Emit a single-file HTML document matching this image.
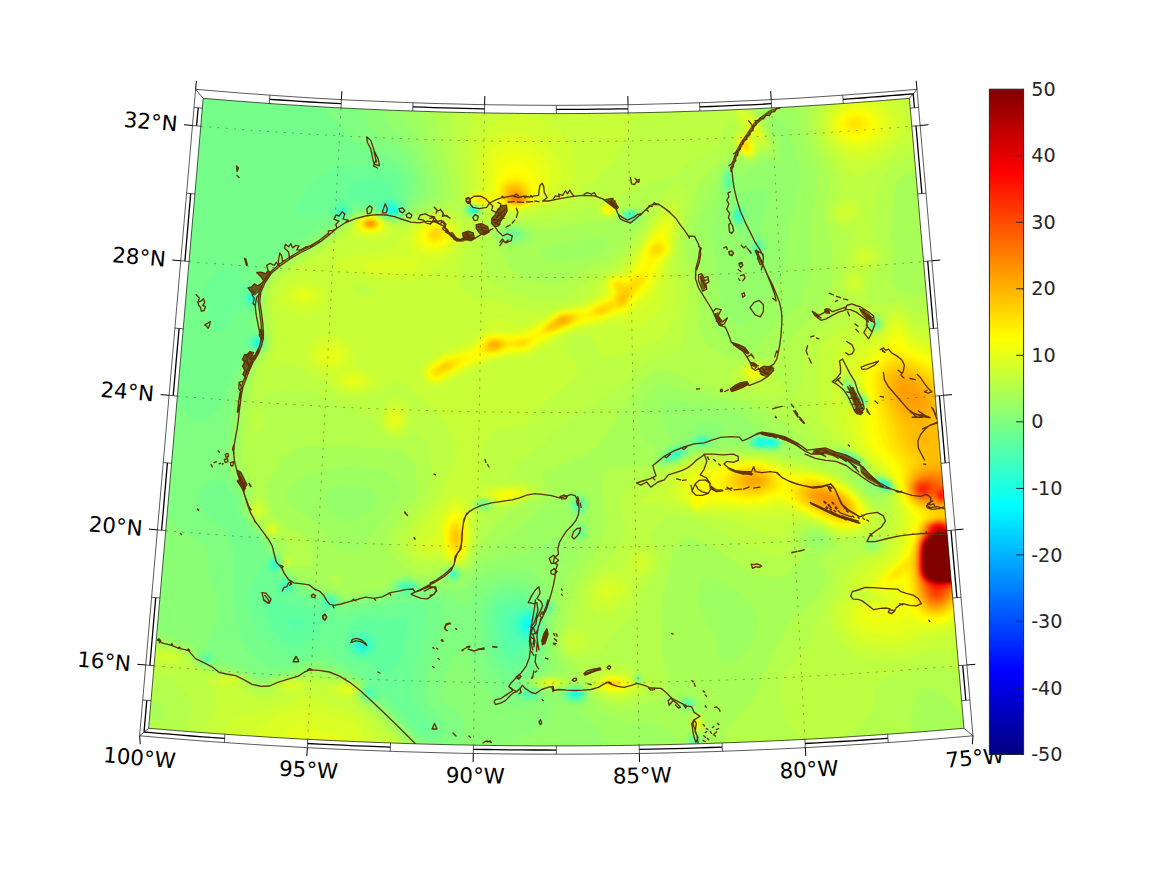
<!DOCTYPE html><html><head><meta charset="utf-8"><title>map</title>
<style>html,body{margin:0;padding:0;background:#fff}svg{display:block}</style></head><body>
<svg width="1167" height="875" viewBox="0 0 1167 875">
<rect width="1167" height="875" fill="#fff"/>
<defs><clipPath id="mc"><path d="M203.2 98.3 L215.1 99.3 L227.1 100.3 L239 101.2 L251 102.1 L262.9 103 L274.9 103.9 L286.8 104.7 L298.8 105.4 L310.7 106.2 L322.7 106.9 L334.7 107.6 L346.6 108.2 L358.6 108.8 L370.6 109.3 L382.6 109.9 L394.5 110.4 L406.5 110.8 L418.5 111.2 L430.5 111.6 L442.5 112 L454.4 112.3 L466.4 112.6 L478.4 112.8 L490.4 113 L502.4 113.2 L514.4 113.3 L526.3 113.5 L538.3 113.5 L550.3 113.6 L562.3 113.6 L574.3 113.5 L586.3 113.5 L598.2 113.3 L610.2 113.2 L622.2 113 L634.2 112.8 L646.2 112.6 L658.2 112.3 L670.1 112 L682.1 111.6 L694.1 111.2 L706.1 110.8 L718.1 110.4 L730 109.9 L742 109.3 L754 108.8 L766 108.2 L777.9 107.6 L789.9 106.9 L801.9 106.2 L813.8 105.4 L825.8 104.7 L837.7 103.9 L849.7 103 L861.6 102.1 L873.6 101.2 L885.5 100.3 L897.5 99.3 L909.4 98.3 L909.4 98.3 L964 728.3 L964 728.3 L950.2 729.4 L936.4 730.6 L922.7 731.7 L908.9 732.7 L895.1 733.7 L881.2 734.7 L867.4 735.6 L853.6 736.5 L839.8 737.4 L826 738.2 L812.2 739 L798.4 739.7 L784.5 740.4 L770.7 741 L756.9 741.6 L743.1 742.2 L729.2 742.7 L715.4 743.2 L701.6 743.7 L687.7 744.1 L673.9 744.4 L660.1 744.8 L646.2 745 L632.4 745.3 L618.6 745.5 L604.7 745.7 L590.9 745.8 L577.1 745.9 L563.2 745.9 L549.4 745.9 L535.5 745.9 L521.7 745.8 L507.9 745.7 L494 745.5 L480.2 745.3 L466.4 745 L452.5 744.8 L438.7 744.4 L424.9 744.1 L411 743.7 L397.2 743.2 L383.4 742.7 L369.5 742.2 L355.7 741.6 L341.9 741 L328.1 740.4 L314.2 739.7 L300.4 739 L286.6 738.2 L272.8 737.4 L259 736.5 L245.2 735.6 L231.4 734.7 L217.5 733.7 L203.7 732.7 L189.9 731.7 L176.2 730.6 L162.4 729.4 L148.6 728.3Z"/></clipPath></defs>
<g clip-path="url(#mc)">
<path d="M203.2 98.3 L215.1 99.3 L227.1 100.3 L239 101.2 L251 102.1 L262.9 103 L274.9 103.9 L286.8 104.7 L298.8 105.4 L310.7 106.2 L322.7 106.9 L334.7 107.6 L346.6 108.2 L358.6 108.8 L370.6 109.3 L382.6 109.9 L394.5 110.4 L406.5 110.8 L418.5 111.2 L430.5 111.6 L442.5 112 L454.4 112.3 L466.4 112.6 L478.4 112.8 L490.4 113 L502.4 113.2 L514.4 113.3 L526.3 113.5 L538.3 113.5 L550.3 113.6 L562.3 113.6 L574.3 113.5 L586.3 113.5 L598.2 113.3 L610.2 113.2 L622.2 113 L634.2 112.8 L646.2 112.6 L658.2 112.3 L670.1 112 L682.1 111.6 L694.1 111.2 L706.1 110.8 L718.1 110.4 L730 109.9 L742 109.3 L754 108.8 L766 108.2 L777.9 107.6 L789.9 106.9 L801.9 106.2 L813.8 105.4 L825.8 104.7 L837.7 103.9 L849.7 103 L861.6 102.1 L873.6 101.2 L885.5 100.3 L897.5 99.3 L909.4 98.3 L909.4 98.3 L964 728.3 L964 728.3 L950.2 729.4 L936.4 730.6 L922.7 731.7 L908.9 732.7 L895.1 733.7 L881.2 734.7 L867.4 735.6 L853.6 736.5 L839.8 737.4 L826 738.2 L812.2 739 L798.4 739.7 L784.5 740.4 L770.7 741 L756.9 741.6 L743.1 742.2 L729.2 742.7 L715.4 743.2 L701.6 743.7 L687.7 744.1 L673.9 744.4 L660.1 744.8 L646.2 745 L632.4 745.3 L618.6 745.5 L604.7 745.7 L590.9 745.8 L577.1 745.9 L563.2 745.9 L549.4 745.9 L535.5 745.9 L521.7 745.8 L507.9 745.7 L494 745.5 L480.2 745.3 L466.4 745 L452.5 744.8 L438.7 744.4 L424.9 744.1 L411 743.7 L397.2 743.2 L383.4 742.7 L369.5 742.2 L355.7 741.6 L341.9 741 L328.1 740.4 L314.2 739.7 L300.4 739 L286.6 738.2 L272.8 737.4 L259 736.5 L245.2 735.6 L231.4 734.7 L217.5 733.7 L203.7 732.7 L189.9 731.7 L176.2 730.6 L162.4 729.4 L148.6 728.3Z" fill="#9dff62"/>
<defs><filter id="fb" x="0" y="0" width="100%" height="100%" filterUnits="userSpaceOnUse" color-interpolation-filters="sRGB"><feGaussianBlur stdDeviation="1.2"/></filter></defs><g fill-rule="evenodd" filter="url(#fb)"><rect x="130" y="80" width="860" height="690" fill="#b3ff4c"/>
<path fill="#bdff42" d="M456 90l283 0 4.4 8 11.4 16 7.6 12 4.8 10 1.2 4 0.6 4 -0.3 2 -1.2 2 -1.5 0.7 -6 0.3 -2 2.8 -1.9 4.2 -2.1 2.1 -4 1.2 -2 -0.2 -4 -1.5 -4 -2.7 -2.9 -2.9 -4.2 -6 -1.6 -4 -0.7 -4 0.5 -4 1.2 -2 3.9 -4 0 -2 -2.2 -3.1 -2 -1.4 -2 -0.4 -2 1 -2 2.9 -8.6 19 -3.3 4 -2.4 2 -17.1 10 -16.6 12.5 -4 2.4 -12 3.2 -8 2.8 -36 16.8 -0.4 2.3 1.9 4 0 4 -3.5 6.5 -2 2.1 -2 1.1 -4 0.7 -6 -1.3 -4.4 -3.1 -2.8 -4 -0.8 -2.2 -2 -1.5 -2 0.1 -10 2.8 -18 6.5 -8 2.1 -18 2.8 -22 -0.6 -12 0.9 -11.2 3.1 -4 2 -2.8 2.3 -2.2 3.7 -0.9 4 0.4 12 1.1 10 1.6 7.3 2 5.5 3 5.2 3.7 4 5.4 4 10.6 6 7.3 3.3 6 2 8 1.6 18 2.4 8 0.1 6 -0.9 6 -2.2 4 -2.4 18.1 -15.9 21.9 -12.6 6 -4.3 6 -5.3 6 -6.5 8 -10.9 9.3 -16.4 6.7 -12.9 10 -15.1 4 -5.1 4 -3.9 4 -1.5 2 0.5 2 1.2 3 4.8 1.3 4 0.8 6 -0.5 12 -4.6 26.5 -0.5 11.5 -1.6 10 0.9 6 6.9 16 2.3 10 0.2 8 -0.5 8 -3.3 24 -2.7 12 -1.7 3.7 -2 2.4 -6 3.3 -22 7.1 -10 5.6 -6 5 -10 11.5 -6 5.7 -22 15.2 -24 13.2 -6 4.1 -5.7 5.2 -10.2 12 -6.1 5.9 -6 4.6 -14 9.1 -7.2 6.4 -6 8 -1.4 4 1.3 2 1.3 0.5 4.5 1.5 13.5 2.9 6.8 3.1 1.9 2 0.7 2 -0.3 2 -3.1 4 -6 3.8 -8 3.5 -12 3.6 -10 2 -2 -0.4 -2 -1.6 -3.6 -4.9 -4.4 -3 -6 -1.4 -4 0.7 -3.1 1.7 -1.7 2 -0.6 2 0.1 2 0.9 2 2.4 2.9 8.6 5.1 0 2 -4.6 10.6 -8.9 27.4 -3 6 -2.1 2.9 -2 1.4 -2 0.3 -8 -1.8 -4 -0.2 -26 2 -4 -0.8 -4 -1.7 -4 -2.5 -4.3 -3.6 -3.6 -4 -2.4 -4 -1.3 -4 -0.4 -4 1.2 -8 3.5 -8 5.7 -8 11.5 -12 3.1 -4 3.2 -6 1.8 -6 1 -8 0.4 -10 -0.3 -8 -1.1 -8 -1.5 -6 -2.5 -6 -2.3 -4 -3.4 -4 -2.7 -2 -3.6 -0.7 -14 6.3 -6 0.6 -6 -1.5 -4.4 -2.7 -4 -4 -2.7 -4 -4.9 -9.3 -4 -4 -16.5 -6.7 -21.5 -7.2 -16 -7.1 -6 -2.2 -4 -0.8 -6 -0.2 -14 1.7 -14 0.7 -4 1.1 -3.7 2 -6.3 5.8 -1.3 -5.8 -0.2 -6 1.5 -8.5 5.4 -17.5 2.7 -6 5.2 -8 1.9 -6 -0.1 -6 -3.5 -30 0.3 -10 1.1 -6 2.5 -6 4.5 -6.3 4 -3.9 9.9 -7.8 11.8 -8 24.3 -14.3 16 -12.3 12.5 -13.4 5.5 -3.3 4 -1.4 6 -0.7 4 0.5 4 1.6 12 6.6 8 1.8 4 -0.2 4 -1.2 14 -7.2 8 -3.1 12 -2.6 16 -1 2 0.8 6 6.5 4 2.4 4 1.1 4 0 4 -1.3 3.5 -3.3 1.4 -4 -0.4 -2 -1.5 -2 -3.2 -2 -7.8 -2.4 -4 -0.3 -6 0.6 -2 -0.9 -0.6 -1 -0.2 -2 1.5 -10 -5.4 -34 -3.5 -44 0.7 -10 2.3 -12zM830 90l150 0 0 62.5 -4 -0.8 -12 -4.4 -8 -1.6 -10 -0.1 -10 1.6 -8 2.5 -10 3.9 -20 9.6 -9.2 6.8 -3.5 4 -2.6 4 -3.1 8 -3.4 20 -4.6 18 -0.6 4 0.1 2 1.3 4 6.8 10 2 4 1.5 6 -0.1 4 -1.2 4 -2.4 4 -8.1 8 -0.9 3 -0.5 11 -4.2 12 0.7 1.1 2 1.2 10 1.6 4 -0.1 10 -1.9 6 0.2 6 2 12 7.2 4 1.1 6 -0.5 10 -3.8 12 -7.8 11.8 -10.3 14.2 -15 4 -3 2 -0.7 0 410.6 -6 -1.9 -11.1 -6 -9 -4 -9.9 -3 -8 -1.1 -8 0.1 -8 1.3 -32 9.4 -6.2 3.3 -2.1 2 -2.7 4 -2 6 -0.9 12 -0.8 4 -3.1 6 -4.2 4.5 -12 10.2 -12 7.8 -6 2.6 -6 1.9 -10 1 -10 -1.6 -8 -3.5 -4 -2.7 -4 -3.6 -4.9 -6.6 -4.3 -10 -2.4 -12 -0.6 -14 1.5 -10 2.7 -7.2 4 -6.6 16.4 -18.2 3.8 -6 8.6 -24 6.4 -14 7.3 -14 2.2 -8 1.5 -14 0.7 -2 2.1 -2 11 -3.5 10 -5.8 2 -0.2 10 1.2 4 -0.8 2 -1 2.4 -1.9 1.4 -2 0.8 -4 -0.6 -2.2 -2 -3.1 -4 -2.3 -6 -0.1 -12 3.3 -16 -0.3 -6 -2.4 -10 -6.9 -8 -3.8 -8 -1.7 -6 0.4 -3 1.1 -2.6 2 -4.5 6 -2.2 6 -1.7 10 -2 3.3 -2 1.7 -4 1.8 -4 0.6 -4 -0.2 -8 -2 -12 -5.2 -14 -7.1 -18.5 -10.9 -8.6 -4 -30.9 -11.2 -8 -1.1 -6 1 -5.9 3.3 -4 4 -6 8 -1.4 4 0.7 4 5.6 10 2.2 6 0.5 8 -0.8 4 -1.6 4 -3.3 5.1 -6.5 6.9 -2.8 4 -5.7 16 -5.5 10 -5.5 7 -11.8 11 -3.6 4 -8.6 14 -4 2.9 -8 2.4 -10 2 -6 -0.1 -6 -2 -4 -3.3 -2.5 -3.9 -1.1 -6 1.2 -6 2.1 -4 2.3 -3 7 -7 2.4 -4 1.3 -6 1.9 -18 1.7 -6 2.9 -6 6.8 -8.6 13.7 -11.4 4 -4 10.8 -14 3.6 -6 1.1 -4 0 -4 -4.3 -20 -0.5 -6 0.2 -4 1.7 -6 2.4 -4 3.3 -3.2 4.7 -2.8 13.3 -4.8 14.5 -7.2 13.5 -5.1 14 -6.8 6 -2.2 8 -1.1 48 -3.1 14 0.9 9.4 1.4 18.6 4.6 24 4.6 12 3.9 10 5.4 10 7.2 28 25.5 4 2.9 2 0.5 2 -0.7 1.8 -1.9 1.5 -4 0.9 -6 3.8 -3 2.8 -3 0.6 -2 -0.5 -4 -2.9 -4.5 -6 -4.7 -4 -1.7 -8 -1.9 -2.6 -1.2 -2.6 -6 -2.5 -4 -4.3 -4.5 -6 -4.7 -6 -3.4 -6 -2.6 -6 -1.7 -12 -1.3 -3.4 -1.8 -2.6 -2.2 -5.3 -5.8 -5.5 -8 -12.2 -22 -2.1 -6 0 -2 0.8 -2 4.3 -6.8 2 -5.2 0.7 -6 -0.5 -12 0.6 -6 2.4 -8 4.1 -8 6.7 -8.7 10 -9.6 10 -7.6 15.8 -10.1 1.6 -2 -0.8 -2 -4.6 -3.6 -4 -4.5 -2.8 -5.9 -0.6 -4 0.9 -6 5.1 -10 0.3 -4 -1.2 -8 0.4 -4 1.1 -4 3.7 -8 0.9 -4 -0.7 -2 -2.3 -2 -8.8 -4.5 -4 -2.7 -2.8 -2.8 -2.5 -4 -1 -4 0.9 -6 2 -4 7.6 -10 0.9 -4 -0.3 -4 -1.6 -6 -3.5 -8 -16.4 -30 -2.8 -8 -1.4 -8 0.2 -10 2.7 -9.3 4.9 -8.7zM870.6 312l-2.6 1.6 -3.1 4.4 -0.8 4 0.6 4 2.5 4 2.8 2 4 1.1 4 -0.7 3.5 -2.4 2.3 -4 0.6 -4 -0.8 -4 -1.6 -3.2 -2 -2.1 -2 -1.2 -4 -0.8zM842.7 378l-1.7 4 0 4 1.5 6 3 6 4.5 5.3 8 5.9 4 0.7 2 -0.6 2 -1.6 1.7 -3.7 0 -4 -1.7 -3.4 -6 -4.7 -6 -9.8 -4 -3.9 -4 -1.6 -2 0.3zM746 361.8l6 -1.2 8 0.4 6 2.1 4.1 2.9 3.3 4 3.7 10 5.3 6 2.7 4 0.7 2 -0.1 2 -1.5 2 -6.2 2.2 -6 -0.3 -14 -5.6 -18 -2.7 -3.6 -1.6 -2.8 -2 -1.9 -2 -2.1 -4 -0.4 -2 1.3 -4 3.1 -4 4.3 -4 4.1 -2.6zM256 402.6l1.1 3.4 5.4 10 1.3 6 -0.7 4 -2.4 4 -2.7 2.6 -2 1.2 -2 0 -1.6 -1.8 -0.6 -2 -0.2 -10 1 -8 1.4 -5.3 1.9 -2.7zM256 497.5l2 -0.5 2 0.5 2 1.4 2.3 3.1 1.7 4 0.8 4 -0.3 4 -1.8 4 -2.7 1.4 -4 -0.1 -2 -0.9 -2.6 -2.4 -2 -4 -0.4 -4 0.6 -4 2.4 -4.8zM268 520.6l2 -0.3 4 0.5 4.5 3.2 1.2 2 0.7 4 -0.5 2 -1.9 2.7 -2.5 1.3 -3.5 0.3 -4 -1.7 -2 -2.3 -1.1 -2.3 -0.2 -4 1.3 -3.9zM286 557.2l2 -0.4 2 0.8 2 2.4 0.5 2 -0.3 2 -2.2 2.6 -2 0.5 -2 -0.5 -1.9 -2.6 -0.1 -4.2zM146 649.6l8 -1.1 10 0 8 0.9 6 1.6 5.5 3 2.1 2 3.7 6 3.4 4 7.3 5.1 6 2.4 6 1.5 18 0.2 8 1.8 4.9 3 2.8 6 2.2 2 6.1 3 6 2 6 0.3 5.4 -1.3 2.4 -2 0.9 -4 1.3 -2 4 -2.5 8 -1.9 28 -0.3 14 1.6 14 0.8 8 1.6 4 2.3 1.3 2.4 -1.5 10 0.5 2 1.7 2.8 4 3.8 8 5.4 24 21.9 11.7 14.1 2.4 4 1.1 4 -257.5 0 1.2 -2 2 -2 17.1 -12.5 8 -8.2 4 -5.5 4.5 -7.8 2.6 -6 1.1 -6 -0.7 -4 -2.6 -4 -8.9 -9.6 -7.9 -10.4 -2.1 -1.7 -2 -1 -4 -0.5 -14 1.9 -10 -0.4 0 -25.5zM608 663.4l6 -0.6 6 0.6 8 1.8 7.1 2.8 2.3 2 -1.4 1.3 -3 4.7 0.1 4 1.2 2 1.7 1.6 2 0.8 2 -0.1 2 -0.8 1.8 -1.5 1.5 -2 0.7 -3.5 2 0.2 2.6 3.3 1.1 4 -0.7 4 -1.2 2 -4.2 4 -5.6 3.3 -8 3.5 -8 2.2 -4 0.2 -6 -0.9 -10 -3.3 -6 -2.8 -4 -3.4 -5.1 -6.8 -2.3 -4 -0.3 -2 2 -4 5.7 -5.4 6 -4zM548 677.8l6 -0.1 6 0.7 4.8 1.6 1.3 2 -1.6 2 -3.6 2 -6.9 1.5 -10 -0.5 -3.7 -1 -3.5 -2 -0.4 -2 2.4 -2 3.2 -1.1zM696 715.4l2 -0.1 2 0.8 2.2 1.9 1.8 4 0.2 2 -0.7 4 -1.4 2 -2.1 1.4 -2 0.3 -4 -0.9 -3 -2.8 -0.6 -2 -0.1 -4 0.6 -2 3.1 -3.8z"/>
<path fill="#c7ff38" d="M492 90l187.1 0 0.3 8 -0.9 4 -1.1 2 -3.4 3.3 -4 2.1 -8.8 2.6 -19.2 3.1 -4 1.4 -2.3 1.5 -2.9 4 -5.7 14 -4 8 -5.8 10 -5.6 8 -6.7 8 -10.2 10 -11.1 10 -10.2 8 -7.5 4.7 -8 4.1 -16 5.4 -10 2.3 -8 1.2 -18 0.3 -8 -0.7 -6 -1.4 -2 -0.8 -5.7 -5.1 -3.5 -2 -6.8 -2.3 -9.1 -1.7 -1.5 -2 1.1 -4 4 -6 0.2 -2 -2.9 -16 -0.8 -14 1 -14.1 3.1 -15.9 2.9 -9.2 4 -8.3 4 -5.7 9.1 -10.8 1.6 -4zM848 90l67.4 0 4.9 8 2.5 8 0.3 8 -2.2 10 -3.8 8 -5.9 8 -8.7 8 -20.2 14 -14.3 11.1 -4 2.6 -4 1.4 -4 -0.3 -6 -3.2 -4 -3.5 -6 -6.8 -10 -13.7 -4.8 -7.6 -2.7 -6 -2.1 -8 -0.2 -6 0.9 -6 2.3 -6 2.6 -4.1 4 -4.7 6 -4.9 6 -3.7zM732 101.8l2 -1.3 4 0.9 4 2.5 6 5.3 6 7 4.1 5.8 4.7 8 2.6 6 1 4 -0.4 4.1 -2 1.5 -4 0 -2 0.7 -2.3 7.7 -1.7 2.4 -2 1.2 -4 0.3 -2 -0.6 -4 -2.3 -4.7 -5 -2.3 -4 -1.2 -6 0.8 -4 1.5 -2 5.9 -3.8 0.1 -2.2 -9.3 -18 -1.2 -4 -0.2 -2zM604 201.5l2 -0.6 4 0 4 1.5 2 1.8 1.3 1.8 0.1 4 -1.4 2.8 -2 2.3 -4 1.8 -4 -0.1 -4 -1.6 -3.1 -3.2 -0.6 -2 0.4 -4 1.5 -2zM672 201.5l2 0 2 0.7 1.8 1.8 1.6 4 0.6 4 -0.3 10 -3 18 -0.3 10 -1 4 -3.2 8 -0.5 4 0.3 6.3 4.8 15.7 0.8 8 -0.9 8 -2.9 12 -3.6 10 -3.4 6 -4.8 5.1 -8 4.7 -34 13.4 -6 1.8 -4 0.4 -6 -1 -3.4 -2.4 -2.6 -4.1 -4.2 -9.9 -3.3 -4 -4.5 -1.4 -4 0 -7.4 1.4 -4.7 2 -3.4 4 -0.9 2 0 4 2.8 6 7.3 10 2.2 4 0.3 4 -1.7 4 -5.9 6 -23.2 18 -6.9 6 -5.5 6 -7 9.3 -3.3 2.7 -6.7 2.4 -18 2.4 -4 1.5 -4 2.6 -2.9 3.1 -2.5 4 -2.5 6 -1.8 6 -4.1 26 0.6 4 1.2 1.1 1.4 0.9 4.6 0.5 24 -1 14 1.2 4.6 1.3 3.8 2 1.6 2 0.1 2 -0.9 2 -4.8 4 -6.4 3.1 -8 2.5 -10 2.1 -6 -0.3 -8 -6.2 -6 -2.4 -6 0 -4 1.8 -1.5 1.4 -1.3 2 -0.4 4 4 8 0.6 2 -1.2 18 -1.2 8 -2.6 10 -3.4 8 -3 4 -2 0.9 -2 0.1 -14 -1.8 -8 -3.3 -2 -0.3 -12 0.2 -4 -1.1 -5.1 -2.7 -4 -4 -2.7 -6 0 -6 1.9 -6 3.2 -6 4.2 -6 15.2 -18 5.7 -8 4.4 -8 12.3 -28 1 -6 -0.7 -8 -3.6 -12 -3.4 -8 -5.3 -8 -9.1 -9.2 -32 -25.1 -6 -3.1 -2 -0.1 -2 0.7 -7.5 6.8 -4.5 2.9 -6 2.6 -6 1.8 -6 0.9 -10 0.1 -10 -1.8 -8 -3.5 -4.3 -3 -9.7 -10 -26 -13.4 -6 -0.4 -12 3.4 -4 -0.3 -2 -2.5 -0.1 -2.8 5.6 -16 0.5 -12 -0.5 -6 -3.5 -17.6 -0.4 -10.4 0.4 -4 1.2 -4 3.3 -6 5.5 -5.8 18.6 -14.2 25.4 -14.9 16 -11.6 4 -4.1 5 -9.4 3.1 -4 3.9 -3.3 4 -2.1 6 -1.4 6 0.5 5.4 2.3 14.6 9 6 1.7 6 -1.4 12.5 -7.3 7.5 -3.4 8 -2.1 10 -0.3 8 1.7 6 3 5.3 5.1 2.7 6 1.1 6 -0.3 6 -1.7 8 -3.9 12 -1 6 -0.2 6 0.6 6 1.7 6 2.2 4 3.5 4 4 2.6 4 1.6 24 3.4 30 9.4 8 1.2 6 -0.7 14 -5 18.9 -4.5 4.5 -2 2.9 -2 4 -4 6 -8 7.3 -8 6.4 -4.7 10.3 -5.3 7.7 -7.1 8 -10.5 18 -29.5 6 -8.5 8 -8zM355 286l-1.2 2 0 2 0.9 2 1.6 2 3.7 2.3 4 0.8 4 -0.7 3 -2.4 0.9 -2 -0.2 -2 -1.4 -2 -3.1 -2 -7.2 -1.5zM844 201.6l6 -1.4 4 0.1 4 1.9 2 2.9 1.1 4.9 -0.6 4 -2.1 4 -4.4 3.6 -6 1.6 -6 -1 -4 -2.3 -3 -3.9 -0.6 -4 1.4 -4 3.8 -4zM860 245.9l6 -0.9 4 1.1 2 1.1 2 1.8 1.9 3 0.9 4 -0.9 4 -1.2 2 -2.7 2.6 -6 2.8 -6 1.2 -2 -0.9 -4 -5.2 -1.1 -2.5 -0.6 -4 1 -4 1.3 -2 1.9 -2zM854 271.7l4 -0.8 2 1.6 3.2 5.5 0.8 4 -0.4 4 -1.6 3.3 -2 2 -4 1.7 -4 -0.2 -4 -2.5 -1.7 -2.3 -1.2 -4 0.5 -4 2.2 -4 2.2 -2.1zM976 301.2l4 -1.1 0 353.9 -22 -4.5 -14 -1 -6 0.4 -6 1.2 -20 7.3 -10 2.2 -8 0.3 -16 -1.2 -12 0.2 -8 -1.2 -6 -3.1 -4 -3.9 -14.4 -20.7 -2.4 -6 -0.7 -4 0 -4 0.9 -6 1.8 -6 1.9 -4 6 -8 0.8 -2 0.9 -8 1.2 -3.9 2 -4.1 3 -4 13.6 -12 3.4 -1.4 8 -1.1 4 -1.3 3.4 -2.2 3.2 -4 1.1 -4 0.3 -10 4 -11.9 1.7 -8.1 0.4 -6 -0.7 -8 0.3 -2 4 -6 0.3 -4 -1.5 -4 -4.5 -5.2 -6 -3.7 -8.1 -3.1 -1.9 -1.2 -6.3 -8.8 -5.7 -5.7 -10 -7.1 -16.9 -9.2 -4 -4 -5.5 -8 -2.9 -6 -1.9 -6 -2.3 -14 0 -40 1.5 -10 1.6 -4 2.4 -4 6 -6.2 10 -6.4 14 -6.1 4 -0.8 2 0.7 6 6.3 4 2.2 4 0.7 4 -0.7 2 -0.9 3 -2.8 2.1 -4 1.1 -10 0.7 -2 3.1 -2.9 4 -1.8 4 -0.3 4 1.3 5 3.7 9 9.3 4 2 6 0.6 8 -1.6 10.5 -4.3 11.1 -6zM841 376l-1.8 4 0.1 6 1.7 6 4.4 8 4.6 4.9 6 4.3 4 1.6 2 0 2 -0.8 2.4 -2 1.8 -4 -0.1 -4 -1.9 -4 -6.2 -5.4 -5 -8.6 -5 -5.5 -4 -2.1 -2 -0.1zM748 363.3l4 -0.8 6 0.2 4 1.3 3.3 2 1.9 2 1.7 4 -0.3 4 -2.5 4 -4.1 2.9 -8 1.8 -8 -1.1 -4 -2.1 -2.8 -3.5 -0.7 -2 0 -4 0.8 -2 2.7 -3.4zM392 397.5l6 -0.9 2 0.3 4 2 2 1.9 2.1 3.2 1.6 4 0.8 4 -0.3 8 -1.1 4 -1.9 4 -5.2 5.5 -2 1.1 -4 1.1 -4 -0.3 -2 -0.6 -4 -2.8 -3.1 -4 -1.7 -4 -0.8 -4 0.5 -8 2.2 -6 2.9 -4.2 4 -3.4zM742 456l14 -0.2 12 1.3 23.8 6.9 18.2 2.9 8 1.9 8 2.7 8 3.7 10 6 8 5.9 9.8 8.9 7.4 8 4.1 6 2.4 6 0.9 6 -0.7 4 -0.9 2 -1.9 2 -3.1 1.7 -8 2.8 -10 1.6 -8 0.3 -6 -1.4 -12 -7.1 -8 -3.8 -8 -2.3 -10 -1.2 -6.5 1.4 -13.5 11.1 -4 1.4 -4 0.2 -6 -1.1 -8 -2.5 -16.3 -7.1 -9.7 -3.2 -8 -1.5 -28 -3.7 -18 -6.4 -20 -6.2 -4 -0.3 -10 2.1 -2.2 -0.8 -1 -2 0.4 -2 2 -2 6.8 -2.7 4 -3.1 13.2 -18.2 5.2 -4 11.4 -6 8.2 -3.1 6 -1.1zM256 501.3l2 -0.5 2 0.7 2.4 2.5 1.6 4 0.2 4 -0.6 2 -1.6 2.3 -2 1 -2 0 -2 -0.8 -2 -2 -1.2 -2.5 -0.4 -2 0.4 -4 1.2 -2.8zM268 523.4l2 -0.9 4 0.4 3.4 3.1 0.9 4 -0.6 2 -1.7 2 -2 0.9 -2 0.2 -3 -1.1 -2.1 -2 -1.1 -4 0.3 -2zM638 549.4l4 -0.3 4 1.1 4 2.7 2 2.6 1.2 2.5 0.7 4 -0.5 4 -1.7 4 -1.7 2.1 -4 3.2 -11.1 4.7 -1.2 2 -1.7 10 -1.3 4 -3.6 6 -5.1 4.9 -8 4.9 -8 2.6 -6 0.1 -4 -1.6 -3.1 -2.9 -2.5 -4 -1.6 -4 -0.7 -4 0.4 -8 1.4 -4 2.1 -3.6 6 -6.1 6 -3.4 6 -2 12 -2.1 2 -1.9 2.6 -6.9 3.4 -5.5 4 -3.4zM286 559l2 -0.1 1.6 1.1 0.9 2 -0.3 2 -2.2 1.8 -2 -0.5 -0.9 -1.3 -0.5 -2zM574 631.6l4 -0.6 4 0.9 2.8 2.1 1.8 4 0 4 -2.6 5.4 -4 3.1 -4 1 -4 -0.6 -2 -1 -2 -1.9 -1.8 -4 0.1 -4 1.7 -3.9 2 -2.2zM158 651.8l4 -0.7 6 -0.2 8 1.7 2.9 1.4 2.2 2 1.1 2 0.3 2 -0.5 2 -2 2 -4 0.8 -12 -0.7 -8 -1.6 -3.8 -2.5 -1 -2 0.3 -2 1.6 -2zM606 671.5l6 -1 6 -0.1 6 0.6 6 1.5 1.5 1.5 0.9 6 1.6 2.7 2 1.8 2 1 5 0.5 0.2 2 -3.4 4 -3.8 2.5 -6 2.6 -6 1.6 -4 0.4 -6 -0.5 -6 -1.4 -6 -2.1 -4 -2.1 -3.4 -3 -2.8 -4 -0.9 -4 0.7 -2 1.5 -2 2.9 -2.4 4 -2.2zM214 678l12 -1.8 6 0.4 5.2 1.4 2.9 2 0.9 2 -0.3 2 -3.2 4 -0.6 2 10.1 4 9 4.7 6 1.1 6 -0.6 8 -1.9 4.4 -1.3 3.1 -2 -0.7 -2 -4.3 -4 -0.6 -2 0.9 -2 1.2 -0.9 1.9 -1.1 4.1 -1.1 6 -0.6 8 0.6 20 4.7 4 -0.1 16 -2.6 6 0.2 6 1.3 2.7 1.6 1.4 2 -0.4 4 -2.5 6 -0.2 2 1.8 4 3.5 4 9.7 8.1 10 10.2 12 10 4.4 5.7 3.4 6 1.8 4 0.9 4 -210.7 0 2.1 -6 10.1 -16.3 6.5 -11.7 3.9 -8 3.1 -8 1.7 -8 -0.3 -6 -1.8 -2 -8.2 -6 -0.8 -2 2 -2zM542 679.8l6 -1.2 6 0 6.8 1.4 2.3 2 -1.1 2 -4.4 2 -5.6 0.8 -6 -0.3 -4 -0.9 -3.2 -1.6 -0.5 -2zM696 716.9l2 0 2 1 1.8 2.1 0.9 2 0 4 -0.9 2 -1.8 2 -2 0.6 -2 -0.1 -2 -0.9 -1.5 -1.6 -0.9 -2 0 -4 0.8 -2 1.6 -2z"/>
<path fill="#d1ff2e" d="M852 95.9l8 -1.4 10 -0.1 10 1.7 8 2.9 6 3.6 5.7 5.4 3.6 6 1.5 6 -0.1 6 -1.8 6 -3.5 6 -5.4 5.7 -8.2 6.3 -11.8 7 -10 4.4 -6 1.3 -6 -0.8 -4 -2 -6 -5 -6 -6.2 -5.3 -6.7 -2.7 -4.5 -2.3 -5.5 -1.1 -6 0.3 -6 1.1 -4 1.9 -4 2.8 -4 4.2 -4 5.1 -3.5 6 -2.7zM740 109.1l2 -0.1 4 2 4 3.4 4 4.4 6.2 9.2 2.8 6 1 4 0 2.3 -1.1 1.7 -0.9 0.5 -4 -0.1 -2 1 -0.4 6.6 -1.2 4 -2.4 2.4 -2 0.6 -4 -0.7 -4 -2.5 -3.5 -3.8 -2.7 -6 -0.4 -4 1.6 -4 3 -1.9 4 -0.9 2.1 -1.2 -0.3 -2 -6.4 -14 -0.7 -4 0.5 -2zM510 115.9l10 -1.5 10 1 10 3.8 10 6.4 10.5 8.4 7.5 8.4 3.3 5.6 1.6 4 2.2 10 -0.5 10 -2.4 8 -4.6 8 -5.6 5.9 -8.5 6.1 -13.5 7 -10 3.8 -10 1.8 -6 0.2 -6 -0.5 -6 -1.1 -8 -2.5 -8 -1.1 -10 -3.7 -7.8 -1.9 -2.3 -2 0.1 -2 1.2 -2 2.8 -2.5 5.3 -3.5 0.9 -2 -2.9 -14 -0.2 -12 1.9 -12 1.8 -6 2.6 -6 5.3 -8 3.3 -3.5 4 -3.2 8 -4.1zM604 203.2l2 -0.7 4 0 3.6 1.5 2.1 2 0.8 2 -0.2 2 -2.3 3.8 -2 1.4 -4 0.7 -4 -0.9 -2 -1.4 -1.4 -1.6 -0.7 -2 0 -2 0.8 -2zM844 207.3l4 -0.4 2 0.6 2.6 2.5 0.5 2 -0.4 2 -2.7 3 -2.8 1 -3.2 -0.1 -2 -0.9 -2 -2.2 -0.5 -2.8 0.7 -2 1.8 -1.7zM668 209.8l4 -0.2 2 1.3 2.2 5.1 0.3 8 -2.3 16 0 10 -1.3 4 -4.4 8 -1.2 4 -1.5 10 -0.9 18 -1.8 8 -2.5 6 -3.4 6 -3.2 3.9 -4 3.5 -8 3.9 -10 2.2 -8 0.1 -10 -2 -4 0 -20 2.3 -10 1.9 -7.9 2.2 -5.4 2 -26.7 17.1 -12 6.7 -4 1.1 -17 1.1 -9 1.4 -9 2.6 -31.6 14 -17.4 8.9 -6 0.6 -4 -1 -4 -2.5 -3.5 -4 -1.6 -4 -0.3 -6 2.5 -6 2.9 -3.2 16 -10.5 20.1 -6.3 4.2 -2 7.8 -6 13.6 -14 4.3 -3.2 4 -1.4 4 -0.2 4 1.1 8 4.6 4 1.7 2 0.3 6.6 -0.9 13.4 -4.2 20 -10.8 24 -5 10.9 -6 4.9 -4 2.2 -2.6 3.2 -9.4 3 -4 3.8 -2.8 9.3 -3.2 2.7 -1.5 6 -6.2 6 -8.3 5.5 -10 15.3 -24 7.2 -8.3zM368 215.7l4 0.1 4 1 8.1 5.2 4.4 4 1.5 2 0.8 2 0 2 -0.8 2 -4 3.3 -4 1.4 -10 1.6 -10 -0.6 -6 -2.3 -2 -1.9 -1.5 -3.5 0.1 -4 1.6 -4 3.4 -4 2.9 -2 3.5 -1.5zM430 217.6l6 -1 6 0.2 5.2 1.2 4.4 2 2.8 2 3.6 4 1.9 4 1.1 6 -0.3 4 -1.1 4 -1.9 4 -2.7 4 -21 20 -4 2.9 -6 2.7 -8 1.8 -12 0.7 -16 -0.4 -10 -1.1 -31.7 -6.6 -7 -2 -3.1 -2 -1 -2 0.4 -2 1.6 -2 2.8 -2.1 6 -2.7 8 -2.2 8 -1.5 26 -3.4 5.6 -2.1 2.4 -2 3.6 -6 3.1 -4 8.6 -8 8.7 -6.2 6 -2.9zM862 251.2l4 -0.4 2 0.6 2 1.7 1.2 2.9 -0.3 2 -1.3 2 -3.6 2 -2 0.1 -2 -0.3 -2.6 -1.8 -1.1 -2 -0.3 -2 0.7 -2 1.3 -1.5zM854 277.5l2 0.2 2 1.3 1.4 3 0 2 -1.4 2.7 -2 1.4 -2 0.2 -2 -0.6 -1.9 -1.7 -0.8 -2 0 -2 0.8 -2 1.9 -1.8zM298 281.5l6 -1.3 6 0.2 6 2 6 4 3.1 3.6 1.7 4 0.2 2 -0.7 4 -2.4 4 -3.9 3.7 -6 3.6 -4 1.6 -6 1.4 -4 0.3 -6 -1 -4 -1.8 -4 -3 -3.8 -4.8 -1.6 -4 -0.2 -4 1.2 -4 2.4 -3.1 3.7 -2.9zM894 315l4 -0.7 4 1.5 4 3.6 6 8.6 4 4 4 1.9 6 0.8 10 -0.7 9.3 -2 11.7 -4 17 -7.3 6 -1.3 0.1 236.6 -0.1 75.4 -16 0.9 -32 6.5 -6 1.8 -18 8.3 -6 1.5 -8 0.5 -24 -2.2 -6 -1.4 -6 -2.8 -6 -4.8 -6.7 -7.7 -3.7 -6 -2.1 -6 -0.6 -6 0.8 -6 1.6 -4 2.7 -3.2 2 -1.2 4 -1.1 16 -0.2 1.2 -0.3 1.2 -2 -1.6 -2 -2.8 -1.9 -8 -3.8 -2.8 -2.3 -0.9 -2 -0.1 -2 0.5 -2 2.3 -4 6.7 -8 6.1 -6 3.4 -2 8.8 -3.3 4.2 -2.7 3.8 -4 3.5 -6 3.4 -10 2.2 -12 -0.1 -10 -2.6 -12 0 -2 2.3 -6 0.3 -2 -0.2 -2 -1.6 -4 -3.2 -4.1 -6 -4.8 -9.4 -5.1 -11 -12 -17.7 -14 -3.5 -4 -5.1 -10 -4.1 -12 -2.4 -12 -0.9 -12 0.3 -6 1.8 -4.6 5.1 10.6 3.8 6 7.1 7 6 3.6 4 1.1 4 -0.7 3.2 -3 1.6 -4 -0.1 -4 -0.7 -2 -2 -3.1 -5.4 -4.9 -4.6 -8.3 -4 -5.4 -4 -3.7 -4 -2.1 -4 -0.4 -4 1.3 -2 -0.8 -0.7 -6.6 0.7 -6 2 -4.6 4 -4.7 6 -4.2 8 -4.5 8 -3.4 4 -0.5 8 0.5 6 -1.8 2 -1.5 2.8 -3.3 5.2 -12zM322 336l8 -1 8 1.3 6 2.4 6 4.5 3.4 4.8 1.3 4 0.2 4 -0.8 8 1.9 2.5 12 5.8 4.6 3.7 1.2 2 0.6 4 -1.9 4 -2.3 2 -3.5 2 -6.7 1.9 -8 0.3 -8 -1.6 -4 -1.7 -3.9 -2.9 -2.8 -4 -2.4 -6 -1.8 -2 -12.4 -6 -5.4 -4 -3 -4 -1.4 -4 -0.1 -4 1.1 -4 2.1 -4 4 -4.2 4 -2.5zM752 364l4 0 4 0.9 4.4 3.1 1.2 2 0.5 4 -0.7 2 -3.4 3.7 -4 1.8 -6 0.4 -4 -0.8 -4.8 -3.1 -1.8 -4 0.8 -4 1.3 -2 2.5 -2zM392 405.4l4 -0.4 4 1.4 3.5 3.6 2.3 6 -0.2 6 -1.4 4 -2.2 3.1 -2 1.7 -4 1.6 -4 -0.4 -3.5 -2 -3.1 -4 -1.3 -4 0 -6 1.2 -4 2.7 -4zM740 457.9l14 -0.5 12 1.3 8 2.1 16 5.5 20 2.8 8 1.8 8 2.7 8 3.7 10 5.8 8 5.8 7.9 7.1 5.4 6 3.9 6 2.2 6 0.3 6 -1.1 4 -3.4 4 -7.2 3.6 -10 2.2 -8 0 -6 -2 -12 -6.7 -8 -3.5 -12 -3.7 -16 -3.7 -6 -0.2 -14 3.5 -8 0.5 -30 -4 -34 -1.5 -6 -2.2 -12 -7 -4.6 -3.3 -3.1 -4 -0.8 -2 -0.5 -4 0.6 -4 1.9 -6 3.2 -6 4 -4 3 -2 8.3 -3.7 6 -1.5zM508 485.9l8 0 8 1.2 4 1.9 1.3 1 0.7 2 -0.7 2 -1.9 2 -5.4 3.1 -10 3.3 -10 1.6 -4 -0.5 -10 -6.4 -7.6 -3.1 1 -2 6.6 -2.8 10 -2.3zM452 495.5l4 -1.3 4 0.2 4.9 1.6 2.8 2 0.4 8 2.4 8 1 6 0.2 16 -0.6 6 -1.8 8 -2.1 6 -2.1 4 -3.1 3.2 -2 0.6 -11.9 -1.8 -3.4 -2 -4.7 -4.3 -2 -1 -2 -0.4 -10 0.4 -4 -0.9 -3.3 -1.8 -2 -2 -1.8 -4 0.1 -4 1.6 -4 13.7 -20 13.7 -15.9 4 -3.9zM258 503.9l2 1 0.8 1.1 1.3 4 -0.2 2 -1.1 2 -2.8 1.1 -2.3 -1.1 -1.8 -4 0.1 -2 0.8 -2 1.2 -1.5zM268 525.5l2 -1.3 2 -0.2 2 0.7 1.5 1.3 1.1 2 0.1 2 -0.8 2 -1.9 1.5 -2 0.4 -2 -0.5 -1.9 -1.4 -1 -2 -0.1 -2zM642 556l2 0.4 2.4 1.6 1.6 2.7 0.3 3.3 -0.7 2 -1.6 2.1 -2 1.3 -4 0.7 -2 -0.6 -2.1 -1.5 -1.2 -2 -0.2 -4 2.3 -4 3.2 -1.8zM286 561.2l2 -0.1 0.6 0.9 -0.6 2.1 -2 -0.5zM608 577.7l6 -0.2 4 1.1 2.5 1.4 3.3 4 0.8 2 0.3 4 -0.9 3.5 -1.3 2.5 -4.7 4.8 -6 2.9 -4 0.7 -4 -0.1 -4 -1.5 -2 -1.5 -2 -2.5 -1.6 -4.8 0.2 -4 1.5 -4 3.2 -4 4.7 -3.1zM574 639.9l2 0.6 0.6 1.5 -0.6 1.2 -2 0.9 -1.4 -2.1zM164 654l4 -0.5 4.2 0.5 3.5 2 0.4 2 -2.1 1.5 -2 0.6 -4 0 -4 -1 -2.1 -1.1 -0.7 -2zM608 673.8l4 -0.6 6 -0.1 10 2.1 2 1.3 2.5 5.5 3.6 4 1.2 2 -1.2 2 -4.1 2.8 -4 1.8 -6 1.4 -4 0.2 -6 -0.5 -10 -3.2 -4 -2.5 -1.9 -2 -1.6 -4 0.3 -2 1.2 -2.1 4 -3.3 4 -1.8zM224 677.7l4 -0.3 5.3 0.6 3.9 2 0.7 2 -1.7 2 -2.2 1 -6 0.8 -6 -0.8 -2.5 -1 -2.3 -2 0.6 -2 4.2 -2zM546 679.7l6 -0.4 4 0.5 4.3 2.2 -0.9 2 -3.4 1.3 -4 0.7 -6 -0.3 -5.1 -1.7 -0.5 -2 3.6 -1.9zM286 682l6 -0.5 6 0.7 4.5 1.8 1.5 2 -0.5 2 -1.5 1.6 -4 1.4 -6 -0.4 -6 -1.2 -3.2 -1.4 -1.8 -2 0.6 -2zM336 685.6l6 -1.4 4 0 4 0.7 2.7 1.1 1.3 1.2 0.8 2.8 -0.8 2.4 -2 2.6 -2 1.6 -4 1.3 -4 -0.2 -6 -2.4 -3.6 -3.3 -0.5 -2 0.6 -2zM300 695.6l4 -0.6 4 1 24 9.4 12 3.5 12 6.4 6 4 4.5 4.7 4.7 8 6.7 16 1.9 8 -164.7 0 0.8 -4 1.4 -4 7.9 -16 6.1 -10 4.7 -5 6 -2.7 12 -0.9 6 -1.1 16 -6 12 -3.3 4 -1.9zM694 719.6l2 -1.3 2 -0.1 2.5 1.8 1.3 4 -0.3 2 -1.5 2.5 -2 1 -2 -0.1 -2.2 -1.4 -1.1 -2 -0.3 -2 0.3 -2z"/>
<path fill="#dbff24" d="M860 100l8 0.5 6 1.5 6 2.3 5.9 3.7 4.1 4 2.8 4 1.6 4 0.6 6 -1.6 6 -2.3 4 -3.6 4 -5.5 4.5 -8 4.7 -6 2.6 -6 1.6 -6 0.4 -4 -0.7 -6 -2.8 -6 -4.4 -4 -3.9 -4 -5.4 -2.2 -4.6 -1.1 -4 -0.2 -6 0.9 -4 1.9 -4 3 -4 3.7 -3.2 4 -2.5 6 -2.5 6 -1.4zM744 114.7l2 0 4 2.5 6 6.8 3.5 6 1.6 4 0.1 4 -1.2 1.1 -2 0 -4 -1.6 -2 -1.6 -2 -2.8 -6.4 -13.1 -0.4 -4zM510 131.9l10 0.8 6 1.5 6 2.4 10 5.5 9.4 7.9 5.9 8 3.1 8 0.8 6 -0.3 4 -0.9 4 -1.7 4 -2.7 4 -3.6 4 -11.5 10 -6.5 4.5 -8 3.1 -8 1.2 -8 -0.4 -6 -1.2 -10 -3.7 -8 0.9 -2 -0.3 -13.8 -4.1 -2.6 -2 0.2 -2 1.5 -2 4.7 -2.9 8.5 -3.1 0.5 -2 -2.9 -14 -0.1 -8 1.8 -10 4.1 -10 4.1 -5.5 6 -4.8 6 -2.5zM740 135.7l2 -0.6 4 0.3 4 1.4 2 1.9 1.5 3.3 1.2 6 -0.5 4 -2.2 3.1 -2 0.8 -4 -0.5 -4 -2.7 -3.7 -4.7 -1.5 -4 -0.1 -4 1.3 -2.8zM606 203.6l4 -0.1 2 0.7 2.4 1.8 1 2 0 2 -0.9 2 -2.5 2.2 -2 0.8 -4 -0.1 -2 -0.9 -2.2 -2 -0.8 -2 0.1 -2 1.1 -2zM666 216l2 -0.5 2.1 0.5 2 2 1.2 4 0.2 6 -1.4 12 0.2 10 -1.5 4 -4.1 6 -1.9 4 -6.4 22 -3.4 8 -5 7.3 -6 5.6 -18 10.9 -12 1.5 -10 3.3 -24 4.9 -13.8 4.5 -40.2 22.5 -18 1.8 -10 1.8 -13.3 3.9 -30.7 14 -14 7.6 -4 1 -4 -0.4 -4 -2.1 -2.1 -2.1 -2.1 -4 -0.4 -4 1 -4 3.6 -4.6 16 -10.2 22 -6.2 7.9 -5 8.1 -6.6 6 -3.8 6 -1.4 16 0.5 10.4 -0.7 15.6 -6.1 14 -8.9 8 -4.4 6 -1.6 18 -2.7 12.9 -6.3 6.1 -4 2.4 -2 1.4 -2 0.3 -8 1.8 -4 2.1 -2 3 -1.8 10 -2.4 4 -2.6 8 -10.3 7.7 -14.9 12.3 -18.7 6 -7.1zM362 217.9l4 -1.4 4 -0.4 4 0.5 3.4 1.4 3.2 2 4.1 4 1.7 4 -0.4 2 -1.6 2 -2.4 1.6 -6 2 -8 0.4 -4 -0.4 -4 -1.4 -2 -1.1 -2 -2.2 -1 -2.9 0.1 -2 1.8 -4 1.9 -2zM430 219.5l8 -0.9 6 1 6 3 4.9 5.4 2 6 -0.5 6 -2.7 6 -5.7 5.9 -4 2.5 -6 2.5 -8 1.8 -9.2 1.3 -1.7 2 -1.2 4 -1.7 2 -4.2 2.6 -8 2.4 -12 1.3 -10 -0.3 -10.1 -2 -5.3 -2 -3 -2 -1.2 -2 0.7 -2 2.9 -2 8 -2.5 12 -1.4 24 0.2 4 -0.6 0.7 -1.7 -5 -12 -0.4 -4 0.8 -4 3.6 -6 4.1 -4 6.1 -4zM298 287.7l4 -0.8 4 -0.1 4 0.7 4 1.8 3.1 2.7 1.1 2 0.3 2 -0.4 2 -1.3 2 -2.3 2 -6.5 2.6 -4 0.5 -4 -0.3 -6 -2 -3.4 -2.8 -1.1 -2 -0.3 -2 0.4 -2 1.2 -2 2.2 -2zM894 320l4 -1 4 1.8 2.9 3.2 5.1 8.5 2.7 3.5 3.3 2.5 6 2 14 1.3 12 -0.4 10 -1.7 16 -4.2 6 -0.7 0.1 221.2 -0.1 58.9 -10 3.3 -16 8.3 -6 2.6 -8 2.1 -18 2.6 -18 8 -4 1 -6 0.5 -8 -0.4 -12 -1.5 -6 -1.4 -6 -2.3 -6 -4 -4 -4 -3.7 -5.7 -1.9 -6 -0.4 -4 0.5 -4 1.7 -4 2.4 -2 5.4 -1.6 16 -0.9 4.7 -1.5 0.9 -2 -1.5 -2 -12.5 -10 -1.3 -2 -0.2 -2 1.9 -4 6 -6.4 4.3 -3.6 11.7 -7.4 4 -3.6 3.8 -5 3.8 -8 2.4 -7.8 2 -9.9 0.4 -6.3 -1.2 -8 -4.1 -12 -0.3 -2 1 -8 -0.9 -4 -1 -2 -3.9 -5.3 -4 -3.5 -10 -7.2 -20.6 -20 -3.2 -4 -3.2 -6 -2.1 -6 -1.9 -8 -1.5 -10 0.5 -3 2 -0.8 10 2.8 4 -0.2 4.4 -2.8 1.6 -2.2 1.3 -3.8 -0.1 -4 -1.6 -4 -5.9 -6 -5.7 -10.9 -6.7 -11.1 -0.6 -4 1.3 -4 4.5 -6 6.8 -6 6.2 -4 10.5 -4.8 4 -2.6 4 -4.6 5.7 -10zM324 343.4l6 -1 6 0.7 4 1.5 4.6 3.4 2.5 4 0.5 4 -1.6 5.1 -4 5 -2 1.3 -4 0.8 -8 -0.8 -4 -1.1 -4 -1.9 -4 -3.5 -1.7 -2.9 -0.5 -2 0.4 -4 0.8 -2 3.7 -4zM750 365.7l6 -0.4 4 1.3 2 1.4 1.5 2 0.6 2 -0.2 2 -0.9 2 -3 2.7 -4 1.3 -6 -0.3 -3.6 -1.7 -1.9 -2 -0.8 -2 0 -2 0.6 -2 1.6 -2zM348 371.9l8 0.8 4 1.1 4 1.9 2.5 2.3 1 2 0.2 2 -0.8 2 -2 2 -2.9 1.6 -6 1.4 -8 -0.7 -5.1 -2.3 -2.2 -2 -1.2 -2 -0.2 -4 0.8 -2 1.9 -2.4 2 -1.1zM392 409.7l4 -0.5 2 0.7 2.5 2.1 2 4 0.4 4 -0.9 4 -2 3 -2 1.6 -2 0.7 -4 -0.4 -2 -1.3 -2 -2.5 -1.2 -3.1 -0.2 -4 1.1 -4 2.3 -3zM738 459.8l14 -0.9 12 1.2 10 2.6 16 6.2 22 2.4 8 1.9 10 3.9 8 4 10 6.3 8 6.6 5.8 6 4.1 6 2.4 6 0.6 6 -1.1 4 -1.3 2 -2.5 2.5 -6 3.1 -8 2.1 -8 0.1 -6 -1.9 -12 -6.4 -7.8 -3.5 -32.2 -12 -6 -0.2 -12 3.2 -8 1 -8 -0.2 -22 -1.9 -14 -0.5 -6 0.1 -10 1.2 -4 -0.8 -3.6 -1.9 -8.7 -8 -3.3 -4 -1 -2 -0.8 -4 0.3 -4 0.9 -4 1.5 -4 2.4 -4 4.4 -4 5.9 -2.8 8 -2.1zM504 488l8 -0.6 8 0.8 4.6 1.8 1.5 2 -0.4 2 -3.7 3.2 -6 2.6 -6 1.6 -8 1.1 -4 -0.5 -2 -0.9 -7.6 -5.1 -1.4 -2 1.8 -2 3.2 -1.4zM456 501.8l4 0.7 2 1.4 2.8 4.1 3.7 10 1.6 12 -0.6 12 -2.3 10 -1.6 4 -2.5 4 -2.4 2 -2.7 0.6 -5.2 -0.6 -4.8 -2 -8 -9.7 -4 -3.3 -2 -0.3 -6 1.3 -2 -0.5 -1.9 -1.5 -0.2 -2 2.1 -2.5 6 -2.1 2 -1.6 1.2 -3.8 1.9 -12 1.7 -4 3.8 -6 3.4 -4.2 4 -3.6 2 -1.3zM258 507.8l1 2.2 -1 1.8 -1.4 -1.8zM270 525.8l2 -0.3 1.1 0.5 1.9 2 0.1 2 -1.2 2 -1.9 0.6 -2 -0.4 -1.7 -2.2 -0.1 -2zM608 583.7l4 0 2 0.7 2.1 1.6 1 2 0.3 2 -1.4 3.5 -2 1.9 -2 1.1 -4 0.7 -4.1 -1.2 -1.9 -2 -0.6 -2 0.6 -3.8 1.7 -2.2zM608 675.5l4 -0.7 6 0 6 1.3 4 1.6 2 1.9 2.4 4.4 0.9 2 -0.3 2 -1.9 2 -3.1 1.8 -4 1.4 -4 0.7 -8 -0.2 -8 -2.3 -4.8 -3.4 -1.3 -2 -0.5 -2 0.5 -2 1.3 -2 2.5 -2zM224 679.7l4 -0.7 4 0.4 1.6 0.6 0.4 2 -4 1.3 -4 -0.2 -2.9 -1.1 0.2 -2zM544 681.4l6 -1.2 4 0.4 3.4 1.4 -1.4 2.1 -4 0.9 -4 0 -4.5 -1 -0.8 -2zM286 683.7l4 -0.8 4 0.3 2.7 0.8 0.8 2 -3.5 1.6 -6 -0.2 -3.3 -1.4 0.4 -2zM342 685.7l4 -0.3 4 0.7 2.7 1.9 0.4 2 -1 2 -2.1 1.6 -4 1 -6 -1.6 -1.5 -1 -1.3 -2 0.4 -2zM300 709.7l4 -0.5 6 0.9 20 7.1 20 5 6 2.5 4 3.9 2.4 5.4 1.5 8 1.6 14 -124.6 0 1.3 -6 4 -8 4.3 -6 6.3 -6 13.6 -10 6.6 -4 5.2 -2zM696 719.5l2 0 2.4 2.5 0.4 2 -0.4 2 -2.4 2.4 -2 -0.1 -2.3 -2.3 -0.4 -2 0.4 -2z"/>
<path fill="#e5ff1a" d="M856 104l6 0 6 1.1 6 2.3 4 2.3 2.9 2.3 3.4 4 2 4 0.9 4 -0.3 4 -1.4 4 -2.7 4 -2.8 2.8 -4.3 3.2 -5.7 3 -6 2 -4 0.7 -6 -0.2 -4 -1 -4 -1.7 -4 -2.6 -4 -3.6 -3.5 -4.6 -1.8 -4 -0.8 -4 0.1 -4 1.1 -4 2.3 -4 2.6 -2.8 4 -3 4 -2 4 -1.3zM748 119.9l2 0.7 2 1.5 4 5.1 2.2 4.8 -0.2 2.5 -2 0.2 -2 -1.2 -4 -4.9 -2.3 -4.6 -0.4 -2zM740 137.2l2 -0.7 4 0.4 4.5 3.1 2.4 4 0.8 4 -0.5 4 -1.3 2 -1.9 1 -4 -0.5 -2 -1.1 -3.5 -3.4 -2.2 -4 -0.8 -4 0.5 -2.3zM502 143.5l6 -1.1 6 0.3 8 1.8 8 3.1 6 3.4 6 4.7 4 4.5 3.3 5.8 1.5 6 0.1 4 -0.8 4 -1.6 4 -3.5 6 -8.6 12 -6.4 4.6 -8 2.5 -10 0.3 -8 -1.9 -10 -4.6 -6 2 -4 0.5 -12.2 -3.4 -2.7 -2 0.2 -2 0.7 -0.9 4 -2.6 4 -1.2 9.7 -1.3 0.7 -2 -1.6 -14 -0.1 -6 1.6 -10 2.3 -6 3.4 -5 4 -3.5zM604 205.6l4 -1.4 4 0.9 2.5 2.9 0 2 -0.9 2 -3.6 2.2 -4 -0.1 -2 -1.1 -1.1 -1 -0.9 -2 0.2 -2zM364 217.6l6 -1.1 4 0.6 2.4 0.9 5.5 4 1.5 2 0.6 2 -0.1 2 -1.9 2.6 -6 2.8 -8 0.6 -6 -1.4 -3.8 -2.6 -1.2 -2 -0.3 -2 1.4 -4 1.8 -2zM430 221.4l4 -0.9 4 -0.1 6 1.5 3.7 2.1 2.2 2 2.7 4 1.1 6 -1.6 6 -4.1 5.3 -6 3.8 -8 1.9 -4 0 -4 -0.8 -4 -1.7 -3.3 -2.5 -2.7 -3.3 -1.2 -2.7 -0.4 -6 3 -6 3.9 -4 2.7 -1.9zM664 221.6l2 -0.5 2 0.4 1.9 2.5 0.5 2 0.3 4 -0.7 10 0.9 8 -0.9 4 -7.9 12 -7.5 20 -3.2 6 -5.4 6.5 -12 10.3 -6 5.9 -4 2.2 -8 1 -12 4.7 -18 3.6 -18.6 5.8 -23.2 12 -18.2 10.3 -4 0.9 -14 1 -24 5.7 -12 5.2 -34 17.3 -4 0.4 -2 -0.5 -3.7 -2.3 -1.6 -2 -1.5 -4 0.4 -4 2.4 -4 4 -3.1 12 -7.7 24 -6.6 8 -5.2 8 -6.9 6 -3.4 6 -0.7 14 1 11.8 -1.4 14.2 -5.9 16 -10.9 6 -3.4 10 -2.4 14 -1.3 2 -0.6 12 -6.2 9 -5.3 2.2 -2 0.8 -2 -1.2 -6 0.1 -2 2 -4 2.5 -2 2.6 -1.2 10 -1.4 4 -2.9 8.2 -10.5 6.3 -14 2.4 -4 11.1 -15.5 4 -4.3zM300 292l4 -0.7 4 0.6 2.8 2.1 0.6 2 -1.4 2.3 -3.5 1.7 -2.5 0.3 -4 -0.7 -2.5 -1.6 -0.9 -2 0.6 -2zM896 323.9l3.1 0.1 2.9 1.9 8.8 14.1 3.2 2.8 6 2.4 20 3.8 10 1.2 8 0 22 -2 0 256.9 -10 4.9 -16 11.4 -8 4.1 -10 2.2 -20 0.3 -4 1.1 -10 4.9 -4 1.1 -6 0.5 -18 -2.1 -10 -3 -4 -2.4 -2.3 -2.1 -2.9 -4 -1.5 -4 -0.1 -6 0.7 -2 2.1 -2.4 3.4 -1.6 2.6 -0.5 12 -0.7 6 -0.9 4.4 -1.9 1.6 -2 0 -2 -1.6 -2 -8.3 -4 -2.7 -2 -2.5 -4 -0.1 -2 0.7 -2 3.1 -4 17.4 -16.2 6 -7.8 2.6 -6 3.4 -10.5 2 -7.8 1.1 -7.7 -0.3 -4 -1.1 -4 -6.8 -16 -0.2 -8 -1.9 -6 -4.8 -6.8 -23.8 -23.2 -6.7 -8 -2.3 -4 -2.3 -6 -1.4 -6 -0.9 -8 0.7 -4 0.7 -0.8 1.5 -1.2 6.5 -2.5 3.6 -3.5 1.2 -2 1.1 -4 -0.6 -6 -2.3 -4 -5.2 -6 -4.8 -12 -0.9 -6 1.1 -4 3.3 -6 5.1 -6 4.7 -4 9.7 -6.3 4 -3.6 8 -12.9 2 -2.2zM328 347.5l4 -0.1 2.9 0.6 3.1 1.5 2.5 2.5 1 4 -1.5 3.5 -2 1.9 -4 1.6 -6 0 -4 -1.5 -2.1 -1.5 -1.5 -2 -0.7 -2 0.1 -2 0.8 -2 3.4 -3.1zM750 367.2l2 -0.6 4 0 4 1.7 1.5 1.7 0.7 2 -0.2 2 -1.3 2 -2.7 1.8 -4 0.9 -4 -0.7 -2 -1.1 -2.3 -2.9 -0.1 -2 0.7 -2zM348 377.8l4 -1 6 1 2.6 2.2 0.3 2 -1.6 2 -3.3 1.2 -6 -0.4 -2.1 -0.8 -1.8 -2 -0.2 -2zM392 413.7l2 -0.8 2 0.2 2 1.2 1.9 3.7 -0.2 4 -1.7 2.8 -2 1.3 -2 0.1 -2 -0.8 -2.3 -3.4 -0.2 -4 0.6 -2zM736 461.7l14 -1.3 12 0.8 10 2.6 14 6.3 4 1.2 22 1.6 8 1.8 10 3.8 8 4.1 8 4.9 6 4.5 6.3 6 4.6 6 2.8 6 0.9 6 -0.8 4 -2.7 4 -5.1 3.3 -8 2.5 -6 0.4 -4 -0.6 -4 -1.4 -16 -8.1 -18 -7.2 -14 -7.1 -6 -2.2 -6 0.1 -12 3.4 -10 1.2 -28 -1.8 -14 -0.3 -4 0.3 -6 1.9 -4 0.6 -4 -0.9 -3.1 -2.1 -3 -4 -3.2 -6 -1.8 -6 0.3 -4 1.9 -6 2.3 -4 1.8 -2 6.3 -4 6.2 -2zM502 489.8l8 -0.8 8 0.7 4.1 2.3 0.1 2 -1.9 2 -4.3 2.2 -6 1.8 -6 0.9 -6 -0.4 -4.6 -2.5 -2.1 -2 -0.1 -2 2.8 -1.9zM452 507.9l4 -1.1 2 0.3 4 2.9 2 3 2.2 5 2.1 10 0.1 12 -1.9 10 -3.7 8 -2.8 2.6 -2 0.7 -6 -0.9 -3.6 -2.4 -5.1 -8 -2.5 -8 0 -14 1.8 -8 1.9 -4 2.8 -4zM270 528l2 -0.5 0.8 0.5 0.3 2 -1.1 0.8 -2 -0.7zM614 676l8 1 5.9 3 2.4 4 0 2 -1.1 2 -5.2 3.1 -8 1.3 -8 -1.1 -6.1 -3.3 -1.6 -2 -0.5 -2 0.5 -2 1.5 -2 3 -2 3.2 -1.2zM546 681.9l4 -0.5 3.8 0.6 -1.8 1.9 -2 0.2 -2.2 -0.1zM344 687.3l4 0 2 0.7 0.6 2 -2.6 1.9 -4 -0.3 -2.3 -1.6 0.5 -2zM696 720.9l2 -0.1 1.2 1.2 0.6 2 -0.7 2 -1.1 1.1 -2 -0.1 -1 -1 -0.6 -2 0.5 -2zM290 729.5l8 -1.3 10 0.5 15.2 3.3 15.2 4 3.6 1.4 2 1.4 2.1 3.2 0.7 4 0.2 10 -75 0 1.9 -8 4.1 -8 6 -7.1z"/>
<path fill="#f0ff0f" d="M852 107.6l8 -0.4 8 1.8 6 3.4 5.1 5.6 1.6 4 0 6 -3.2 6 -5.5 4.8 -8 3.6 -6 0.9 -4 -0.2 -6 -1.7 -4 -2.1 -3.9 -3.3 -2.1 -2.6 -1.8 -3.4 -1.1 -4 0.2 -4 1.3 -4 2.8 -4 2.6 -2.2 4 -2.4zM742 137.6l2 0 4 1.6 2 1.9 1.8 2.9 0.8 2 0.3 4 -0.9 2.4 -2 1.6 -2 0.2 -4 -1.6 -4 -4.6 -0.9 -2 -0.6 -4 1.5 -3.3zM508 151.8l4 -0.1 6 0.9 9.3 3.4 4.7 2.8 3.7 3.2 4.3 6 1.4 4 0.5 4 -0.8 8 -3.9 12 -3.3 6 -3.9 3.2 -4 1.9 -6 1.3 -4 0.2 -4 -0.3 -6 -1.3 -4 -1.8 -8 -5.6 -2 0.5 -1.7 1.9 -3.2 2 -3.1 0.7 -4 -0.6 -6.9 -2.1 -1.1 -0.8 -1.6 -1.2 0.2 -2 2.4 -2 3 -1.2 6 -0.5 8 1.5 2 -0.9 0.2 -10.9 1.2 -12 1 -6 1.4 -4 2.1 -4 2.1 -2.5 4 -2.6zM606 205.3l4 -0.2 2 1 1.5 1.9 0.2 2 -1.1 2 -2.6 1.5 -2 0.2 -2 -0.4 -2.1 -1.3 -1 -2 0.2 -2zM366 217.4l6 -0.3 4 1.2 2.9 1.7 2.1 2 1.1 2 0.4 2 -0.6 2 -3.9 3.2 -6 1.5 -4 -0.1 -6 -1.7 -3.2 -2.9 -0.7 -2 0.1 -2 0.8 -2 1.9 -2zM436 222l6 1 4 2.3 2 2 2.6 4.7 0 6 -1.7 4 -1.5 2 -5.4 3.9 -6 1.7 -4 0.1 -4 -0.8 -5.6 -2.9 -3.3 -4 -1.2 -4 0.5 -4 2.1 -4 4 -4 5.5 -2.9zM662 227.1l2 -0.6 2 0.7 1.4 2.8 0.6 10 1.4 8 -0.9 4 -6.5 8 -2.5 4 -8.2 20 -2.4 4 -4.9 5.6 -18 17.9 -4 1.8 -6.2 0.7 -11.8 5 -22 4.6 -16 5.8 -22 10.7 -16 9.5 -4 1.8 -12 0.5 -4 0.7 -28 6.9 -6.4 2.5 -35.6 18.9 -4 0.4 -2 -0.6 -3.5 -2.7 -1.7 -4 0.4 -4 2.8 -3.8 4 -2.9 10 -6.6 24 -5.7 8 -5.4 10 -8.8 4 -2.2 6 -0.7 14 1.3 10 -0.9 14 -5.2 6 -3.7 12 -9 6 -3.6 4 -1.3 6 -1.1 16 -1.3 22 -11.6 3.9 -3.5 0.2 -2 -1.7 -6 0 -2 1.6 -3.3 2 -1.7 4 -1.4 8 -0.4 2 -0.6 3.3 -2.6 7 -8 2.6 -4 4.5 -12 3.3 -6 9.3 -11.7 4 -4zM896 329.2l2 -0.3 2 0.9 2 2.2 6 10.4 3.7 3.6 4.3 2.3 36 10.6 10 1.3 18 0.6 0 237.7 -12 7.3 -16 13.2 -8 4 -6 1.5 -6 0.3 -6 -0.7 -16 -4.4 -4 -0.5 -3.7 0.8 -6.3 3.1 -3.5 0.9 -6.5 0.3 -10 -0.5 -6 -1 -4 -1.7 -2 -1.7 -1.7 -3.4 0 -2 1 -2 3.4 -2 17.3 -1.1 6 -0.9 4 -1.4 2.4 -2.6 0.5 -2 -0.3 -4 -1.4 -4 -1.2 -1.6 -2 -0.9 -8 -0.2 -5 -1.3 -2.6 -2 -0.8 -2 0.2 -2 2.1 -4 3.2 -4 16.3 -16 4.3 -6 2.3 -5.3 4 -12.5 3.2 -14.2 -0.2 -4 -0.6 -2 -9.5 -18 -1.6 -10 -2.5 -6 -8.8 -12.7 -14.4 -15.3 -6.3 -8 -3.9 -8 -1.9 -10 0.3 -8 0.8 -2 6.2 -8 1.5 -4 0.5 -4 -1.5 -6 -5.7 -8 -1.6 -4 -1 -8 1.3 -6 2.7 -6 4.3 -6 4.1 -4 8.6 -6.4 3.9 -3.6 7.3 -12zM330 355.7l0.6 0.3 -0.8 0zM752 367.9l4 0 3.5 2.1 0.9 2 -0.4 2 -1.8 2 -2.2 0.9 -4 0.1 -2.5 -1 -1.5 -1.6 -0.5 -2.4 0.9 -2zM746 462l10 -0.1 8 1.1 9.2 3 14.8 7.4 4 0.7 14 -0.3 8 0.9 8 2 10 4.1 8 4.2 8 5.2 6 5 4.4 4.8 2.9 4 2.6 6 0.6 6 -1.2 4 -3.6 4 -5.7 2.9 -8 1.6 -6 -0.6 -4 -1.3 -14 -6.9 -20 -8.7 -16 -9.4 -6 -1.8 -6 0.8 -12 3.6 -8 1.1 -8 -0.1 -20 -1.7 -14 -0.5 -4 0.5 -6 3 -4 0.9 -4 -1 -2.6 -2.4 -1.1 -2 -1 -4 -0.2 -10 1.2 -4 1.7 -3.6 4 -4.8 6 -3.5 6.1 -2.1 24.6 -6zM500 492l6 -1.1 6 -0.2 5.3 1.3 1 2 -1.9 2 -4.5 2 -5.9 1.2 -6 0.1 -3.7 -1.3 -1.8 -2 0.9 -2zM452 511.9l4 -1.3 2 0.5 2 1.2 2 2.1 2 3.4 1.6 4.2 1.6 8 -0.2 12 -2.5 10 -2 4 -1.7 2 -2.8 1.7 -2 0.3 -2 -0.4 -3.1 -1.6 -3.4 -4 -2.8 -6 -1.6 -8 0.2 -10 1.6 -8 3 -6zM608 677.9l4 -0.9 4 0 6 1.3 3.2 1.7 1.9 2 0.7 2 -0.3 2 -1.7 2 -1.8 1.2 -6 1.8 -6 -0.1 -6 -1.8 -3.6 -3.1 -0.6 -2 0.4 -2 1.7 -2zM696 722.9l2 -0.1 0.4 1.2 -0.4 1.2 -2 -0.2 -0.4 -1z"/>
<path fill="#faff05" d="M856 109.9l8 1.2 5.9 2.9 3.9 4 1.2 2 1 4 -0.5 4 -0.9 2 -3.1 4 -5.5 3.7 -4 1.4 -4 0.6 -6 -0.5 -4 -1.4 -3.1 -1.8 -4.1 -4 -1.3 -2 -1.2 -4 0.1 -4 0.6 -2 3 -4.5 6 -3.9 4 -1.2zM742 138.8l2 -0.2 2 0.5 2 1.2 3 3.7 1.2 4 -0.1 2 -1 2 -1.1 1 -2 0.4 -2 -0.5 -2 -1.2 -3.2 -3.7 -1.5 -4 0.1 -2 0.8 -2zM512 161.9l4 -0.1 4 0.9 6.4 3.3 3.6 3.5 1.8 2.5 3.3 8 1 8 -1.4 8 -1.2 4 -3.5 4 -6 2.8 -4 0.8 -6 0.1 -4 -0.5 -4 -1.3 -3.7 -1.9 -2.5 -2 -3.2 -4 -0.8 -2 -0.7 -4 -0.1 -4 0.8 -4 2.2 -5.5 4 -8.2 2.7 -4.3 3.3 -2.8zM476 195.6l4 -0.5 5.4 0.9 3.2 2 0.6 2 -1.1 2 -4.1 2 -4 -0.3 -5.7 -1.7 -2.8 -2 0.4 -2zM608 205.6l2.3 0.4 2.4 2 0.2 2 -1.4 2 -1.5 0.8 -2 0.3 -2 -0.5 -2.3 -2.6 0.3 -2 2 -1.8zM366 217.9l6 -0.4 4 1.2 2.1 1.3 2 2 1.1 2 0.1 2 -1.1 2 -4.2 2.7 -4 0.9 -6 -0.4 -4 -1.7 -2 -2 -0.8 -1.5 0 -2 0.8 -2 1.8 -2zM432 224l6 -0.4 4 1.2 4.1 3.2 2.1 4 0.4 4 -1.3 4 -3.3 3.8 -4 2.3 -4 0.9 -6 -0.5 -5 -2.5 -3.3 -4 -0.8 -4 0.3 -2 2 -4 4.4 -4zM660 232.9l2 -0.6 2.2 1.7 3.5 12 0.1 4 -0.8 2 -7.4 8 -2.8 4 -4.1 8 -3.2 10 -2.1 4 -13.4 14.3 -6 7.4 -2.7 2.3 -3.3 1.6 -8 1.4 -12 5.3 -14 2.1 -6 1.7 -16 6.3 -26 11.8 -12 8 -4 1.9 -12 0.3 -4 0.7 -8 2.5 -14 2.5 -10 2.8 -4 1.6 -26 15 -8 3.9 -4 0.5 -2 -0.6 -1.8 -1.3 -1.5 -2 -0.6 -4 1.8 -4 8.1 -6.1 8 -4.6 14 -3 8 -1.1 6 -3.8 4 -3.3 6 -6.3 6 -3.9 2 -0.7 4 -0.2 12 1.7 6 -0.2 6 -0.8 10 -3 8 -4.1 12 -9.7 10 -6.1 8 -1.6 16 -0.5 24.2 -12.7 2.5 -2 1 -2 0.2 -2 -2.2 -6 0 -2 0.8 -2 3.5 -2.8 4 -0.7 6 0.3 2 -0.4 4 -2.6 7.8 -7.8 2.9 -4 2.4 -6 1.9 -8 2 -4 7 -7.9zM898 335.8l2 1.3 4.7 6.9 3.3 3.7 6 3.7 18 6.4 16 7.5 8 3.1 10 2.5 14 2.4 0 220.2 -12 7.9 -12 11.4 -6 4.7 -6 3 -6 1.5 -6 0.2 -8 -1.7 -8 -4.2 -4.9 -4.3 -2.8 -4 -1.9 -4 -1.9 -6 -2.2 -12 -1.3 -2 -1 -0.5 -2 0.1 -10 3.8 -4 0.5 -2 -0.4 -2 -1.5 -0.4 -2 1.5 -4 2.8 -4 5.6 -6 10.7 -10 4.4 -6 2.5 -6 4.4 -14 3.4 -14 -0.6 -4 -8.3 -12 -3.3 -6 -3 -12 -5.9 -14 -3.8 -5.7 -10.9 -12.3 -6 -8 -3.9 -8 -1.6 -8 0 -12 3.4 -10 0.6 -6 -1.3 -6 -4.9 -10 -0.4 -6 1.6 -8 2.6 -6 4.1 -6 4.1 -4 9.9 -8 3.3 -4 3.4 -5.4 2 -2.2zM752 369.5l2 -0.3 2.8 0.8 1.5 2 -0.6 2 -1.7 1.1 -2 0.5 -2 -0.4 -1.9 -1.2 -0.5 -2zM742 463.8l10 -0.8 10 1 10 3.2 16 9 4 0.6 12 -1.4 8 0.3 8 1.7 10 3.7 8 4 7.9 4.9 5.1 4 5 4.9 3.7 5.1 1.9 4 1.2 6 -0.8 4 -2.9 4 -5.1 3 -8 1.9 -6 -0.6 -6 -2.1 -30 -13.8 -7.5 -4.4 -10.5 -7.7 -2 -1 -4 -0.8 -4 0.5 -12 3.9 -8 1.6 -12 0 -20 -2.2 -14 -0.9 -4 1.4 -3.5 3.2 -2.5 1.4 -2 0.4 -2 -0.3 -2.4 -1.5 -1.2 -2 -0.4 -2 0.6 -4 5.4 -12 5.1 -6 6.3 -4 9.8 -4 12.4 -4zM502 493.7l6 -0.9 2 0.1 2.9 1.1 -1.7 2 -7.2 1.4 -2 -0.2 -2.7 -1.2zM456 513.9l2 0.4 2 1.4 3 4.3 2.6 8 0.7 8 -0.7 8 -2.4 8 -3.2 4.7 -2 1.3 -2 0.3 -2 -0.3 -2 -1.2 -3.8 -4.8 -2.8 -8 -0.6 -8 0.7 -8 2.5 -7.7 2 -3.1 2 -1.9 2 -1.1zM612 677.9l6 0.3 4.8 1.8 2.2 2 0.7 2 -0.6 2 -3.1 2.5 -4 1.2 -6 0.1 -5.4 -1.8 -2.4 -2 -0.8 -2 0.5 -2 2 -2 2.1 -1.1z"/>
<path fill="#fffa00" d="M850 113.7l4 -0.9 6 0.3 4 1.3 5 3.6 2.2 4 0.2 4 -1.4 3.6 -2 2.4 -2.7 2 -3.3 1.5 -6 0.9 -6 -1.1 -5.2 -3.3 -2.7 -4 -0.6 -2 0.1 -4 2.4 -4.3 2 -1.9zM742 139.9l2 -0.4 2 0.6 2 1.3 2 2.4 1.4 4.2 -0.2 2 -1.2 1.9 -2 0.6 -2 -0.4 -2 -1.2 -2.5 -2.9 -1.4 -4 0.2 -2zM510 173.8l4 -1.1 6 0.5 6 3.1 5.1 5.7 2 6 -0.5 10 -1.9 4 -2.7 2.3 -4 1.7 -4 1 -8 -0.1 -4 -1 -4 -1.9 -4.2 -4 -1.8 -4 -0.8 -4 0.8 -6 2 -4 2 -2.5 4 -3.5zM480 195.9l4 0.7 2.4 1.4 1 2 -1 2 -2.4 1.2 -4 0 -4.5 -1.2 -2.8 -2 0.5 -2 0.8 -0.6 2 -0.9zM606 207.1l2 -0.7 2 0.3 1.7 1.3 0.4 2 -2.1 2.1 -3.4 -0.1 -1.9 -2 0.3 -2zM368 217.9l6 0.5 4 2.2 1.4 1.4 0.9 2 -0.2 2 -1.3 2 -4.8 2.4 -4 0.5 -4 -0.6 -4.3 -2.3 -1.4 -2 -0.2 -2 0.7 -2 3.2 -2.8zM432 225.5l4 -0.7 4 0.8 3.7 2.4 1.6 2 1.2 4 -0.7 4 -1.8 2.9 -4 2.9 -4 1 -6 -0.8 -4 -2.7 -2 -3.3 -0.2 -4 1.9 -4 2.3 -2.4zM660 237.8l2 0.9 2 2.7 2 4.2 0.5 2.4 -1 4 -1.6 2 -9.1 8 -4.2 6 -1.9 4 -0.9 8 -1.8 4.5 -14 15.7 -4.2 5.8 -3.8 3.2 -4 1.3 -6 0.9 -12 5.8 -14 1.4 -4 1.1 -32 14.1 -10 3.5 -8 4.5 -5 4.2 -5 2.8 -12 0.1 -4 0.8 -8 2.9 -8 1.7 -10 0.8 -8 1.6 -3.4 -0.7 1.4 -2 4 -3.1 8 -9.7 6 -4.3 2 -0.6 4 -0.2 14 2.2 10 -1.3 10 -2.5 6 -2.4 11.3 -10.1 6.7 -5 6 -3.4 8 -1.5 16 0.4 4 -1.7 4 -3 8 -4.5 8 -3.5 4 -3 1.4 -2.8 0.1 -2 -2.5 -6 0 -2 0.9 -2 2.1 -1.6 2 -0.7 8 0.6 4 -1 6 -5.3 8 -6 1.4 -2 1.6 -4 1.2 -10 1.8 -4.9 2 -2.7 4 -3.7 4 -2.5zM896 345.2l2 -0.4 2 0.9 5.2 4.3 4.8 3.1 22 9.3 20 12.3 8 4.3 12 5 8 2.3 0 203.5 -12 7.9 -12.1 12.3 -5.9 5.1 -6 3.2 -6 1.6 -6 0.1 -6 -1.4 -6 -3.1 -5.8 -5.5 -2.6 -4 -2.5 -6 -1.9 -8 -1.3 -10 -1.9 -2.9 -2 -0.2 -2 0.5 -12 4.9 -3.3 -0.3 -1.1 -2 1.4 -4 2.9 -4 14.8 -14 4.4 -6 2.9 -7.7 5.6 -20.3 2.9 -8 -0.3 -2 -1.2 -2 -8.9 -10 -3.7 -6 -1.5 -4 -5.5 -22 -1.4 -3.5 -3 -4.5 -8.7 -10 -5.4 -8 -3.6 -8 -1.7 -8 -1.4 -16 0.7 -12 -4.1 -16 0.2 -6 1.2 -6 2.3 -6 4 -6 4 -4zM460 355.9l8 -0.2 1.4 0.3 0.3 2 -1.1 2 -2.3 2 -6.3 4.1 -14 8.3 -8 3.7 -4 0.5 -2 -0.8 -1.8 -1.8 -0.8 -2 0 -2 0.6 -2 4.3 -4 7.7 -5.4 4 -2.2zM738 466l8 -1.4 6 -0.3 6 0.4 6 1.1 6 2.1 4.1 2.1 9.9 7.7 4 2.2 4 -0.1 12 -2.7 6 -0.2 8 1.2 10 3.3 8 3.8 8 4.8 5.4 4 4.6 4.4 4.2 5.6 1.9 4 0.9 6 -1 3.8 -1.5 2.2 -2.4 2 -6.1 2.6 -6 0.7 -6 -1 -34 -15.5 -7.3 -4.8 -10.7 -9.7 -4 -1.5 -4 0.5 -16 5.7 -6 1.1 -6 0.4 -10 -0.7 -10.2 -1.8 -18.5 -4 -4.2 -2 -0.9 -2 1 -4 4.4 -6 4.1 -4 10.4 -6zM698 495.7l2 -0.3 1.4 0.6 1 2 -0.2 2 -1 2 -3.2 2 -2 -0.6 -1.2 -1.4 -0.4 -2 1.6 -3.1zM454 517.2l2 -0.4 2 0.5 2 1.5 2 2.8 2 5.3 1.1 7.1 -0.3 8 -2 8 -2.8 4.5 -2 1.5 -2 0.5 -2 -0.5 -2 -1.3 -2.1 -2.7 -2.5 -6 -1 -6 0.2 -8 1.4 -6.8 2.6 -5.2zM608 679.9l4 -1.2 6 0.4 4 1.9 1.2 1 0.6 2 -0.7 2 -3.1 2.1 -4 0.9 -6 -0.6 -4 -2.3 -1.1 -2.1 0.6 -2z"/>
<path fill="#fff000" d="M854 115.7l4 0.1 4 1.3 3.7 2.9 1 2 0.3 4 -0.9 2 -1.6 2 -2.5 1.7 -4 1.3 -6 -0.4 -4 -2.2 -2.1 -2.4 -1 -4 1.4 -4 3.7 -3zM742 141.2l2 -0.7 2 0.5 2 1.5 2.2 3.5 0.4 2 -0.6 2.4 -2 1.2 -2 -0.3 -2 -1.3 -2.7 -4 -0.3 -2zM512 177.6l4 -0.4 6 1.3 5.2 3.5 2.7 4 1.1 4 0.2 8 -1.7 4 -3.5 2.6 -6 1.8 -8 -0.1 -6.5 -2.3 -2.6 -2 -1.6 -2 -1.6 -4 -0.6 -4 0.5 -4 0.8 -2 3.6 -4.6 4 -2.6zM476 197.3l2 -0.5 4 0.1 2.6 1.1 1.3 2 -1.2 2 -0.7 0.4 -4 0.3 -3.2 -0.7 -3 -2 0.8 -2zM608 207.2l2.5 0.8 0.5 2 -1 1 -2 0.6 -2.4 -1.6 0.5 -2zM364 219.7l4 -1.4 6 0.5 2.5 1.2 2.1 2 0.9 2 -0.4 2 -1.7 2 -3.4 1.6 -4 0.5 -4 -0.6 -3 -1.5 -1.7 -2 -0.4 -2 0.6 -2zM432 227l2 -0.6 4 0.1 3.3 1.5 2 2 1 2 0.1 4 -2.2 4 -2.2 1.6 -4 1.2 -4 -0.4 -4 -2.4 -1.4 -2 -0.5 -2 0.6 -4 1.3 -2.1zM656 241.7l2 -0.6 2 0.2 2 1.2 2.5 3.5 0.3 4 -0.9 2 -1.9 2 -4 2.8 -6 2.7 -2 -0.5 -2 -4.8 0.3 -4.2 2.1 -4 3.6 -3.2zM638 273.7l4 -0.5 2 1.1 1.5 3.7 -0.4 4 -1 2 -8.9 10 -9.2 12.2 -4 2.4 -8 1.3 -12 6.2 -6 0.5 -8.9 -0.6 0.1 -2 6.9 -6 5.9 -3.5 10.4 -4.5 2.4 -2 2 -4 0.2 -2 -2.7 -6 0 -2 1.2 -2 2.5 -1.2 2 -0.1 6 1.1 4 -0.6 8 -6.5zM562 313.7l6 -0.9 4 0 6 0.8 4 1.2 1.6 1.2 -1 2 -8.6 5.3 -22 9.5 -6 1.6 -6 0.9 -1.8 -1.3 5.9 -8 2 -2 9.9 -7.5zM490 337.9l2 -0.8 4 -0.2 14 3 20 -3.4 4 -0.2 0.8 1.7 -5.5 6 -5.3 3.6 -4 0.4 -8 -0.7 -4 0.9 -10 4.1 -8 1.3 -8 -0.5 -1.8 -1.1 -0.4 -2 3.2 -6 3.8 -4zM896 351.6l2 -0.3 4 1.2 8 4 14 5.9 6.8 3.6 8.6 6 26.6 21.3 8 5.4 6 2.8 0 95.3 -3.2 7.2 -0.7 4 1 4 2.9 4.2 0 71.4 -5.1 2.4 -6.9 4.5 -4 3.7 -8.6 9.8 -5.4 4.9 -6 3.5 -6 1.7 -6 0 -6 -1.7 -6 -3.8 -4.1 -4.6 -2.4 -4 -2.4 -6 -1.6 -8 -0.9 -10 -0.6 -2.6 -1 -1.4 -1 -0.7 -2 -0.1 -12 5.3 -2 0.4 -2.3 -0.9 0 -2 2.4 -4 3.8 -4 10.1 -8.8 4.2 -5.2 1.9 -4 7.2 -26 4.3 -8 0.2 -2 -1 -2 -10.8 -10.2 -4.1 -5.8 -1.7 -4 -2 -8 -1.9 -16 -1.2 -4 -2.5 -4 -8.4 -10 -5.5 -10 -2.9 -10 -7.2 -42 -0.4 -6 0.6 -6 1.7 -6 1.9 -4 2.8 -4 4 -4 8.8 -6.4zM458 358l4 0.4 1.8 1.6 -1.8 2.5 -7.4 5.5 -8.6 5.2 -10 4.2 -2 -0.2 -2.1 -1.2 -1.1 -2 -0.1 -2 0.9 -2 8.4 -6.8 6 -3.7zM746 465.9l8 -0.3 6 0.6 6 1.6 5 2.2 5.6 4 3.6 4 2.3 4 0.6 2 -0.3 2 -1.9 2 -3.2 2 -9.7 4.7 -8 2.6 -6 0.9 -8 0 -10 -1.6 -8.5 -2.6 -4.5 -2 -2.8 -2 -1.6 -2 -0.4 -4 1.2 -4 2.8 -4 5.1 -4 3.9 -2 6.8 -2.5zM800 479.9l8 -1.6 10 1 12 4.1 12.2 6.6 7.9 6 3.9 4 2.8 4 1.8 4 0.8 4 -0.6 4 -1 2 -3.8 3.3 -4 1.7 -4 0.7 -6 -0.4 -6 -1.9 -20.6 -9.4 -11.3 -6 -5.1 -4 -3.8 -4 -3.6 -6 -1.1 -4 1 -2 2.5 -2zM454 520l2 -0.5 2 0.6 2 1.7 2.3 4.2 1.7 8 -0.3 8 -1.7 6.7 -2 3.5 -2 1.8 -2 0.5 -2 -0.5 -2 -1.7 -1.5 -2.3 -1.7 -4 -1 -6 0 -6 1 -6 1.6 -4 1.6 -2.4zM612 679.5l4 0 4 1.4 1.4 1.1 0.8 2 -1.1 2 -3.1 1.6 -4 0.5 -4 -0.8 -2 -1 -1.6 -2.3 0.6 -2 3 -2z"/>
<path fill="#ffe500" d="M854 119.5l4 0.2 3.2 2.3 0.8 2 -0.5 2 -1.7 2 -3.8 1.1 -2 -0.2 -2.3 -0.9 -1.7 -1.8 -0.5 -2.2 0.6 -2 1.9 -1.7zM744 141.6l2 0.4 2 1.6 1.4 2.4 0.3 2 -0.8 2 -0.9 0.6 -2 -0.2 -2 -1.4 -1.9 -3 -0.1 -2.6zM514 179.9l4 0.2 4 1.2 4 2.9 2.5 3.8 1.4 8 -0.3 4 -1.6 2.3 -4 2.5 -6 1.2 -8 -0.8 -3 -1.2 -2.9 -2 -2.5 -4 -0.8 -6 0.7 -4 1.1 -2 1.7 -2 3.7 -2.6zM478 197.5l4 0.3 2.4 2.2 -1.7 2 -4.7 -0.2 -3 -1.8 1.3 -2zM608 208.4l1.6 1.6 -1.6 0.4 -0.8 -0.4zM366 219.2l4 -0.7 2 0.1 3.7 1.4 2.2 2 0.8 2 -0.5 2 -2.2 2 -4 1.4 -4 -0.1 -3.7 -1.3 -2.1 -2 -0.6 -2 0.7 -2 2 -2zM434 227.8l4.1 0.2 3.1 2 1.2 2 0.4 2 -0.8 3.1 -2 2.3 -2 1.1 -4 0.4 -2 -0.6 -2.8 -2.3 -0.9 -2 -0.1 -2 0.5 -2 1.3 -1.8zM656 243.8l2 -0.4 2 0.4 2 1.5 1.4 2.7 -0.2 2 -1.2 2.1 -4 2.9 -4 1 -2 -0.4 -2 -2.9 0 -2.7 2 -3.5zM640 276l2 1 0.8 1 0.5 2 -0.5 2 -8.8 10.8 -7.5 11.2 -2.1 2 -4.4 1.8 -4 -0.1 -2 0.6 -6 3.8 -6 2.8 -4 0.5 -4 -0.6 -1.5 -0.8 -0.1 -2 3.5 -4 8.1 -4.1 8 -2.9 2 -2.3 1.5 -2.7 1.1 -4 -0.5 -2 -2.3 -4 0 -2 2.2 -2 3 0 7 1.7 4 -1.6 6 -4.9 2 -1.1zM564 314l4 -0.5 5.8 0.5 4.7 2 0.3 2 -4.4 4 -3.7 2 -16.7 7 -6 1.8 -4.6 -0.8 -0.3 -2 0.9 -2 3.5 -4 10.5 -7.9 2 -1.1zM494 337.7l6 0.8 8 3.3 2 0.3 4 -0.4 3.3 -1.7 6.7 -1.3 4 0.4 1 0.9 -0.4 2 -1.7 2 -2.9 2.2 -2 0.5 -6 -0.6 -2 -1 -2 -0.2 -4 1.2 -4 2.8 -6 2.5 -8 1.3 -4 -0.3 -2 -1 -1.6 -1.4 0.7 -4 1.3 -2 3.7 -4 3.9 -2zM898 355.9l6 1.4 16.1 6.7 7.9 4.3 7.7 5.7 6.4 6 9.2 10 22.7 28.6 6 6.2 0 35.7 -2 7.4 -1 14.1 -2.5 10 -6.4 14 -0.9 4 0.4 2 1.1 2 11.3 9.8 0 62.4 -9.1 3.8 -3.2 2 -5.7 5.5 -8.8 10.5 -5.2 4.4 -4 2.3 -6 1.8 -6 -0.1 -6 -2 -4 -2.6 -5.1 -5.8 -2.2 -4 -2 -6 -1.1 -6 -1.4 -14 -0.6 -2 -1.6 -2.2 -2 -0.3 -2 0.6 -8 4 -2 0.5 -1.6 -0.6 0.7 -2 1.5 -2 11.4 -10 4 -5.7 8.7 -30.3 6.7 -10 -0.5 -2 -10.9 -8.2 -3.8 -3.8 -2.9 -4 -1.8 -4 -2.2 -10 0.5 -14 -0.9 -6 -2.3 -4 -8.3 -10 -4 -8 -9.4 -36 -2.6 -12 -0.8 -8 0.3 -6 1.3 -6 1.8 -4 3.1 -4.5 6 -5.3 6 -3.4zM454 359.9l4 1.2 0.3 0.9 -3.4 4 -4.9 3.6 -8 4.2 -6 2.1 -2 -0.3 -1.6 -1.6 -0.1 -2 1.4 -2 6.9 -6 5.4 -3.3zM742 467.9l8 -1.1 6 0.1 6 1 6 2.2 5.9 3.9 3.2 4 1.2 4 -1.2 4 -4.5 4 -4.6 2.5 -6 2.3 -6 1.3 -6 0.3 -6 -0.5 -6 -1.3 -6.8 -2.6 -3.2 -2 -3.2 -4 -0.5 -4 1.2 -4 3.4 -4 2.8 -2 4.3 -2.1zM808 479.8l8 0.3 10 2.8 10.9 5.1 9.3 6 6.3 6 3.9 6 1.4 6 -0.2 2 -1.6 3.4 -3 2.6 -5 1.9 -4 0.4 -6 -0.9 -26.1 -11.4 -10.1 -6 -4.3 -4 -2.7 -4 -1.3 -4 0 -2 1.9 -4 2 -2 4.6 -2.6zM454 522.9l2 -0.7 2 0.6 2 2.1 2.1 5.1 0.8 6 -0.3 6 -1.7 6 -2.9 3.8 -2 0.6 -2 -0.7 -2 -2.1 -2 -4.5 -0.9 -5.1 0.1 -6 0.8 -4.5 2 -4.6zM610 681.1l2 -0.7 4 0 3.7 1.6 0.8 2 -1.5 2 -1 0.5 -2 0.5 -4 -0.1 -2.5 -0.9 -1.7 -2 0.8 -2z"/>
<path fill="#ffdb00" d="M744 142.9l2 0.2 2 2 0.6 2.9 -0.6 1.2 -2 0.1 -2 -1.5 -0.9 -1.8 0 -2zM514 181.8l4 0.3 4 1.4 3 2.5 1.4 2 2.5 10 -0.3 2 -1.3 2 -3.3 2.2 -6 1.4 -6 -0.4 -4 -1.4 -2.8 -1.8 -1.5 -2 -0.9 -2 -0.5 -4 0.4 -4 0.8 -2 1.4 -2 3.1 -2.5zM478 198.6l2 -0.2 2.8 1.6 -0.8 0.7 -2 0.6 -2 -0.5 -1.5 -0.8zM366 219.6l4 -0.8 4.9 1.2 2.3 2 0.7 2 -0.6 2 -2.7 2 -2.6 0.8 -4 0 -2.3 -0.8 -2.7 -2 -0.6 -2 0.6 -2zM434 229.5l4 0.2 2.4 2.3 0.5 2 -0.5 2 -2.4 2.4 -2 0.6 -2 -0.2 -2 -1 -1.4 -1.8 -0.3 -2 0.6 -2zM656 245.8l2 -0.3 2 0.7 1.3 1.8 0 2 -1.5 2 -1.8 1 -2 0.6 -2 -0.2 -1.7 -1.4 -0.3 -2 1 -2zM638 279.6l1.6 0.4 -1.2 4 -4.9 6 -6.8 12 -2.7 2.9 -2 1.1 -4 0.4 -4 -0.5 -2 0.5 -4 4 -6 3.3 -4 0.3 -3 -2 1 -2.2 5.8 -3.8 6.2 -1.6 2 0.3 2 -1.1 2 -2 2.8 -5.6 1.3 -4 -0.1 -2 -2.2 -4 0.2 -2 2 -0.4 2 0.4 4 1.8 4 -0.3zM560 315.7l6 -1.3 6 0.3 3.2 1.3 1.1 2 -1.3 2 -7 4.5 -16 6.1 -4 0.9 -2 -0.7 -0.8 -0.8 0.2 -2 1.4 -2 6.7 -6zM490 339.7l4 -1.2 6 0.9 5.1 2.6 1.3 2 -0.8 2 -2.3 2 -3.5 2 -5.8 1.5 -4 0.3 -2 -0.4 -3.1 -1.4 -0.9 -2 1.5 -4 1.6 -2zM520 341.5l4 -0.5 1.3 1 -1.3 2 -2 1 -4.3 -1 0.4 -2zM896 360l4 -0.3 4 0.9 16 6.6 10 6.5 8.7 8.3 7.7 10 5.8 10 11.6 28 2.3 8 0.4 6 -1 14 0.7 4 4.3 14 0.7 6 -0.3 4 -1.3 6 -1.7 4 -7.2 12 -1.5 4 0.5 2 1.8 2 18.5 10.9 0 58.4 -7.9 2.7 -6.1 3.1 -4 3.8 -7.2 9.1 -4.8 5.1 -6 4 -6 1.8 -4 0.2 -4 -0.8 -6 -3 -3.5 -3.3 -2.5 -3.4 -3.6 -8.6 -1.1 -6 -1.6 -16 -1.7 -5.3 -2 -2.7 0.3 -2 3.7 -9 2.8 -13 3.2 -8.6 2 -7.4 2.5 -4 6.6 -6 0.4 -2 -2.2 -2 -9.3 -5 -4 -2.9 -4 -4.2 -3.4 -5.9 -1.1 -4 -0.7 -6 0.5 -6 2 -10 -0.3 -6 -2.2 -4 -6.8 -8 -3.5 -6 -5.1 -18 -7.4 -22 -2.9 -12 -0.5 -10 1.1 -6 1.6 -4 2.7 -4.2 4 -3.8 4 -2.6zM446 361.9l2 -0.4 4.8 0.5 0.7 2 -1 2 -2.1 2 -6.4 3.6 -6 1.7 -2 -0.6 -0.6 -0.7 0.6 -2 1.7 -2zM752 468l6 0.4 4 0.8 6 2.5 3.2 2.3 1.9 2 1.9 4 -0.4 4 -1.2 2 -3.4 3 -5.5 3 -4.5 1.5 -6 0.9 -8 -0.2 -6 -1.4 -6 -2.6 -2.8 -2.2 -2.4 -4 -0.1 -4 2 -4 1.9 -2 3 -2 4.5 -2 5.9 -1.5zM806 481.9l8 -0.7 8 1.5 10 3.9 10 5.6 7.2 5.8 4.7 6 2.2 6 -0.3 4 -0.9 2 -2.9 2.7 -4 1.6 -4 0.5 -4 -0.4 -6 -1.8 -6 -2.5 -14 -6.4 -8 -4.5 -4.1 -3.2 -3.4 -4 -1.7 -4 -0.2 -2 1.1 -4 1.5 -2 2.8 -2.3zM454 525.9l2 -0.8 2 0.7 1.8 2.2 1.4 4 0.6 4 -0.4 6 -1.1 4 -2.3 3.3 -2 0.7 -2 -0.9 -2 -2.7 -1.6 -6.4 0.6 -8 1 -3.3zM612 681.4l2 -0.2 3.6 0.8 1.1 2 -2.7 2.1 -4 -0.1 -2.5 -2 1 -2z"/>
<path fill="#ffd100" d="M746 144.8l1 1.2 -1 2 -1.5 -2zM512 183.8l4 -0.3 4 1 2.5 1.5 1.8 2 1.7 3.5 1.9 6.5 -0.3 2 -1.6 2.2 -3.1 1.8 -2.9 0.9 -6 0.1 -6 -1.9 -3.3 -3.1 -1 -4 0.7 -6 1 -2 1.9 -2zM368 219.4l4 0 2 0.6 2 1.5 1.2 2.5 -0.8 2 -2.4 1.6 -4 0.8 -4 -0.9 -2 -1.4 -0.9 -2.1 0.5 -2 2.4 -1.9zM434 231.9l2 -0.4 2 1.3 0.4 1.2 -1.2 2 -1.2 0.5 -2.2 -0.5 -0.9 -2zM656 249.5l2 0.5 -2 0.3zM622 289l6 -0.2 1.6 1.2 0.2 2 -3.8 9.1 -2 2.3 -2 1.1 -2 0.3 -2.6 -0.8 -1.1 -2 0.2 -2 3.5 -8.2zM602 307.6l4 -0.6 0.9 1 -1.3 2 -1.6 1.1 -2 1 -3.1 -0.1 -0.1 -2zM562 315.6l4 -0.5 4 0.3 2.5 0.6 1.4 2 -0.7 2 -2.3 2 -3.6 2 -11.3 4.4 -6 1.7 -2 -0.4 -0.9 -1.7 1 -2 2 -2 7.3 -6zM492 339.6l4 -0.2 4 1 2.6 1.6 1.4 2 -0.5 2 -3.5 2.9 -2.8 1.1 -5.2 0.9 -4.7 -0.9 -1.4 -2 -0.2 -2 2.6 -4zM446 363.7l2 -0.6 1.6 0.9 0.4 2 -6 4.1 -4 0.4 -0.5 -0.5 0.9 -2 2 -2zM896 363.4l6 -0.1 6 1.7 8 3.4 8 4.6 6.2 5 5.6 6 4.4 6 3.4 6 3.2 8 3.7 18 5.4 16 0.8 6 -0.5 10 0.5 4 1.6 4 6.7 12 2 8 -0.6 8 -3.4 8 -5 6.7 -7.9 7.3 -0.6 2 3.1 2 15.9 8 11.5 4.6 0 55.8 -11 3.6 -4.2 2 -2.8 2.4 -8.9 11.6 -3.9 4 -5.2 3.6 -6 1.9 -4 0.1 -4 -0.8 -4 -2 -3.4 -2.8 -3.2 -4 -2.1 -4 -2.2 -8 -3.8 -28 3.8 -20 5.9 -18 1.1 -2 1.9 -2.2 4 -3.1 5.3 -2.7 2.5 -2 -2.1 -2 -13.7 -5.5 -6 -3.9 -4.2 -4.6 -2.8 -6 -0.8 -4 0.1 -6 1.4 -6 3.8 -10 0.5 -4 -0.4 -2 -2.4 -4 -6.9 -8 -2.3 -4 -4.7 -16 -10.6 -26 -2.2 -8 -0.9 -6 0.2 -8 1 -4 1.9 -4 5.3 -5.7zM746 469.9l10 -0.5 4 0.7 5.4 1.9 3.1 2 3.3 4 0.5 4 -0.6 2 -1.7 2.2 -4 3 -4 1.8 -6 1.4 -4 0.3 -6 -0.5 -8 -2.7 -4 -3.3 -1.4 -2.2 -0.4 -4 0.6 -2 1.3 -2 3.9 -3.2zM806 483.9l6 -1.4 8 0.8 8.1 2.7 11.7 6 7.8 6 4.9 6 2.1 6 -0.7 4 -1.9 2.5 -4 2.1 -4 0.7 -4 -0.3 -10 -3.4 -20.3 -9.6 -3.7 -2.6 -3.6 -3.4 -1.5 -2 -1.5 -4 0.5 -4 1.1 -2 1.7 -2zM454 529.4l2 -1.2 2 0.9 1.6 2.9 0.8 4 0 4 -1.1 4 -1.3 2.4 -2 0.9 -2.1 -1.3 -2 -6 0.2 -6zM612 683.6l2 -1.1 2.4 1.5 -2.4 0.7 -2 -0.5z"/>
<path fill="#ffc700" d="M512 185.4l4 -0.3 2 0.4 4.2 2.5 1.8 2.7 3 7.3 -0.3 2 -1.4 2 -5.3 2.4 -6 0.2 -6 -2.2 -2.3 -2.4 -0.8 -4 1.3 -6 1.8 -2.5zM368 219.8l4 0 3.9 2.2 0.6 2 -1 2 -1.5 1 -4 0.8 -2 -0.2 -3.2 -1.6 -1.1 -2 0.6 -2zM624 291.8l2 1 0.7 1.2 -0.6 4 -2.7 4 -1.4 0.8 -2 0.1 -1.2 -0.9 -0.5 -2 0.6 -2 2.1 -4zM564 316l4 -0.2 2 0.6 2.1 1.6 -0.6 2 -2.1 2 -7.4 3.4 -10 2.9 -2.3 -0.3 0.3 -2 5.9 -6 4.1 -2.8zM490 341.7l2 -1.2 2 -0.4 4 0.7 2.7 1.2 1.3 2 -0.4 2 -1.8 2 -1.8 0.9 -6 1.2 -2 -0.4 -2.7 -1.7 -0.2 -2 0.8 -2zM894 367.7l4 -1.2 6 0.3 8 2.8 8.2 4.4 5.8 4.4 5.5 5.6 4.4 6 4.1 8 2.4 10 0.4 14 0.6 4 4.6 12 0.9 4 0.3 4 -0.7 8 0.6 4 2.5 4 6.4 7.6 2.9 4.4 2.3 6 0.6 4 -0.2 4 -1 4 -3 6 -5.6 6.3 -4 3.1 -4 2.1 -4 0.9 -6 -0.6 -10 -2.5 -6 -2.2 -4 -2.2 -3.3 -2.9 -4 -6 -1.4 -6 0 -4 0.9 -4 2.5 -6 5.9 -10 0.9 -4 -1.8 -4 -7.4 -8 -2.7 -4 -1.5 -4 -3.3 -12 -10.3 -20 -5 -14 -1.1 -8 0.9 -8 3.2 -6 1.9 -2zM744 472l4 -1 6 -0.4 8 1.5 3.6 1.9 2.3 2 1.3 2 0.6 2 -0.1 2 -0.9 2 -1.7 2 -3.1 2.1 -4 1.7 -8 1.1 -8 -1.2 -3.8 -1.7 -2.6 -2 -1.4 -2 -0.8 -4 1.9 -4 2.4 -2zM814 484l6 0.6 8 2.6 9.8 4.8 5.9 4 4.3 4 4 6 0.9 4 -1.1 4 -2 2 -3.8 1.5 -4 0.3 -4 -0.7 -6 -2 -11.6 -5.1 -8 -4 -4.4 -3 -4.7 -5 -1.3 -4 0.2 -2 1.8 -3.8 2.5 -2.2 3.5 -1.5zM934 517.2l6 -1 8 0.7 6 2.2 9.2 4.9 16.8 5.8 0 53.9 -13.8 4.3 -3.7 2 -2.5 2.5 -8 10.9 -4 4 -6 3.7 -6 1.2 -6 -1 -4 -2.2 -4 -3.8 -3.2 -5.3 -2.4 -8 -3.5 -28 0.2 -4 3.3 -18 3.6 -9.2 1.9 -6.8 1.2 -2 2.9 -2.8 4 -2.5zM456 532.3l2 1.6 0.6 4.1 -0.6 4 -2 1.5 -2 -2.7 -0.3 -2.8 0.3 -2.9z"/>
<path fill="#ffbd00" d="M512 187.1l4 -0.3 2 0.5 2 1.1 2 2 3.4 5.6 0.6 2 -0.2 2 -1.5 2 -4.3 1.9 -6 0.2 -4 -1.2 -3.4 -2.9 -0.6 -4 1.1 -4 1 -2 1.9 -1.9zM370 219.9l2 0.3 3.2 1.8 0.6 2 -1.2 2 -2.6 1.1 -2 0.2 -4.3 -1.3 -1.2 -2 0.6 -2 2.9 -1.8zM622 296l2 -0.1 0.2 2.1 -2.2 2.4 -0.6 -0.4 0 -2zM560 318l4 -1.2 4 0.2 2 1 -0.1 2 -2.3 2 -4 2 -6.7 2 -4 0 0.5 -2 1.7 -2zM492 341.4l2 -0.4 4.5 1 2 2 -0.3 2 -2.2 1.9 -2 0.6 -4 0.6 -2 -0.7 -0.7 -0.4 -0.9 -2 0.7 -2zM898 370l4 -0.3 6 1.4 6.5 2.9 6.2 4 4.6 4 4.7 5.4 3.1 4.6 2.7 6 1.1 4 0.6 6 -2 18 0.9 4 4.6 10 0.8 4 -0.4 4 -2.3 8 0.9 2 1.8 2 8.2 6.4 6 6 3.4 5.6 1.5 6 -0.5 6 -2.5 6 -3 4 -3.9 4 -5 3.4 -4 1 -4 -0.3 -12 -2.3 -6 -1.9 -6.1 -3.9 -3.2 -4 -1.8 -4 -0.6 -4 0.2 -4 1.9 -6 3.6 -5.6 9.8 -10.4 1.5 -2 0.6 -2 -0.7 -2 -9.2 -7.6 -3.8 -4.4 -1.7 -4 -1.8 -8 -1.5 -4 -11.2 -16.8 -4 -7.8 -2.8 -7.4 -1.7 -8 -0.1 -4 0.6 -4 1.7 -4 2.3 -2.8 2 -1.6zM752 472l4 0.2 4 0.9 5.1 2.9 1.5 2 0.5 2 -0.2 2 -1.1 2 -2.2 2 -3.6 1.8 -6 1.2 -6 -0.4 -6.3 -2.6 -2 -2 -1 -2 -0.1 -2 0.6 -2 1.5 -2 2.9 -2 4.4 -1.5zM812 485.9l6 -0.3 8 2 9.6 4.4 6.3 4 6.1 5.9 2.4 4.1 0.7 4 -1.1 3.1 -2 1.8 -2 0.9 -4 0.4 -4 -0.5 -10.2 -3.7 -15.9 -8 -4.7 -4 -1.4 -2 -1.1 -4 1.1 -4 1.8 -2zM936 517.9l6 -0.5 6 1 6 2.4 10 5.2 12 3 4 1.6 0.1 25.4 -0.1 27.2 -16.2 4.8 -1.8 1 -3.3 3 -6.7 9.5 -4.2 4.5 -5.8 3.7 -6 1.3 -4 -0.5 -5.3 -2.5 -4.1 -4 -2.4 -4 -2.5 -8 -2.8 -18 -0.8 -12 0.7 -8 2.1 -12 3.4 -8 2.4 -8 1.4 -2 3.9 -3.3 4 -1.9z"/>
<path fill="#ffb300" d="M512 189.1l2 -0.6 4 0.7 4 3.5 3.1 5.3 -0.1 2 -1.7 2 -5.3 1.8 -4 -0.2 -4 -1.3 -2.5 -2.3 -0.6 -2 1.1 -4.5 2 -3.1zM366 221.8l2 -1 4 -0.1 2.4 1.3 0.7 2 -1.1 1.6 -2 1 -4 -0.1 -1.2 -0.5 -1.6 -2zM562 317.9l4 -0.3 1.3 0.4 0.5 2 -1.8 2 -4 1.6 -4 0.8 -1.6 -0.4 0.5 -2 1.8 -2zM494 341.9l2 0.3 2.6 1.8 -0.2 2 -4.2 2 -2.2 0 -2 -1.7 0 -1 0.5 -1.3 1.5 -1.4zM898 373.9l4 -0.6 4 0.6 4 1.4 5.1 2.7 4.9 3.6 4 3.8 3.7 4.6 2.3 4 2.6 8 0.2 4 -0.8 5.7 -2 5.2 -2 3.5 -4 5.2 -2 1.5 -2 0.2 -4 -1.8 -10 -7.9 -6 -7.1 -5.9 -10.5 -2.7 -8 -0.6 -8 1 -4 1 -2 1.7 -2zM924 435.4l2 0.9 3 3.7 0.3 2 -1.3 1.8 -2 0.2 -2 -0.9 -2 -2 -0.6 -3.1 0.6 -1.7zM932 463.9l4 -0.1 4 0.9 8 4.1 6 5.5 2.5 3.7 1.4 4 0.4 6 -1 4 -2 4 -6.5 8 -4.8 2.7 -2 0.4 -4 -0.3 -12 -2.3 -6 -1.6 -6 -3.9 -2.4 -3 -1.8 -4 -0.7 -4 0.4 -4 1.4 -4 3.1 -4.9 4 -4 6 -4.3 4 -2zM750 473.9l6 0 5.7 2.1 1.9 2 0.6 2 -0.4 2 -1.5 2 -2.3 1.5 -4 1.3 -6 0 -4 -1.2 -2.3 -1.6 -1.5 -2 -0.2 -2.3 0.6 -1.7 2 -2zM814 487.5l4 -0.3 6 1.1 9.1 3.7 6.8 4 4.7 4 3.2 4 1.4 4 -0.1 2 -0.9 2 -2.2 1.7 -2 0.7 -4 0.1 -4 -0.9 -13.7 -5.6 -10.3 -6 -3.6 -4 -0.9 -4 0.4 -2 1.3 -2 2.8 -2zM932 519.6l6 -1.2 8 0.5 6 2.1 8.6 5 13.4 3.1 6 2.2 0 51.4 -6 2.1 -12.3 3.2 -3.7 2.9 -7.8 11.1 -4.1 4 -4.1 2.5 -6 1.3 -4 -0.6 -4 -1.8 -3.8 -3.4 -2.7 -4 -2.6 -8 -3.3 -18 -0.7 -8 0.3 -10 1.4 -10 1.6 -6 3.6 -8 0.9 -4 1.3 -2.7 3.3 -3.3z"/>
<path fill="#ffa800" d="M512 191.2l2 -0.7 2 0 4 2.1 3.2 3.4 1 2 -0.1 2 -1.9 2 -4.2 1.3 -4 -0.2 -3.4 -1.1 -2.1 -2 -0.6 -2 1.5 -4zM368 221.3l4 -0.1 1.6 0.8 0.7 2 -2.3 2.1 -4 -0.2 -2.1 -1.9 0.8 -2zM562 319.2l2 0 2 0.8 -2.7 2 -3.3 0.5 -0.7 -0.5 1.4 -2zM494 343.3l2.1 0.7 -0.4 2 -1.7 0.6 -1.7 -0.6 0.2 -2zM900 378l2 -0.4 4 0.3 6 2.4 7.5 5.7 4.9 6 2.7 6 0.9 6 -0.7 4 -1.3 3 -2 2.6 -2 1.6 -4 1.3 -2 -0.1 -4 -1.2 -6 -4.3 -6 -7.5 -4 -8.4 -1.4 -7 1 -6 1.4 -2zM930 467.6l6 -0.4 8 2.3 6.4 4.5 4.3 6 1.3 6 -1.1 6 -1.8 4 -3.8 6 -3.3 2.7 -2 0.9 -4 0.3 -8 -1.9 -8 -0.9 -4 -1.2 -4 -2.2 -2 -1.8 -2 -2.7 -1.4 -3.2 -0.6 -4 0.5 -4 1.5 -3.7 2 -3 4 -3.9 4 -2.7zM752 475.8l4 0.3 3.7 1.9 0.8 2 -0.6 2 -3.1 2 -2.8 0.5 -4 -0.3 -2 -1 -1.4 -1.2 -0.7 -2 1 -2 3.1 -1.7zM814 489.8l4 -0.8 6 0.8 6.1 2.2 7.5 4 5.1 4 3.2 4 1.2 4 -0.5 2 -2.6 2.2 -6 0.3 -7.8 -2.5 -12.2 -6 -5.2 -4 -2.2 -4 0 -2 0.8 -2zM934 519.7l6 -0.8 6 0.8 4 1.3 10 5.7 4.3 1.3 7.7 1.3 8 2.7 0 50.1 -4 1.6 -10.1 2.3 -6 2 -2.7 2 -6.8 10 -4.4 4.6 -4 2.6 -6 1.4 -4 -0.7 -4 -1.9 -3.9 -4 -2.3 -4 -1.4 -4 -3.8 -18 -1.1 -12 0.2 -6 1.7 -14 1.2 -4 3.8 -8 1 -4 2.4 -4 2.2 -1.8z"/>
<path fill="#ff9e00" d="M512 193.3l2 -0.9 4 0.6 4.1 3 1.2 2 -0.1 2 -2.2 2 -3 0.8 -4 -0.1 -2.2 -0.7 -2.4 -2 -0.5 -2 1.1 -2.7zM368 221.8l2 -0.4 2 0.3 1.4 2.3 -1.4 1.2 -2 0.5 -2 -0.7 -1.1 -1zM904 383.4l4 0.4 4 1.9 4 3.3 3.9 5 1.6 4 0.4 4 -1.5 4 -2.4 2 -4 0.5 -4 -1.6 -4 -3.5 -3.7 -5.4 -2.3 -6 -0.1 -4 0.6 -2 1.5 -1.8zM932 469.8l6 0.3 6 2.1 5.1 3.8 1.7 2 2.2 4 0.7 6 -2.1 8 -3.6 6 -4 2.8 -4 0.3 -8 -2.4 -8 -0.6 -4 -1.1 -4 -2.3 -2 -1.9 -2.6 -4.8 -0.6 -4 0.6 -4 2 -4 1.6 -2 3 -2.8 4 -2.4 4 -1.7zM818 491.5l4 -0.2 4 0.9 6 2.4 5.9 3.4 4.1 3.7 1.7 2.3 0.7 2 -0.4 2.6 -2 1.7 -2 0.3 -4 -0.4 -6.2 -2.2 -11.2 -6 -2.6 -2.3 -1.9 -3.7 0.4 -2 1.5 -1.7zM936 519.8l4 -0.3 6 0.9 4.3 1.6 6.1 4 3.6 1.6 14 2.7 6 2.1 0.1 23.6 -0.1 25.7 -4 1.7 -12.2 2.6 -5.6 2 -2.5 2 -5.7 8.7 -4 4.5 -4.2 2.8 -5.8 1.4 -4 -0.7 -4 -2.2 -2.5 -2.5 -2.5 -4 -1.5 -4 -1.4 -8 -2.9 -10 -0.8 -6 -0.3 -8 0.8 -12 1.5 -8 4.7 -10 1.9 -6 1.6 -2 3.4 -2.4z"/>
<path fill="#ff9400" d="M516 193.9l4 1.5 2.3 2.6 0 2 -2.3 1.8 -2 0.5 -4 -0.1 -3.6 -2.2 -0.5 -2 1.1 -2 3 -1.9zM370 221.9l2 1.2 0.4 0.9 -2.4 0.8 -2.2 -0.8zM932 472l6 0.4 6 2.4 4 3.2 2.5 4 1.2 6 -1.2 8 -2.5 4.8 -2 2.1 -2 1 -4 0.4 -8 -2.8 -8 -0.3 -4 -1.1 -3.7 -2.1 -2 -2 -2.2 -4 -0.6 -4 0.8 -4 1.7 -3.2 2 -2.4 6 -3.9 4 -1.5zM820 495.1l2 -0.9 2 0 6 1.6 4 1.9 5.4 4.3 1.2 2 0.3 2 -0.9 1.1 -2 0.8 -2 -0.2 -5.5 -1.7 -4 -2 -5.7 -4 -1.4 -2 -0.2 -2zM932 521.3l6 -1.2 8 0.8 4 1.7 8.8 5.4 15.2 2.7 6 2.2 0 48.4 -4 1.7 -14.3 3 -5 2 -2.3 2 -5.2 8 -3.5 4 -3.7 2.7 -6 1.5 -4 -0.8 -2.7 -1.4 -3.3 -3.2 -1.8 -2.8 -1.6 -4 -1.6 -8 -3.2 -10 -1.1 -8 0.3 -14 1.8 -12 4.9 -10 2 -6 2.3 -2.5z"/>
<path fill="#ff8a00" d="M514 195.3l4 0.2 2 1.2 1.2 1.3 0 2 -3.2 1.8 -2 0.1 -4 -1.5 -0.9 -2.4 0.9 -1.4zM932 473.9l6 0.7 4 1.5 4 3.1 3 4.8 1.1 6 -0.5 6 -1.8 4 -3.8 3.3 -4 0.3 -8 -3.3 -8 0 -4 -0.9 -4 -2.5 -2 -2.5 -1.2 -2.4 -0.4 -2 0.1 -4 1.5 -3.6 2 -2.6 4 -3 4 -1.6zM932 521.8l6 -1.3 6 0.5 6 2.2 7 4.8 17 3.1 6 2.2 0 47.6 -6 2.4 -14.1 2.7 -4.7 2 -2.1 2 -5.2 8 -3.8 4 -4.1 2.3 -4 0.7 -4 -0.9 -2 -1 -2 -1.7 -2.6 -3.4 -1.7 -4 -1.8 -8 -3.1 -8 -1.7 -10 0.3 -14 1.8 -12 5.1 -10 2 -6 1.8 -2z"/>
<path fill="#ff8000" d="M514 196.7l2 -0.5 2 0.5 1.9 1.3 0.1 2 -4 1.1 -3.2 -1.1 -0.3 -2zM928 475.9l6 0 6 1.6 4 2.7 2.9 3.8 2.1 6 -0.1 6 -1.8 4 -3.1 2.6 -4 0.4 -6 -3.3 -2 -0.6 -6 0.5 -4 -0.4 -4 -1.6 -3.5 -3.6 -1 -2 -0.5 -4 1 -3.9 1.3 -2.1 4.7 -3.9 4 -1.5zM934 521.6l4 -0.7 6 0.5 6 2.5 6 4.3 6 1.5 10 1.3 8 2.8 0 46.8 -6 2.4 -15.8 3 -4.3 2 -2.1 2 -5.2 8 -2.6 2.7 -4 2.4 -4 0.7 -4 -1 -2 -1.2 -2 -1.8 -2.4 -3.8 -2.8 -10 -4.1 -10 -1.2 -10 0.7 -16 1.4 -8 5.2 -10 2.1 -6 3.1 -2.8z"/>
<path fill="#ff7500" d="M516 197.5l2.1 0.5 0 2 -3.3 0 -0.3 -2zM924 477.8l6 -0.5 6 1 4 1.7 4 3.1 3.3 4.9 1.1 4 -0.2 4 -2.2 4.5 -2 1.5 -2 0.6 -2 -0.2 -6 -3.8 -2 -0.6 -6 0.7 -4 -0.2 -4 -1.8 -2 -1.8 -1.7 -2.9 -0.5 -2 0.2 -3.6 0.9 -2.4 3.1 -3.5 2 -1.3zM936 521.6l4 -0.3 4 0.6 4 1.5 8 5.3 5.2 1.3 10.8 1.4 4 1 4 1.8 0.1 21.8 -0.1 24.2 -6 2.5 -16 3 -4 1.6 -3.4 2.7 -3.8 6 -2.8 3.2 -4 2.6 -4 0.7 -2.7 -0.5 -3.3 -1.8 -3.2 -4.2 -3.1 -10 -4.6 -10 -0.8 -4 -0.4 -8 0.8 -16 2 -8 4.6 -8 2.2 -6 2.5 -2.3z"/>
<path fill="#ff6b00" d="M922 479.4l4 -0.7 6 0.5 6 2.3 6 3.9 2.1 2.6 1.6 4 -0.1 4 -1.9 4 -1.7 1.4 -2 0.6 -2 -0.2 -3.1 -1.8 -2.9 -2.7 -2 -0.6 -8 1.3 -4 -0.9 -2 -1.2 -1.9 -1.9 -1.1 -2 -0.5 -2 0.4 -4 1.1 -2.3 2 -2.2zM936 522l4 -0.3 4 0.6 4.1 1.7 5.3 4 2.6 1.2 2.8 0.8 13.2 1.7 4 1 4 1.9 0.1 21.4 -0.1 23.8 -4 1.9 -4 1.2 -12 2 -6 1.7 -2.7 1.4 -1.9 2 -3.9 6 -3.5 3.4 -2 1.1 -4 0.8 -4 -1.2 -2 -1.6 -2 -2.6 -3.4 -9.9 -5 -10 -0.9 -4 -0.5 -8 0.8 -16 2.1 -8 4.8 -8 2.2 -6 3.9 -2.9z"/>
<path fill="#ff6100" d="M924 480l4 0 4 1 12 6 2.3 3 1 4 -0.8 4 -1.5 2 -3 1.5 -2 -0.3 -2.1 -1.2 -3.9 -4 -2 -0.6 -8 1.8 -4 -0.9 -2 -1.3 -2 -2.5 -0.8 -2.5 0.4 -4 1.2 -2 2.1 -2zM932 523.5l6 -1.4 6 0.6 3.2 1.3 5.2 4 3.6 1.7 18 2.7 6 2.5 0 44.6 -4 2 -4 1.1 -18.2 3.4 -3.7 2 -6.1 8 -2 1.9 -4 1.9 -2 0.2 -4 -1.4 -2 -1.9 -1.7 -2.7 -2.8 -8 -4.8 -8 -1.3 -4 -0.8 -6 0.3 -16 1.7 -10 5.8 -10 1.2 -4 1.1 -2z"/>
<path fill="#ff5700" d="M922 481.4l2 -0.4 4 0.3 4 1.7 4 3 6 1 2 1.3 2.4 3.7 0.2 4 -0.7 2 -1.9 2.2 -2 0.7 -2 -0.3 -2 -1.3 -4 -5.2 -2 -0.2 -5.2 2.1 -2.8 0.4 -4 -0.9 -2 -1.4 -2 -3.6 0 -3 2 -3.8zM932 524l6 -1.5 6 0.6 4 2 4 3.2 3.5 1.7 18.5 2.7 6 2.6 0 43.9 -4 2 -4 1.1 -11.2 1.7 -8.3 2 -3.7 2 -6.8 8.3 -2.8 1.7 -3.2 0.5 -2 -0.4 -2 -1.2 -2.4 -2.9 -3.2 -8 -5.3 -8 -1.3 -4 -0.9 -6 0.3 -16 1.7 -10 2 -4 4 -6 1.2 -4 1.2 -2z"/>
<path fill="#ff4c00" d="M924 482l4 0.6 2.7 1.4 1.8 2 1 2 0.3 2 -4.7 4 -5.1 1.6 -2 -0.2 -3 -1.4 -1.7 -2 -0.6 -2 0 -2 1.3 -3 2 -1.8zM940 487.9l2 0.3 2 1.1 1.7 2.7 0.5 2 -0.9 4 -1.3 1.6 -2 0.8 -2 -0.3 -2.5 -2.1 -2.8 -6 -0.2 -2 3.5 -1.7zM934 523.5l4 -0.7 6 0.8 4 2 6.2 4.4 17.8 2.5 4 1.1 4 2 0 43.3 -6 2.7 -14.9 2.4 -8 2 -3.6 2 -5 6 -2.4 2 -4.1 1 -2 -0.6 -2.7 -2.4 -4 -8 -5.3 -7.1 -1.9 -4.9 -1 -8 0.6 -16 1.5 -8 2 -4 4.2 -6 1.2 -4 1.3 -2z"/>
<path fill="#ff4200" d="M922 483.3l4 -0.1 2.1 0.8 2.2 2 0.8 2 -0.1 2 -1.3 2 -2.8 2 -2.9 0.7 -2 -0.1 -2 -0.8 -2 -2.2 -0.5 -1.6 0.5 -3.4 2 -2.3zM938 490l2 -1 2 0.1 2 1.3 1.7 3.6 -0.1 2 -1.6 2.9 -2 1 -2 -0.4 -1.8 -1.5 -1.7 -4 0.1 -2zM934 523.9l4 -0.8 4 0.3 4 1.5 7.1 5.1 18.9 2.7 4 1.2 4 2.1 0 42.6 -6 2.8 -16.6 2.6 -7.6 2 -3.6 2 -5.9 6 -2.3 1.1 -2 0.1 -2 -0.7 -2 -2 -2.4 -4.5 -5.6 -6.8 -3 -5.2 -1.5 -8 0 -10 0.7 -10 1.3 -6 2.1 -4 4.3 -6 2.1 -5.3z"/>
<path fill="#ff3800" d="M920 485.5l2 -1.1 2 -0.3 2 0.4 2 1.2 1.3 2.3 -0.1 2 -1.3 2 -3.9 1.8 -2 -0.1 -2 -1 -1.6 -2.7 0 -2zM938 491.7l2 -1.6 2 -0.1 2 1.4 1.1 2.6 0 2 -1.1 2.2 -2 1.1 -2 -0.5 -1 -0.8 -1.3 -2 -0.4 -2zM936 523.7l4 -0.2 4 0.9 3 1.6 5 4 2 0.6 18 2.4 4 1.2 4 2.1 0 42 -6 2.9 -18.1 2.8 -7.4 2 -3.8 2 -4.7 4.1 -2 1 -2 0.1 -2 -1 -4.7 -6.2 -5.3 -5.4 -2.7 -4.6 -1.3 -6 -0.2 -12 0.9 -12 2 -6 5.7 -8 1.6 -4.5 2 -2.1z"/>
<path fill="#ff2e00" d="M922 485.6l2 -0.2 2 0.5 1.6 2.1 -0.1 2 -1.5 2 -2 0.7 -2 -0.1 -2 -1.5 -0.5 -1.1 0.1 -2zM940 491.1l2 -0.2 2 1.7 0.6 1.4 -0.6 3.2 -2 1.4 -2 -0.4 -1.5 -2.2 -0.3 -2 0.8 -2zM938 523.8l6 1 8 5.5 6 1.3 14 1.6 4 1.2 4 2.2 -0.1 41.4 -3.9 2.2 -4 1.2 -17.6 2.6 -7.3 2 -9.1 4.8 -2 -0.1 -2 -1.1 -10 -9.7 -3 -5.9 -0.9 -6 0.2 -16 1.1 -8 1.5 -4 5.9 -8 1.4 -4 1.6 -2 2.2 -1.3z"/>
<path fill="#ff2400" d="M922 487.3l2 -0.2 1.4 0.9 0.1 2 -1.5 1.1 -2 -0.2 -0.9 -0.9 0.2 -2zM942 491.8l2 2.2 0 2 -2 2 -2 -0.8 -0.8 -1.2 -0.2 -2 1 -1.8zM934 525.2l4 -1 4 0.4 3.4 1.4 4.6 3.8 2 0.8 6 1.3 14 1.5 4 1.2 4 2.3 0 40.8 -6 3 -21 3.3 -7.3 2 -7.7 2.9 -2 -0.2 -4 -2.3 -7.5 -6.4 -2.5 -4 -1.5 -6 -0.1 -14 0.8 -10 2 -6 6.1 -8 1.5 -4 1.7 -2z"/>
<path fill="#ff1a00" d="M940 493.7l2 -0.8 0.9 1.1 0 2 -0.9 1 -2 -1zM934 525.6l4 -1.1 4 0.5 2.6 1 4.9 4 2.5 1 4.5 1 15.5 1.7 4 1.1 4 2.4 0 40.2 -4 2.4 -4 1.3 -20.4 2.9 -13.6 3.5 -2 -0.1 -4 -1.8 -4 -2.6 -3.1 -3 -2.6 -4 -1.6 -6 -0.1 -14 0.8 -10 2.1 -6 6.3 -8 1.5 -4z"/>
<path fill="#ff0f00" d="M934 526l4 -1.1 4 0.5 2 0.8 4.7 3.8 3.3 1.3 20 2.6 4 1.2 4 2.4 0 39.6 -4 2.5 -4 1.3 -21.8 3.1 -12.2 2.6 -6 -1.6 -4 -2.6 -2.7 -2.4 -2.7 -4 -1.6 -6 -0.3 -10 0.6 -12 0.8 -4 1.7 -4 5.1 -6 1.4 -2 1.6 -4z"/>
<path fill="#ff0500" d="M936 525.6l2 -0.3 4 0.4 2 1 3.9 3.3 4.1 1.6 20 2.5 4 1.2 4 2.5 0 39 -4 2.6 -4 1.3 -20 2.8 -12 2.3 -6 -0.6 -4 -1.9 -4.3 -3.3 -2.8 -4 -1.7 -6 -0.2 -14 0.9 -10 2.2 -6 6.7 -8 1.7 -4z"/>
<path fill="#fa0000" d="M938 525.7l4 0.5 5.2 3.8 4.8 2 20 2.3 4 1.2 4 2.6 0 38.4 -1.9 1.5 -4.1 1.9 -4 1 -32 4.5 -4 -0.7 -4 -1.8 -5.6 -4.9 -2.1 -4 -1.1 -6 0.2 -16 1.2 -8 1.7 -4 7.1 -8 1.8 -4 2.8 -2z"/>
<path fill="#f00000" d="M934 527.9l2 -1.3 4 -0.5 2 0.7 4.4 3.2 4.5 2 21.1 2.4 4 1.3 4 2.7 0 37.8 -4 2.7 -6 1.8 -30 4.2 -4 -0.2 -4 -1.2 -6 -4 -2.6 -3.5 -1.7 -6 -0.3 -12 0.9 -12 2.3 -6 7.3 -8z"/>
<path fill="#e50000" d="M936 527.2l2 -0.6 4 0.7 3.6 2.7 4.4 2 22 2.6 4.1 1.4 3.9 2.7 -0.1 37.3 -3.9 2.7 -6 1.9 -30 3.9 -4 -0.3 -4 -1.1 -6 -4 -3.2 -5.1 -1.1 -6 0 -12 0.8 -10 2.3 -6 7.7 -8 1.5 -3.1z"/>
<path fill="#db0000" d="M936 527.8l4 -0.6 2.2 0.8 3.8 2.7 4 1.6 22 2.5 4 1.4 4 2.8 0 36.6 -0.4 0.4 -3.6 2.5 -6 1.9 -30 3.6 -4 -0.2 -4 -1 -4 -2.3 -2 -1.7 -2.9 -4.8 -1.2 -6 0 -12 0.8 -10 2.4 -6 8 -8z"/>
<path fill="#d10000" d="M938 527.7l2.7 0.3 5.3 3.2 4 1.3 22 2.5 4 1.4 4 2.9 0 36 -2 1.8 -4 2.1 -6 1.4 -28 3.2 -4 -0.3 -4 -1.1 -4 -2.2 -2.3 -2.2 -2.4 -4 -1.2 -6 0.1 -14 0.7 -8 1.3 -4 1.8 -2.9 7.7 -7.1 2.3 -3.3z"/>
<path fill="#c70000" d="M936 529.8l2 -1.3 2 0 6.8 3.5 3.2 0.7 22 2.4 4 1.5 4 3 0 35.3 -0.9 1.1 -3.1 2.1 -6 1.9 -30 3.5 -4 -0.3 -4 -1.2 -4 -2.2 -2 -1.8 -2.5 -4 -1.2 -6 0.1 -14 0.7 -8 1.3 -4 1.6 -2.6 8.3 -7.4z"/>
<path fill="#bd0000" d="M938 529.5l2 0 5.7 2.5 4.3 0.9 22 2.4 4 1.5 4 3.1 0 34.7 -1.2 1.4 -4.8 2.8 -4 1.1 -30 3.3 -4 -0.3 -4 -1.1 -4 -2.2 -2 -1.9 -2.2 -3.7 -1.3 -6 0 -14 0.8 -8 1.3 -4 2.9 -4z"/>
<path fill="#b30000" d="M936 531.9l2 -1.4 2 -0.2 4.5 1.7 5.5 1.2 20 1.8 6 2 3.8 3 0.2 34.3 -1.5 1.7 -4.5 2.6 -4 1.1 -28 3.2 -6 -0.2 -4 -1.2 -5.4 -3.5 -2.6 -4 -1.3 -6 0 -14 0.8 -8 1.3 -4 3 -4z"/>
<path fill="#a80000" d="M938 531.4l2 -0.3 12 2.6 18 1.5 6 2 3.6 2.8 0.4 0.6 0 33.4 -1.8 2 -4.2 2.5 -4 1.1 -30 3.1 -4 -0.3 -4 -1.1 -4 -2.3 -2 -2 -1.8 -3 -1.3 -6 0 -14 0.8 -8 1.4 -4 2.9 -3.9 4 -3.1z"/>
<path fill="#9e0000" d="M940 531.9l12 2 18 1.5 6 2 3.3 2.6 0.7 0.9 0 32.8 -2 2.3 -4 2.3 -4 1.1 -30 3.1 -8 -1.5 -4 -2.3 -2 -2.1 -2.3 -4.6 -0.8 -6 0.3 -14 1.2 -8 2.1 -4 3.5 -3.3 6 -3.8z"/>
<path fill="#940000" d="M936 533.4l4 -1.1 11.2 1.7 16.8 1.2 6 1.4 2.7 1.4 2.4 2 0.9 1.3 0 32 -2 2.4 -3.8 2.3 -4.2 1.3 -28 2.9 -8 -0.7 -4 -1.7 -2.5 -1.8 -2.8 -4 -1.5 -6 0.1 -14 0.8 -8 1.4 -4 2.5 -3.4z"/>
<path fill="#8a0000" d="M936 533.8l2 -0.8 4 -0.2 8 1.2 18 1.3 6 1.5 4.8 3.2 1.2 1.6 0 31.3 -2 2.6 -4 2.4 -4 1.2 -26 2.8 -6 0 -4 -0.7 -4 -1.6 -2.1 -1.6 -3 -4 -1.5 -6 0.1 -14 0.8 -8 1.4 -4 2.3 -3.1 4 -3z"/>
<path fill="#800000" d="M938 533.4l4 -0.3 26 2.4 6 1.5 4.6 3 1.4 2 0 30.6 -2 2.6 -4 2.6 -4 1.2 -26 2.7 -6 0 -4 -0.7 -4 -1.7 -2 -1.4 -2.9 -3.9 -1.5 -6 0 -14 0.8 -8 1.5 -4 2.1 -2.8 6 -4.2z"/>
<path fill="#800000" d="M938 533.9l4 -0.4 26 2.1 6 1.5 4.3 2.9 1.7 2.4 0 29.8 -2 2.8 -4 2.6 -4 1.2 -26 2.7 -6 0 -4 -0.7 -4 -1.7 -2 -1.5 -2.7 -3.6 -1.5 -6 0 -14 0.8 -8 1.5 -4 1.9 -2.6 4 -3z"/>
<path fill="#a8ff57" d="M140 90l293.6 0 0 14 1.3 10 14.7 60 1.8 10 0.4 6 -0.6 6 -1.6 4 -1.5 2 -2.6 2 -4.2 2 -17.3 5.9 -18 9.2 -6 1.8 -6 0.1 -6 -1.6 -12 -6.2 -4 -1 -8 0.4 -6 2.1 -5.2 3.3 -14.8 13 -14 10.4 -27.9 16.6 -14.1 10 -6 5.3 -4 4.5 -3.8 6.2 -1.5 4 -0.8 4 -0.9 16 2.2 20 2.1 10 0 4 -2.1 6 -6.6 8 -2.2 4 -6.4 16.5 -2.9 9.5 -3.8 24 -1.3 15.7 0.1 14.3 -1.9 12 0 4 2 8 7.1 12 2.3 6 0.4 4 -0.4 4 -3.2 10 -0.7 4 0.1 4 1 4 3.2 4.8 2 1.5 6 2.7 2.6 9 3.4 3.9 2 1.1 4 0.9 8 -0.5 2 0.5 1.4 2.1 3.1 10 -0.2 2 -4.3 4.9 -0.8 3.1 0.8 5.4 2 2.4 2 0.7 2 -0.1 6 -2.6 2 -0.3 4 1.3 4 0.6 4.8 -1.4 1.8 -2 1 -4 -1 -8 -3.8 -10 -4.8 -6.3 -6 -3.8 -10 -3.2 -7.7 -8.7 -6.7 -4 -1.6 -1.7 -2.7 -10.3 -3.7 -10 -0.5 -6 2.5 -6 5.1 -8 6.7 -12 2.9 -4 3.7 -3.7 4 -3 4 -2.1 6 -2.2 10 -1.4 20 1.1 14 -1.1 8 0 16 1.8 14 0.8 16 1.9 6 1.4 4 2.9 4 6.8 4 12.8 2.3 12 -0.2 8 -2.9 6 -13.2 14.1 -4.5 5.9 -3.7 6 -2.8 6 -1.8 6 -0.8 6 0.1 4 0.9 4 2.6 5 12 11 2.9 2 4.6 2 8.5 2.8 4 0.6 4 -0.5 8 -2.6 10 -5.7 4 -1.1 6 0.4 8 2.8 2.2 -0.7 2 -2 2.6 -4 7.2 -13.9 4 -6.3 14 -17.2 8 -8.6 5.8 -4 24.2 -10.5 5.9 -3.5 4.9 -4 2.5 -4 0.4 -2 -1.3 -4 -5.1 -6 -0.3 -2 1.5 -2 9.5 -5.3 36 -15.7 6 -3.7 4 -3.5 8 -10.3 15 -25.5 16.6 -24 7.5 -8 4.9 -3.4 4 -2 4 -1.2 6 -0.8 8 0.9 6 2.5 12 7.6 5.2 2.4 20.8 4.8 18 7.1 18 5.6 8.1 4.5 23.9 16 7.5 6 6.5 6.6 12.9 15.4 2.4 4 -0.2 2 -3.1 1 -6 0 -22 -2.8 -36 -2.8 -44 2.8 -8 1.4 -18 9 -6 2.2 -6 1.4 -8 0.3 -12 -2.7 -22 0.1 -8 1 -4 1.7 -2 1.4 -2 2.2 -2.1 3.8 -1.2 4 -0.8 6 0.5 10 3.4 22 0 6 -1.5 8 -3.7 10 -6.8 14 -14.9 22 -5.2 10 -3.2 10 -3.4 20 -7.2 18 -0.7 8 0.8 4.2 2 4.7 4 5.2 10.7 7.9 2 2 1.3 4 -1.4 6 0.6 2 6.8 5.5 3.8 4.5 4.2 7.1 4 3.5 16 8.2 4 1.3 4 0.5 4 -0.3 4 -1 25.8 -9.3 4.2 -2.1 4.5 -3.9 2.4 -4 1.2 -4 0.2 -4 -0.5 -4 -4.3 -14 -1.5 -8 -0.4 -54 2 -12 5.1 -18 4 -18 3.3 -8.6 4 -5.7 4 -2.3 4 0 14 4.4 12.5 6.2 25.5 17.2 12 6.9 12 5.1 6 1.3 4 0.2 6 -1.2 6 -3.2 10 -8.1 5.5 -6.2 0.9 -2 0.3 -4 -3.2 -10 -0.4 -4 2 -6 2.9 -3.4 4 -2.3 6 -0.5 6 1.4 6 3.2 4.4 3.6 3.8 4 2.6 4 0 2 -1.9 2 -9.8 6 -2.4 2 -1.4 2 -0.4 2 0.4 2 3.8 8 1.3 4 0.2 4 -1.5 6 -5.1 8.9 -10 13 -4 3.5 -12.7 8.6 -5.2 6 -20.4 40 -4.1 10 -4.8 14 -3.8 8 -9 12.4 -15.1 15.6 -3.2 4 -1.8 4 -0.5 4 3.6 20 -314.7 0 -1.3 -4 -2.6 -4 -16.4 -18.3 -20 -18.5 -4.8 -3.2 -5.2 -2.6 -4.1 -3.4 -1.5 -2 -1 -4 1.1 -8 -0.6 -2 -1.9 -1.9 -2 -1.1 -6 -1.8 -26 -4.9 -8 -0.5 -26 2.7 -6 1.1 -6.2 2.4 -7.8 6.2 -4 0.9 -4 -0.2 -8 -2.9 -2.7 -2 -3.6 -4 -2.5 -2 -5.2 -2.3 -6 -1.4 -16 -1.4 -14 -3.7 -4 -2.2 -3.3 -3 -7 -10 -3.7 -2.7 -4 -1.8 -6 -1.8 -8 -1.5 -18 -2.2 -8 -0.5zM329.9 576l0.1 2 1.1 2 1.8 2 2.8 2 4.3 0.8 2.2 -0.8 0.1 -2 -1.1 -2 -3.2 -3.1 -4 -1.9 -2 -0.1zM542.1 678l-5.5 2 -2.1 2 0.4 2 5.1 2.8 8 1.6 8 -0.1 6 -1.6 5.2 -2.7 2.7 -2 0.8 -2 -4.3 -2 -8.4 -1.3 -8 0.1zM693.9 714l-2.9 2 -2.2 4 -0.5 4 0.7 4 1.4 2 4 2 5.6 0.9 3.6 -0.9 1.8 -2 1.3 -4 -0.1 -4 -1.3 -4 -3.3 -3.7 -2 -1.1 -2 -0.3zM756 90l57.3 0 -2.4 6 -2 10 -0.8 10 0.4 8 1.7 10 2.4 8 12.6 28 3 10 0.7 6 -0.1 6 -0.8 4 -3.8 12 -0.6 6 0.9 6 4.6 12 1 4 2.8 28 0.2 6 -2.9 20 -2.5 6 -3.8 6 -7.6 10 -6.3 7.1 -33.5 32.9 -4.5 3.5 -4 1.4 -14 0.7 -18 2.1 -4 -0.6 -4 -1.3 -12 -6.3 -10 -7.4 -4.3 -6.1 -1.4 -4 -1 -6 -1.3 -30 -1.1 -10 -3 -12 -8 -20 -1.4 -10 0 -6 3.5 -19.3 8.2 -28.7 4.2 -10 6 -8 23.6 -21.8 2 -0.3 12 7.5 6 1.5 4 -0.9 2 -1.4 4 -5.6 1.9 -1 6.1 0.2 2 -0.8 1.1 -1.4 0.6 -2 -0.2 -4 -2.3 -8 -13.5 -26 -2.2 -6 -0.3 -6 1.7 -8zM910 173.8l8.4 0.2 9.6 2.1 9 3.9 9 6.3 6.9 7.7 4.7 8 3.3 10 1.3 10 -0.6 12 -2.7 12 -4.5 12 -6.3 12 -7.2 10 -8.9 8.8 -8 4.7 -4 1.3 -4 0.5 -4 -0.3 -4 -1.1 -6 -2.6 -5.5 -3.3 -2.5 -2.3 -2.4 -3.7 -1.4 -6 0.2 -4 2.3 -12 0.5 -6 -2.3 -20 -0.2 -8 3.2 -22 1.4 -18 1.4 -4 3.3 -4.4 4 -2.4zM470 203.9l6 0.9 3.1 1.2 2.8 2 1.4 2 0 2 -0.8 2 -2.5 2.6 -4 1.6 -4 0.3 -4 -1.1 -4.4 -3.4 -1.2 -2 -0.5 -2 0.2 -2 1.1 -2 2.8 -1.5zM628 205.8l6 0 6 1.4 3.8 2.8 1.4 2 0.5 2 -0.4 4 -1.3 2.7 -2 2.7 -4.7 4.6 -5.2 8 -3.3 4 -13.5 14 -7.5 6 -7.8 4.1 -16 6.7 -18 9.7 -6 2.3 -4 0.8 -6 0.2 -14 -1.5 -10 -2.5 -7.4 -3.8 -5 -4 -5.3 -6 -3.3 -6 -2.9 -8 -1.2 -2 -6.9 -7.3 -2.6 -4.7 -0.3 -4 0.6 -2 3 -4 5.3 -3.1 8 -2 6 -0.3 6 0.5 8 2 10 3.5 6 0.7 16 -1.8 20 -4.5 8 -1.3 8 -0.6 12 0.7 4 -0.6 2 -1.5 6 -9.5 2 -2.2 2 -1.3zM870 315.6l2 -1.1 4 -0.3 2 0.4 2 1.3 2 2.4 1.3 3.7 -0.5 4 -2.7 4 -2.1 1.4 -2 0.5 -4 -0.3 -2.9 -1.6 -1.8 -2 -1.3 -4 0.4 -4 1.6 -2.6zM844 379.4l2 -1 2 0.2 4 2.5 2.4 2.9 4.8 8 4.8 3.3 2 2.1 1.3 2.6 0 4 -1.3 2.9 -2 1.8 -2 0.6 -4 -1 -8 -6.4 -3.3 -3.9 -2.3 -4 -1.9 -6 0.1 -6zM834 448l2 -0.7 4 -0.1 6 1.5 6 2.7 6 3.7 5.5 4.9 3.8 6 0.1 4 -2 4 2.6 1.2 8 -0.3 4 0.4 4 1.3 4 2.1 3.8 3.3 2.5 4 0.4 4 -0.9 2 -3.8 2.7 -4.3 1.3 -1.9 2 -1.8 3.3 -2 1.2 -4 -0.4 -6 -3.4 -12.1 -10.7 -10.9 -12 -1.2 -2 0 -2 1.1 -2 -1.6 -2 -8.9 -8 -4.1 -6 -0.2 -4zM478 499.3l4 -0.9 4 0.5 2 0.8 3.3 2.3 1.6 2 0.8 2 -0.1 2 -1.6 2.3 -4 1.6 -6 -0.1 -4 -1.4 -2.8 -2.4 -1 -2 -0.2 -2 0.7 -2zM868 539.4l2 -0.6 4 -0.1 4 1.7 2 2.9 0.3 2.7 -0.7 2 -1.6 1.9 -4 1.9 -4 0.1 -4 -1.4 -3 -2.5 -0.8 -2 0.3 -2 1.6 -2zM636 673.7l2 -0.8 2 0.2 3.3 2.9 0.2 4 -1.2 2 -2.3 1.5 -2 0.1 -2 -0.7 -2.2 -2.9 -0.4 -2 0.6 -2zM924 688l4 0.1 4 1.2 6 2.7 6 3.5 6 4.5 4 3.7 6.5 8.3 4.6 10 2.1 10 0.1 10 -2 14 -51.9 0 -2.1 -16 -0.4 -8 0.2 -12 1.2 -12 1.6 -8 2.3 -6 3.3 -4zM154 701.6l4 0 4 1.6 2.6 2.8 1.1 4 -0.9 4 -2.8 3.5 -4 2.1 -4 0.6 -4 -0.7 -3.1 -1.5 -4.4 -4 -0.8 -2 0.5 -2 3.4 -4 4.4 -3z"/>
<path fill="#9eff61" d="M140 90l275.2 0 1.1 12 2.7 12 2.8 8 9.4 22 10.9 34 1 6 0 6 -0.8 4 -1.9 4 -4 4 -3.2 2 -15.2 7.3 -12 7.5 -6 2.4 -4 0.5 -6 -0.5 -4 -1.5 -10 -5.1 -6 -1.3 -8 0.9 -6 2.3 -34 25.1 -27.5 16.4 -12.5 8.6 -6 5 -4.2 4.4 -3.8 5.1 -2.5 4.9 -1.1 4 -1.7 22 2 18 2.7 8 0.6 6 -1.1 4 -1.2 2 -6.3 6 -3 4 -6.9 16 -3.5 10.3 -2.2 9.7 -1.8 12 -1.7 18 -0.1 14 -2.5 14 0.1 6 1.3 6 7.7 18 1.7 6 0.5 6 -0.8 12 1.2 6 2.1 4 1.7 2 6.8 4.6 1.1 1.4 2.3 6 2.6 3.6 4 2.9 6 2.8 2.4 2.7 4.2 10 0.3 10 1.1 2.9 2 2.2 6 2 9.1 4.9 14.9 5 7.9 5 4.5 2 7.6 2.5 8 3.7 2 0.2 4 -0.6 12 -3.4 12 -0.8 6 -1.1 4 -2 8 -7.7 4 -2.2 4 -1.2 4 -0.5 6 0.5 6 1.8 8 3.2 4 0.2 10 -2.8 2 -1.4 3.9 -6.4 2.1 -2 4 -1.7 6 0.3 3.4 1.4 4.6 3.3 2 0.4 2 -0.9 2 -2.1 8 -10.9 4 -3.8 14.8 -10 21.7 -16 6.9 -6 11.8 -12 5.3 -4 11.1 -6 10.4 -3.4 6 -4.3 4 -2 4 -0.6 4 0.7 2 1.1 2 1.5 2.5 3 2.5 6 0.3 8 -2.3 10 2.1 8 -0.1 6 -2.2 6 -6.1 8 -5.5 14 -10.5 18 -3.4 8 -2 10 -1.5 22 -3.6 18 0 8 1.2 6 2.6 6.2 5.7 9.8 1.3 4 -1.5 2 -1.5 0.4 -18 1.9 -8 1.9 -3.7 1.8 -1.8 2 0.4 2 2.8 2 6.3 2.3 10 1.3 4 -0.1 4 -0.9 8 -3.8 6 -2 4 0.1 4 1.6 4 3 3.4 4.5 1.4 4 1.2 7.5 2 2.4 16 11.4 6 3.6 6 2.2 4 0.5 4 -0.1 12 -1.9 5 0.4 17.1 6 8.4 4 3.2 4 1.2 4 -0.1 16 -258 0 -1.5 -4 -2.9 -4 -22.4 -23.7 -16 -14.9 -4 -2.4 -8 -3.5 -3.8 -3.5 -1.6 -4 1 -8 -0.4 -2 -1.5 -2 -3.7 -2.2 -29 -7.8 -5 -0.9 -6 -0.2 -15 3.1 -17 2.5 -6 1.8 -10 4.9 -6 0.3 -6 -2 -7.6 -5.5 -6.4 -3.1 -6 -1.5 -10.7 -1.4 -15.3 -2.9 -6 -1.8 -4 -2.6 -2.4 -2.7 -3.6 -7.3 -2 -2.4 -6 -3.8 -10 -3.2 -34 -8zM776 97.9l6 -1.2 4 0.6 4 2.2 2 1.9 3 4.6 2.7 8 5.8 26 10.3 28 2.3 8 0.8 6 -0.3 6 -4.1 22 -1.3 12 -0.1 38 -0.6 10 -1.8 10 -2.7 8.6 -4 9.4 -5 8 -3.9 4 -21.1 18 -6 6.8 -6.3 9.2 -3.7 3.8 -4.5 2.2 -5.5 0.5 -4 -0.8 -4.5 -1.7 -5.5 -3 -6 -4.1 -7.1 -6.9 -4.7 -8 -2.2 -6.3 -2 -8.5 -3.3 -25.2 -2 -10 -10.1 -34 -0.7 -6 0.3 -6 1.8 -8 3.1 -8 10.6 -22 6.3 -10.9 4.2 -11.1 3.8 -5.5 2 -1.7 4 -1.2 10 -0.3 8 1.7 4 0 4 -1.5 6 -5.5 2 -0.2 6 0.7 2.1 -0.5 2.2 -2 0.9 -4 -0.8 -6 -3.6 -10 -6.8 -14.8 -1.6 -7.2 1 -4 2.6 -3.5 4 -3.4zM466 205.4l2 -0.8 4 -0.3 6 1.5 3.2 2.2 1.1 2 -0.1 2 -1 2 -3.2 2.5 -4 1 -4 -0.5 -4 -2.2 -2.1 -2.8 -0.6 -2 0.3 -2zM628 207.7l4 -0.2 4 0.8 3.5 1.7 2.2 2 1.2 2 -0.1 4 -1.1 2 -3.7 3.4 -6 2.1 -6 -0.2 -4 -1.6 -2.4 -1.7 -1.5 -2 -0.5 -2 0.4 -2 2.1 -4 3.9 -3.3zM504 225.8l6 -1.2 6 0 6 1.3 4.9 2.1 2.9 2 3.2 4 1 4 -0.6 4 -1.4 2.2 -4 2.9 -6 0.9 -10 -0.7 -6 -1.7 -4 -1.9 -4.7 -3.7 -2 -4 -0.1 -2 0.6 -2 2.2 -2.9 2 -1.5zM590 236l6 -0.5 4 0.5 4 1.6 2.6 2.4 1.1 4 -1.1 4 -2.6 3.5 -3.3 2.5 -6.7 2.4 -16 1.8 -14 3.8 -6 0.8 -6 -0.6 -5.8 -2.2 -2.9 -2 -1.9 -2 -1 -2 0 -2 1.2 -2 6.2 -4 5.1 -2 7.1 -1.8 14 -2.1zM874 315.6l4 0.7 2 1.3 1.7 2.4 0.6 2 -0.4 4 -1.1 2 -2.8 2.4 -2 0.7 -4 -0.5 -2 -1.2 -2.5 -3.4 -0.5 -2 0.9 -4 1.4 -2 2.7 -1.8zM848 380l4 2.3 2.9 3.7 3.4 6 2.1 2 3.6 2 2 2.2 0.8 1.8 0.1 4 -0.9 2 -2 2 -2 0.7 -2 -0.2 -2 -1 -8 -6.8 -3.6 -4.7 -2.5 -6 -0.5 -6 0.6 -2 2 -1.9zM658 383.3l4 -0.8 6 0.5 22 8.6 20 4.7 16 4.8 14 3.4 6 2.4 5.2 3.1 4.8 4 13.3 14 3.2 2 7.5 3 3.8 3 1.7 2 1.8 4 -0.4 4 -1.3 2 -3.6 2.6 -4 1.3 -4 0.4 -18 -1 -14 -2.9 -44 3.7 -4 1.3 -12 7.2 -10 4.4 -8 1.5 -6 -0.7 -3 -1.8 -1.4 -2 -0.5 -2 0.6 -4 1.9 -6 -0.3 -2 -1.3 -1.3 -8 -4.7 -3.7 -4 -2.8 -6 -1.2 -8 0.4 -6 1.6 -8 2.5 -8 2.6 -6 2.3 -4 3.2 -4 3.1 -2.6zM836 449.9l4 -1.3 4 0.5 6 2 4 2.1 8.5 6.8 2.7 4 0.6 2 -0.1 2 -1.7 1.9 -4 0.8 -6 -1.4 -8 -4.1 -6 -4.9 -3.6 -4.3 -1.4 -4zM334 467.8l12 -1.2 10 -0.1 16 1.5 10 2.1 6 2.5 6 4.7 3.3 4.7 2.2 6 0 6 -1.2 4 -1.9 4 -3.8 6 -22.6 31.3 -4 4.7 -4.4 4 -5.6 3.2 -4 1.1 -4 0.3 -4 -0.4 -4 -1.2 -4 -2.4 -4 -3.9 -8.9 -12.7 -7.1 -8 -7.3 -6 -12.7 -8 -5.3 -4 -3.9 -4 -1.8 -4 0.7 -4 3.8 -6 6.1 -6 6.4 -4.5 6 -3.1 8 -2.9zM876 476l4 0.1 4 1 6 3.7 2.8 3.2 1 2 0.2 4 -1.3 2 -2.7 1.6 -8 1 -6 2.8 -2 -0.1 -4 -1.7 -4.9 -3.6 -5.7 -6 -2.2 -4 0.8 -2.2 2 -0.5 8 0.2 4 -2.3zM480 499.4l2 -0.3 4 0.4 4 2.2 1.8 2.3 0.5 2 -0.7 2 -1.6 1.5 -4 1.4 -4 -0.2 -4 -1.6 -2.7 -3.1 -0.2 -2 0.9 -2zM812 531.5l6 -0.1 6 2.8 2.2 1.8 2.6 4 0.2 2 -0.7 2 -2.3 2.3 -6 2.7 -6 0.4 -4 -1.7 -3.5 -3.7 -0.9 -2 -0.1 -4 2.2 -4zM868 541.8l4 -1.3 4 0.9 2.2 2.6 0.3 2 -0.9 2 -3.6 2.3 -4 -0.1 -2 -1 -1.5 -1.2 -0.8 -2 0.4 -2zM704 575.7l4 0.3 8 3.2 10 5.2 8 5.2 10.5 8.4 6.3 6 4.6 6 1.7 4 1 6 -0.8 8 -2.7 10 -3.7 8 -4.9 6.8 -6 5.7 -6 4.1 -6 2.6 -4 -0.2 -2 -1.6 -2 -3.4 -7.4 -26 -2.8 -6 -8.1 -14 -3.2 -8 -1.5 -10 0.9 -10 2.1 -6.4 2 -2.8zM636 674.7l2 -0.6 2 0.3 2 1.7 0.9 1.9 -0.2 2 -2.7 2.8 -2 0.3 -2 -0.8 -1.7 -2.3 -0.2 -2 0.7 -2zM688 694l6 1 3.8 3 1.4 2 0.5 2 -0.3 4 -1.2 2 -4.2 3.2 -6 2.3 -4 -0.1 -4 -1.8 -3.4 -3.6 -0.9 -4 0.3 -2 0.7 -2 3.3 -3.6 4 -2zM686 733.3l4 -0.9 4 0.4 5 1.2 3.5 2 1.1 2 0.3 4 -1.5 4 -2.4 2.7 -4 2 -4 0.3 -4 -1.4 -2.1 -1.6 -3.3 -4 -0.5 -4 1.2 -4z"/>
<path fill="#94ff6b" d="M140 90l256.4 0 1.6 10 4.7 14 5.1 10 14.2 23.5 8.8 20.5 2.6 8 1.4 6 0.4 6 -0.7 4 -1.8 4 -3.5 4 -13.2 8.5 -10 8.2 -6 3.1 -4 0.9 -6 -0.4 -4 -1.2 -12 -5.9 -4 -0.7 -6 0.3 -8 2.4 -10 7.2 -9.5 5.6 -18.5 13.3 -24 14.1 -10.1 6.6 -9.9 8 -4 4.3 -4.2 5.7 -2.1 4 -1 4 0 12 -2 10 -0.3 4 1.6 14 1.2 4 3.7 8 0.2 4 -0.4 2 -2.2 4 -2.5 2.3 -5.4 3.7 -3 4 -6.3 14 -3.8 10 -2.5 10 -1.7 10 -2.2 20 -0.3 16 -2.8 14 0.1 6 1.1 6 8.2 20 2.4 8 0.8 14 0.7 4 1.4 4 2.5 4 8.8 7.9 4.7 8.1 7.4 6 1.8 2 3.1 6 4.1 6 1.9 10 1 2.4 2 2.3 14 9 12 4.2 10 5 12 2.9 4 2 6 4.1 2 0.5 4 -0.3 12 -3 14 -1.4 6.9 -1.7 3.5 -2 4.1 -6 3.5 -3.5 4 -2.3 4 -1.1 6 -0.2 4 0.9 4 1.5 6 3.6 4 1.6 4 0 10 -1.8 2 -0.7 1.2 -2 0.5 -6 1.8 -4 2.2 -2 2.3 -1 4 -0.2 4 1.4 2.6 1.8 2.8 4 0.6 1.9 2 1.8 2 -0.8 2 -1.6 10 -9.8 6 -3.3 14 -4.5 19.4 -3.7 7.5 -2 9.1 -4.1 16 -10.1 4 -1.2 2 0.4 2 1.4 3.2 5.6 1.2 4 0.5 6 -0.5 4 -1.4 4 -8.1 14 -1.6 8 0 10 3.6 10 0.3 4 -2.7 10 -1.8 20 -0.1 8 1 8 3.4 16 -0.9 2 -4.8 2 -11.3 2.5 -6 2.2 -2.1 1.3 -1.6 2 0.4 2 2.8 2 6.5 2.7 12 2.5 6 -0.5 12 -5.6 4 -0.8 6 0.7 4.9 3 3 4 0.8 2 0.2 4 -0.9 2.4 -2 3 -8.4 6.6 0.2 2 4.2 4.3 12 7.9 4.9 5.8 2.6 6 1.4 6 0.5 6 -0.1 8 -179.4 0 -0.7 -2 -2.9 -4 -24.3 -25 -16 -15.4 -5 -3.6 -9 -2.9 -4.3 -3.1 -1.9 -4 0.7 -10 -1.1 -2 -3.4 -2.6 -28 -9.3 -6 -1.4 -6 -0.5 -6 0.5 -12 3.5 -18 3.4 -14 4.6 -4 0.5 -3.9 -0.7 -4.1 -1.7 -8 -4.7 -8 -2.9 -21.2 -4.7 -10.8 -0.8 -4 -1.4 -2.8 -1.8 -1.8 -2 -3.6 -10 -1.8 -2.3 -4 -2.8 -6 -2.4 -26 -7.8 -12 -6.5 -4 -1.4zM776 119.4l2 -0.3 2 0.4 2 1.4 2 2.4 2 4.4 13.1 38.3 1.6 10 -0.7 10 -9.2 34 -3.8 38 -1.7 8 -2.1 6 -2.9 6 -3.7 6 -22.6 31.6 -4 4.5 -4 3.4 -4 1.7 -2 0 -4 -1.3 -6 -5.5 -6 -9.2 -2.8 -7.2 -1.1 -6 -1.5 -16 -7 -42 -0.3 -8 0.6 -6 2.3 -10 4.7 -16 0.6 -4 0.1 -12 0.9 -6 1.3 -4 2.3 -4 1.9 -1.7 2 -0.9 2 0.1 3.7 2.5 4.3 5.5 2 0.9 2 -0.8 6 -4.4 8 -3.1 6.5 -4.1 3.5 -0.5 8 1 2.3 -0.5 2.8 -2 1.7 -4 0.3 -4 -0.5 -4 -1.5 -6 -5.1 -12.9 -1 -5.1 1 -3.2zM468 205.1l4 -0.5 5.6 1.4 2.9 2 1 2 -0.1 2 -1.4 2 -4 2.4 -4 0.3 -4 -1.4 -3.1 -3.3 -0.5 -2 0.2 -2 1.7 -2zM626 209.1l6 -0.5 6 2 3.1 3.4 0.4 2 -0.4 2 -1.3 2 -3.8 2.8 -4 1 -6 -0.3 -4 -1.9 -1.7 -1.6 -1.1 -2 0 -2 0.8 -2 2 -2.7zM504 227.7l4 -1.3 4 -0.4 6 0.6 4 1.3 3.4 2.1 1.9 2 1.1 4 -0.6 2 -1.4 2 -2.4 1.8 -4 1.7 -6 0.7 -8 -1.3 -5 -2.9 -1.8 -2 -0.9 -2 -0.2 -2 0.6 -2 1.6 -2zM872 317.3l4 -0.6 2 0.7 2.6 2.6 0.8 2 -0.3 4 -1.2 2 -1.9 1.5 -2 0.7 -4 -0.5 -2.3 -1.7 -1.2 -2 -0.3 -4 0.8 -2zM846 381.8l2 -0.5 2 0.7 2 1.5 2.1 2.5 3.9 6.7 2 1.8 4 2.1 1.3 1.4 1.1 2 0.1 4 -2.5 3.4 -2 0.7 -2 -0.3 -2 -1 -10 -9.7 -2.7 -5.1 -0.9 -4 0.2 -4zM666 401.7l2 -0.6 4 0 26 1.9 6 1.1 16 4.5 18 3.4 4.2 2 4.5 4 3 4 3 6 1.6 2 7.4 2 12.3 1.7 4 1.1 2 1.3 3.5 3.9 0.6 4 -0.6 2 -1.5 2 -3 2 -3 1 -4 0.3 -14 -0.7 -4 -0.7 -5.2 -1.9 -6.8 -4 -2 -0.5 -18 1.9 -14 3.8 -10 0.9 -4 1 -12 8.5 -8 3.8 -8 1.8 -6 -0.9 -2.8 -2.3 -0.6 -2 0.8 -4 4.6 -6.3 8.8 -7.7 1.6 -2 0.2 -2 -0.6 -1 -5.8 -7 -2.4 -4 -2.3 -8 -0.2 -6 0.7 -4.6 1.5 -3.4zM840 449.9l4 0.1 4 1 8 4.2 3.6 2.8 3.5 4 1.4 4 -0.5 1.3 -2 1.5 -4 0.1 -6 -1.8 -6 -3.4 -6.5 -5.7 -2.3 -4 0 -2 0.8 -1.1zM874 477.7l2 -0.8 4 -0.2 4 1 4 2.1 4.2 4.2 1.5 4 -0.4 2 -1.3 1.6 -2 1.2 -4 0.5 -10 -1.9 -4 0 -3.8 -1.4 -1.8 -2 -0.2 -2 3.8 -2.2 1.6 -3.8zM342 485.8l6 -0.2 6 0.6 8.9 1.8 7.1 2.4 4 2.4 2.4 3.2 0.5 2 -0.9 4 -2.9 4 -4.2 4 -6.9 5.4 -6 3.6 -4 1.5 -4 0.5 -4 -0.4 -4 -1.5 -6 -4 -5.1 -5.1 -3.7 -6 -0.9 -4 0.8 -4 1.1 -2 3.8 -3.7 6 -3.1zM576 493.3l4 -0.2 4 1.8 2.7 3.1 2.1 6 -0.2 4 -1.2 4 -1.4 2.2 -5.4 5.8 3.4 2.2 3.2 3.8 1.2 4 -0.2 4 -1.6 4 -1.9 2 -2.7 1.6 -2 0.3 -2 -0.2 -3.3 -1.7 -1.8 -2 -1.6 -4 -0.1 -4 1.5 -4 4.4 -6 -5.1 -2.9 -2 -2 -1.7 -3.1 -0.9 -4 0.2 -4 1.2 -4 3.2 -4.3zM482 499.7l4 0.5 3.3 1.8 1.6 2 0.2 2 -1.2 2 -1.9 1.2 -4 0.7 -4 -0.8 -2 -1.2 -1.6 -1.9 -0.3 -2 1 -2 2.9 -1.8zM816 535.7l2.9 0.3 2.9 2 0.7 2 -1.1 2 -3.4 1.2 -2 -0.1 -2.3 -1.1 -1.2 -2 0.2 -2 1.3 -1.5zM870 543.1l2 -0.7 2 0.2 2 1.4 0.4 2 -0.4 0.8 -2 1.7 -2 0.3 -2.4 -0.8 -1.3 -2 0.6 -2zM636 675.5l2 -0.8 2 0.5 1 0.8 1 2 -0.1 2 -1.9 2.1 -2 0.4 -2 -0.9 -1.2 -1.6 -0.2 -2zM688 696l4 0.7 2.1 1.3 1.9 2 1 2 0.2 2 -0.6 2 -2.6 3.1 -4 1.9 -4 0.3 -4 -1.5 -2.2 -1.8 -1.3 -2 -0.2 -4 0.9 -2 2.8 -2.6 2 -0.9zM692 733.7l6 1 2.1 1.3 1.5 2 0.3 4 -0.6 2 -3.3 3.4 -4 1 -2 -0.4 -2 -0.8 -2.9 -3.2 -0.7 -2 0.3 -4 1.2 -2 2.1 -1.7z"/>
<path fill="#8aff75" d="M140 90l236.1 0 1 6 2.5 8 3.8 10 3.1 6 4.3 6 19.2 20.5 6 8.5 4 7.3 4.1 9.7 2.4 8 0.7 6 -1.1 6 -3.9 6 -8.2 7.3 -7.3 8.7 -4.7 3.7 -4 1.6 -4 0.6 -6 -0.8 -12 -5.9 -6 -1.7 -4 0 -6 1 -6 2.3 -8 6.3 -10.6 4.9 -20.1 14 -31.3 18.7 -10 7.8 -8.6 9.5 -2.6 4 -1.7 4 -0.2 4 0.9 8 -0.2 4 -3.3 12 -0.2 4 1.4 12 1.8 4 4 6 1.1 4 -0.1 2 -1.4 4 -1.6 2 -3.3 2.5 -6.6 3.5 -1.6 2 -8.6 18 -3.5 10 -2.7 12 -2.5 18 -1 10 -0.3 14 -2.9 12 -0.1 8 0.9 6 2.1 6 8.8 20.2 1.5 5.8 1.5 12 1.9 6 3.9 6 7.2 6.7 4.8 7.3 7.4 8 4.8 8 5 4.6 3.1 11.4 2.1 4 6.8 4.6 8 6.5 20 8.1 10 0.9 4 1.1 4.4 2.8 5.6 5.3 4 0.5 14 -3.1 16 -1.9 8 -2.3 3.5 -2.5 2.4 -6 2.8 -4 3.3 -2.2 4 -1.3 6 -0.2 4 0.8 4 1.8 6 5.2 2 1.4 2 0.6 14 -0.3 18 2.1 4 -0.7 4 -1.8 14 -10.9 4 -2.5 6 -2.4 8 -2 10 -0.8 10 0.9 12 2.6 6 3.2 2.5 2.5 2.6 4 4.6 12 1.2 2 5.1 3.8 1.8 2.2 1.1 2 0.5 4 -1.4 4 -3.9 6 -0.2 2 -1.1 24 0.5 22 -0.3 4 -1.4 2 -15.6 6.2 -2.8 1.8 -1.5 2 0.4 2 2.9 2 19 8 2.1 2 0.7 2 -1.6 12 -3.1 8 -2.5 4 -3.5 4 -6.1 4.6 -6 2.8 -16 6.2 -18.2 8.4 -7.4 4 -2.6 2 -1.5 2 -52 0 -1.2 -2 -2.2 -2 -8.9 -6.5 -6 -5.3 -18 -18.4 -16 -15.4 -4 -2.3 -8 -1.6 -4.7 -2.5 -1.7 -2 -0.8 -2 -0.1 -2 1 -6 -0.6 -4 -1.7 -2 -3.4 -2.1 -24 -9.3 -12 -3 -6 -0.2 -4 0.6 -16 4.8 -30 6.8 -6 -0.9 -18 -7.7 -20 -5.6 -12 0.8 -4 -0.8 -4 -2.4 -2.1 -3 -0.8 -4 0 -6 -0.6 -2 -2.5 -3.4 -2 -1.6 -4 -1.8 -12.4 -3.2 -10.9 -4 -6.9 -4 -3.2 -4 -1.5 -4 -0.7 -6 0.7 -6 2.7 -12 0 -4 -0.9 -4 -2.6 -6 -4.3 -6.5 -4 -3.9 -4 -1.9zM728 167.8l2 0.3 2 1.5 2.6 4.4 1.2 4 1.3 12 0.9 2.8 2 0.1 10 -3.1 10 -1.7 4 0.6 2 1.3 1.1 2 0.9 6 -0.8 8 -2.4 10 -4.3 12 -0.1 2 4.5 6 2.2 4 1 6 -0.3 4 -0.4 2 -2.2 4 -3.2 3.1 -2 0.9 -2 0.6 -4 -0.3 -4 -2.1 -2.1 -2.2 -1.5 -2 -1.6 -4 -0.8 -4.9 -2.1 -5.1 -7.9 -6.8 -2 -2.4 -3.5 -6.8 -1.2 -6 -0.1 -4 1.7 -12 -4.9 -7.3 -1.1 -2.7 -1.4 -6 -0.3 -4 0.4 -4 1.8 -6 2.6 -3.3zM468 205.6l4 -0.7 4.9 1.1 3 2 1 2 -0.3 2 -1.5 2 -3.1 1.7 -4 0.2 -2 -0.4 -2.6 -1.5 -1.6 -2 -0.7 -2 0.4 -2zM628 209.6l6 0.3 4.1 2.1 1.6 2 0.5 2 -0.4 2 -1.4 2 -4.4 2.5 -4 0.5 -4 -0.6 -4.1 -2.4 -1.3 -2 -0.3 -2 0.7 -2 3 -3zM508 227.9l4 -0.5 4 0.3 6 2.3 2.2 2 0.9 2 0 2 -1.1 2 -4 2.9 -6 1.3 -6 -0.6 -3.6 -1.6 -2.5 -2 -1.1 -2 -0.3 -2 0.8 -2 1.9 -2zM874 317.7l2 0 2 0.8 1.6 1.5 1 2 0.2 2 -0.8 2.5 -2 2.2 -2 0.8 -2 0 -3.1 -1.5 -1.5 -2 -0.5 -2 0.2 -2 1.1 -2 1.8 -1.6zM846 383.8l2 -1.2 2 0.5 2 1.5 2 2.4 4 6.9 6.8 4.1 1.2 2 0.3 2 -0.3 2.1 -2 2.7 -2 0.7 -2 -0.3 -2 -1.2 -8.3 -8 -2.7 -4 -1.5 -4 -0.2 -4zM700 421.5l4 -0.3 6 0.9 11.2 3.9 2.7 2 0.4 2 -4.3 4.8 -2.4 5.2 -3 4 -2.9 2 -3.7 1.6 -4 0.8 -10 0.5 -2 1.2 -9 7.9 -9 4.6 -8 1.5 -4 -0.7 -2.2 -1.4 -1 -2 0 -2 1.9 -4 1.7 -2 3.6 -3.3 6 -3.9 12.2 -4.8 3.6 -4 6.2 -10.8 2 -2zM756 433.7l4 -0.1 14 1.3 4 1.4 2.4 1.7 1.5 2 0.8 2 0 2 -0.8 2 -1.7 2 -2.2 1.4 -4 1 -16 -0.6 -6 -1.5 -3.6 -2.3 -1.8 -2 -0.6 -4 0.8 -2 2.2 -2 3 -1.5zM840 451.4l2 -0.6 4 0.3 8 3.5 6.7 5.4 2.4 4 -0.1 2 -1 1.1 -2 0.7 -4 -0.4 -6 -2.3 -4 -2.4 -3.3 -2.7 -3.3 -4 -0.7 -2 0.5 -2zM876 477.8l2 -0.5 4 0.3 6 2.7 3.7 3.7 1.1 2 0.3 2 -0.5 2 -2.6 2 -4 0.4 -6 -1.5 -4 -2.4 -2.2 -2.5 -0.9 -2 -0.2 -2 0.7 -2zM576 495.2l4 -0.3 2 0.7 2.8 2.4 2.1 4 0.4 4 -0.9 4 -2.4 3.6 -2 1.6 -2 0.7 -4 -0.2 -2 -0.9 -2.6 -2.8 -1.5 -4 -0.2 -4 1.2 -4 3.1 -3.6zM480 500.9l4 -0.6 4 1.4 2 2.3 0 2 -1.7 2 -2.3 0.9 -4 0 -2 -0.7 -2.5 -2.2 -0.4 -2 1.1 -2zM580 523.6l2 0.2 3.1 2.2 1.2 2 0.7 4 -1.1 4 -1.6 2 -2.3 1.4 -2 0.2 -2 -0.6 -2 -1.7 -1.6 -3.3 -0.3 -2 0.7 -4 1.2 -1.9 2 -1.8zM450 567.8l2 -0.5 4 0.6 3.3 2.1 1.6 2 0.7 2 -0.2 4 -1.4 2.5 -2 2 -2 1.1 -4 0.3 -2 -0.4 -2 -1.6 -2.5 -3.9 -0.5 -4 0.5 -2 1.2 -2zM638 675.4l2 0.6 1.4 2 -0.1 2 -1.3 1.4 -2 0.6 -2.7 -2 -0.2 -2 0.9 -1.6zM572 685.5l4 -0.3 4 0.9 4 2.3 2.8 3.6 0.7 2 -0.3 4 -1.2 2 -4 3.4 -6 1.8 -6 -0.2 -6 -1.9 -4.6 -3.1 -1.5 -2 -0.8 -2 2.8 -4 5.9 -4zM684 697.8l2 -0.7 4 0.2 4.3 2.7 1.1 2 0.2 2 -0.6 2 -1.7 2 -3.3 1.7 -2 0.3 -4 -0.6 -2.3 -1.4 -1.6 -2 -0.6 -2 0.3 -2 1.1 -2zM690 735.7l2 -1 4 0.1 2.6 1.2 1.4 1.6 1 2.4 -0.2 2 -0.9 2 -1.9 1.9 -2 1 -2 0.3 -2 -0.5 -3.3 -2.7 -0.9 -4 0.5 -2z"/>
<path fill="#80ff80" d="M140 90l213.4 0 1.5 6 8.5 20 4 8 4.2 6 6.4 6 16 10.1 6 4.4 6 5.6 6 7.9 3.2 6 2.3 6 1.3 6 0 6 -2 6 -6.8 10 -3.8 8 -3.7 4 -4.5 2.3 -6 0.8 -6 -1.3 -14 -7.2 -8 -0.2 -8 1.8 -2 0.9 -8 6.9 -4 1.9 -10 3.1 -19.2 13 -30.8 18.4 -6 4.4 -6 5.3 -5.3 5.9 -4.2 6 -1.7 4 -0.3 2 2.2 10 0.1 6 -1 4 -4.4 10 -0.2 4 1.4 10 0.8 2 4.6 4.7 2.4 3.3 0.9 2 0.3 4 -1.6 4 -2 2.2 -4 2.1 -5.9 1.7 -2.6 2 -8.5 16 -4 10 -3.8 14 -2 12 -2.3 16 -0.7 16 -3.6 12 -0.4 8 0.8 6 1.6 4 5.4 9.4 6.1 12.6 2 6 2.3 12 3.3 8 4.1 6 6.2 6.2 9.1 11.8 6 10 6.9 4.1 1.6 1.9 3.6 14 0.8 1.6 8 4.8 6 6.5 4 2.6 16 6 10 -0.5 6 1.4 4.5 3.6 3.5 5.8 2 1.5 4 0 14 -3.3 16 -1.9 10 -2.6 2.9 -1.5 1.8 -2 0.6 -6 1.5 -4 3.2 -2.8 6 -1.9 6 0.3 5.4 2.4 3.7 4 2.9 4.9 2 0.9 10 0.3 6 1.2 6.4 2.7 11.6 6.6 4 1.4 4 -0.5 2 -1.4 12.2 -12.1 5.8 -4.8 6 -3.6 6 -2.2 8 -1.4 10 0.5 8 2.1 6 3.2 4.4 4.2 6.5 10 9.1 2.4 2.1 1.6 1.4 2 0.5 2 -0.5 4 -1.2 2 -4.8 4 -0.9 2 -0.3 14 -2.7 28 -1.8 10 -1.5 2 -3.2 2 -9.1 4.4 -2.2 1.6 -1.5 2 0.2 2 1.5 1 11.8 5 3.1 2 1.5 2 0.2 2 -0.7 2 -1.9 2.7 -2 1.7 -4 2.2 -4 1.2 -12 0.9 -10 -1.2 -6 -2.1 -4 -2.2 -6.2 -5.2 -6 -8 -5.4 -10 -8.4 -19.6 -4 -6.8 -2 -2.2 -2 -1.2 -2 -0.2 -2 0.8 -4 3.8 -4 7.2 -10.3 26.2 -1.2 4 -0.6 4 0.8 4 3.3 4.9 13.3 9.1 3.9 4 2.8 6 0.4 4 -0.6 4 -1.7 4 -2.8 4 -3.3 3 -4 2.7 -8 3 -4 0.6 -6 -0.1 -8 -2.2 -8 -4.7 -36.8 -36.3 -3.2 -1.6 -10 -1.1 -4 -2.1 -2 -2.9 -0.4 -2.3 1.5 -8 -0.2 -2 -1.1 -2 -1.8 -1.7 -6 -3.2 -22 -9.5 -10 -2.9 -8 -0.4 -4 0.7 -24.9 7 -15.1 3.3 -6 0.5 -7.6 -1.8 -16.4 -7.3 -16 -5.9 -4 -0.1 -6.9 3.3 -5.1 1 -4.6 -1 -3.4 -2.9 -1.2 -3.1 0.1 -2 1.1 -3.4 7.3 -8.6 5.8 -12 2.3 -10 1.5 -12 0.1 -8 -0.8 -6 -5.7 -18 -1.8 -8 -1.6 -20 -0.9 -2 -2.2 -2.5 -12 -7.2 -8 -6 -6.7 -6.3 -6.9 -8 -5.4 -8 -3.1 -6 -2.9 -8 -3 -12.7 -2 -3.6 -2.1 -1.7 -3.9 -1.6 -8 -1.2zM728 169.8l2 0.5 2.9 3.7 1.6 8 -1.5 8 -1 1.8 -2 1.9 -2 0.1 -2 -1.1 -2 -3.2 -1.1 -3.5 -0.4 -4 0.2 -4 1.1 -4 2.2 -3.3zM736 203.2l4 -0.7 2.9 1.5 2 2 2.5 6 0.1 6 -1 4 -2.5 4.2 -4 2.6 -2 0.1 -4 -2.2 -1.9 -2.7 -1.6 -4 -0.3 -6 0.7 -4 2 -4zM470 205.4l4 0 4 1.6 1.3 1 1 2 -0.4 2 -1.9 2.1 -4 1.4 -4 -0.6 -1.5 -0.9 -2 -2 -0.6 -2 0.4 -2 1.7 -1.8zM624 211.9l4 -1.6 6 0.3 2.8 1.4 1.9 2 0.5 2 -0.5 2 -1.7 2 -3 1.6 -4 0.6 -4 -0.7 -2.7 -1.5 -1.6 -2 -0.4 -2 0.7 -2zM508 229.4l6 -0.6 4.6 1.2 2.8 2 1 2 -0.2 2 -2.2 2.6 -4 1.7 -6 0.1 -4 -1.4 -2.9 -3 -0.3 -2 1.2 -2.3zM756 237.1l4 0.2 2 1.2 2.7 3.5 1 4 -0.4 4 -2.1 4 -3.2 2.3 -2 0.5 -4 -1.3 -1.6 -1.5 -1.4 -2 -1 -4 0.9 -6 3.1 -3.8zM872 319.4l2 -0.9 2 0.1 2.5 1.4 1.3 2 0.2 2 -0.5 2 -1.5 1.8 -2 1 -2 0 -2 -0.8 -1.7 -2 -0.6 -2 0.3 -2zM848 384l2 0.2 2 1.5 6 9.3 6.2 3 1.3 2 0.4 2 -0.4 2 -1.5 2.2 -2 0.8 -3 -1 -9.9 -10 -2.2 -4 -0.8 -4 0.3 -2zM696 433.8l2 -0.9 4 -0.5 6 1.1 3.7 2.5 1.4 2 0.4 2 -0.4 2 -3.1 3.2 -4 1.8 -4 0.5 -10 -0.4 -5.4 6.9 -2.2 2 -8.4 5.1 -8 2 -4 -0.4 -2 -1 -1.3 -1.7 -0.2 -2 0.7 -2 1.2 -2 3.6 -3.6 4 -2.8 6 -2.8 12 -2.3 4 -5.9zM754 435.4l6 -0.8 12 1 4 0.7 3 1.7 1.8 2 0.8 2 0 2 -1.6 2.9 -4 2.4 -4 0.5 -16 -0.8 -4 -1.6 -1.9 -1.4 -1.7 -2 -0.4 -2 0.3 -2 1.3 -2zM842 451.8l2 -0.2 4 0.8 4 1.6 4 2.5 3.9 3.5 1.4 2 0.7 2 -0.8 2 -1.2 0.6 -4 0 -4 -1.3 -5.7 -3.3 -2.4 -2 -3.3 -4 -0.5 -2zM878 478l2 -0.2 4 0.8 5.5 3.4 2.8 4 0.3 2 -0.8 2 -1.8 1.3 -4 0.5 -4 -1 -4.8 -2.8 -1.8 -2 -1 -2 -0.3 -2 0.6 -2zM576 496.7l4 -0.4 2 0.8 2 1.8 1.7 3.1 0.4 4 -1 4 -3.1 3.4 -2 0.9 -2 0.1 -4 -1.8 -2.8 -4.6 -0.2 -4 0.5 -2 2.5 -3.9zM480 501.6l2 -0.6 4 0.4 3 2.6 0 2 -3 2.1 -4 0.1 -2 -0.9 -1.5 -1.3 -0.5 -2zM580 525.3l2 0.1 2 1.4 1.7 3.2 -0.2 4 -1.5 2.5 -2 1.3 -2 0.2 -2 -0.9 -2 -3 -0.4 -2.1 1 -4 1.4 -1.7zM452 568l4 0.6 2 1.2 1.7 2.2 0.7 2 -0.8 4 -3.6 3.2 -2 0.5 -4 -0.7 -2 -1.6 -1.7 -3.4 0.3 -4 1.2 -2 2.2 -1.5zM636 677.3l2 -1.3 2 0.8 0.8 1.2 -0.1 2 -2.7 1.4 -2.2 -1.4 -0.2 -2zM568 687.8l4 -1.4 4 -0.3 4 0.8 2 1.1 2.4 2 1.4 2 0.7 4 -0.7 2 -1.8 2.3 -2 1.4 -4 1.6 -6 0.1 -6 -2 -3.6 -3.4 -0.9 -2 0 -2 0.9 -2 2 -2zM684 698.8l4 -0.8 4 1.3 2.2 2.7 0.2 2 -0.7 2 -1.7 1.7 -2 1 -4 0.3 -2.5 -1 -2.2 -2 -0.7 -2 0.3 -2 1.4 -2zM692 735.6l4 -0.1 3.3 2.5 0.6 2 -0.1 2 -1.8 2.8 -2 1.1 -2 0.2 -2 -0.5 -2 -1.6 -1.1 -2 -0.2 -2 0.7 -2z"/>
<path fill="#75ff8a" d="M140 90l161.3 0 1 2 4.4 4 15.3 9.7 6 4.7 4 4.6 11.3 17 3.7 4 4.8 4 6.4 4 5.8 2.8 26 9.9 6 3.1 4 2.9 3.4 3.3 3 4 2.1 4 1.9 6 0.4 8 -3.8 12 -1.6 10 -2.4 4 -3 2.4 -6 2 -6 -0.6 -4.5 -1.8 -9.5 -5.9 -4 -1.5 -6 -0.1 -8 1.6 -2 0.9 -6.8 7 -3.2 2.1 -4 1.1 -8 0.3 -4 1.4 -20.4 13.1 -25.6 14.7 -10 7.4 -9.7 9.9 -5.7 8 -1.6 4 0.4 4 2.6 4.9 1.8 5.1 0.3 4 -0.6 4 -1.8 4 -6.1 8 -0.7 4 0.8 8 1.2 4 2.6 2 4.5 2.4 3.5 3.6 1.5 4 -0.6 4 -2.4 3.3 -2 1.4 -4 1.1 -8 0.1 -3 2.1 -13.8 24 -9.2 24.5 -4 8.1 -6 6.3 -4 2.7 -4 1.4 -6 0 -6 -2.4 -4 -2.9 -10 -9.6 -4 -2.2 -28 -6.7 -6 -0.9zM728 171.5l2 0.7 2 2.9 0.9 2.9 0.3 4 -1.4 6 -1.8 2.4 -2 0.6 -2 -1.3 -1.1 -1.7 -1.4 -6 0.7 -6 1.8 -3.3zM470 205.8l4 -0.2 4 1.8 1.7 2.6 -0.4 2 -2.1 2 -3.2 1 -2 0 -2.6 -1 -2.2 -2 -0.7 -2 0.4 -2zM736 205.7l2 -0.8 2 0.2 2 1.1 2 2.3 1.5 3.5 0.3 6 -1.2 4 -2.6 3.4 -2 1.1 -2 0.2 -2 -0.8 -2 -1.8 -1.3 -2.1 -1.2 -4 0 -4 1.1 -4 1.4 -2.4zM626 211.5l4 -0.8 2 0.1 3.4 1.2 2.3 2 0.6 2 -0.6 2 -2 2 -3.7 1.4 -4 0 -2 -0.6 -3.4 -2.8 -0.4 -2 0.7 -2zM508 231l4 -0.9 4 0.6 2.5 1.3 1.3 2 -0.4 2 -2.3 2 -3.1 0.9 -4 -0.1 -2 -0.6 -2.5 -2.2 -0.4 -2 1.2 -2zM756 239.2l2 -0.4 2 0.5 2 1.5 1.8 3.2 0.5 2 -0.5 4 -0.9 2 -2.9 2.5 -2 0.5 -2 -0.3 -2 -1.4 -1.1 -1.3 -1.4 -4 -0.1 -2 1.4 -4zM874 319.4l2 0 1.2 0.6 1.7 2 0.4 2 -0.7 2 -2.6 2 -2 0.1 -2 -1.1 -1.5 -3 0.4 -2 1.1 -1.6zM848 385.7l2 -0.2 2 1.4 2 2.7 2.1 4.4 1.7 2 4.2 1.2 2 1.2 1 1.6 0.5 2 -0.4 2 -1.1 1.6 -2 0.9 -2.1 -0.5 -2.3 -2 -2.8 -4 -4.8 -4 -2 -3.4 -0.8 -2.6 -0.1 -2zM696 435.7l4 -1.3 6 0.3 2.6 1.3 2.1 2 0.7 2 -0.3 2 -3.1 3.1 -4 1.3 -4 0.2 -4 -0.9 -3.4 -1.7 -0.7 -2 0.3 -2 1.1 -2zM756 435.9l4 -0.5 12 0.9 4 0.7 3.8 3 0.9 2 0 2 -0.9 2 -1.8 1.6 -4 1.6 -14 -0.3 -4 -0.6 -4.7 -2.3 -1.6 -2 -0.5 -2 0.5 -2 1.7 -2zM678 445.6l6 -0.3 2.4 0.7 1.5 2 -1.1 4 -3.6 4 -7.2 4.3 -6 1.8 -4.3 -0.1 -3.2 -2 -0.4 -2 0.5 -2 3.1 -4 6.3 -4.2zM842 453.4l2 -0.9 2 0.1 4 1.1 4 2 5.1 4.3 1.4 2 0.4 2 -0.9 1.3 -2 0.6 -4 -0.6 -4 -1.7 -4 -2.7 -3 -2.9 -1.3 -2 -0.2 -2zM216 479.8l4 0 2 0.6 2.5 1.6 3.5 3.8 6.4 10.2 1.3 4 1.6 10 1.9 4 3.9 6 4.4 6 10.5 12 4.1 6 4 8 1.8 2 8.1 2.2 2.6 1.8 1.4 2.4 0.9 3.6 0.7 4 -0.2 6 0.6 0.8 1.8 1.2 4.2 1.3 4 2.6 3.2 4.1 2.8 5.2 2 1.6 12 4.7 4 0.9 12 -2.3 4 0.6 2 0.8 3 2.5 1.3 2 1.7 8 2 1.7 2 0.2 17 -3.9 21 -2.7 12 -4 2.2 -1.3 1.2 -2 -2.4 -8 0.4 -2 1.1 -2 2.3 -2 3.2 -1.4 6 -0.4 5.3 1.8 2.5 2 1.4 2 0.6 4 -0.5 4 1 2 3.7 0.9 10 0.3 4 1.8 3.3 3 2.3 4 1.1 4 -0.2 8 -4.8 26 -9.7 30.4 -1.4 7.6 -0.4 6 0.7 8 1.9 6 3.7 6 8.3 10 3.1 6 0.6 4 -0.8 4 -1 2 -2.7 3.1 -5.2 2.9 -4.8 0.8 -6 -1 -4 -2 -6.8 -5.8 -29.3 -30 -3.9 -2.1 -8 0.6 -4 -0.3 -3.8 -2.2 -1.2 -2 -0.4 -2 2.2 -10 -0.8 -2.9 -2 -2.4 -6 -3.6 -22 -10.6 -10 -3.8 -8 -0.9 -4 0.7 -10 3.5 -8 1.9 -18 1.8 -6 0.1 -4 -1.1 -4 -2.6 -14 -13.4 -4 -5.3 -2.9 -5.4 -2.1 -6 -1.6 -8 -4.2 -30 -0.6 -14 0.6 -24 -0.9 -8 -1.9 -8 -2.4 -6 -4 -6.4 -4 -4.2 -10.9 -7.4 -4.6 -4 -4.4 -6 -2.2 -6 -0.4 -4 0.5 -4 2.7 -6 1.7 -2 3.6 -2.7 4 -1.9zM876 479.9l2 -1.2 4 -0.2 6 2.7 2.8 2.8 1 2 0.2 2 -1.1 2 -2.9 1.2 -2 0 -6 -2.1 -3.5 -3.1 -1.1 -2 -0.3 -2zM578 497.4l3.1 0.6 2.4 2 1.1 2 0.6 4 -1.2 3.6 -2 2.3 -2 1.1 -2 0.1 -2 -0.6 -2 -1.7 -1.5 -2.8 -0.4 -2 0.5 -4 1.2 -2 2.2 -2zM482 501.6l4.1 0.4 2 2 -0.2 2 -1.9 1.3 -2 0.3 -2 -0.2 -2 -1 -1 -2.4 1 -1.4zM580 526.8l2 0.1 1.4 1.1 1.2 2 -0.3 4 -2.3 2.5 -2 0.1 -2 -1.4 -1.2 -3.2 0.2 -2 1 -1.9zM450 569.3l4 -0.7 3.2 1.4 1.6 2 0.6 2 -0.2 2 -1.2 2.1 -2 1.6 -2 0.6 -2 -0.1 -2 -0.7 -2 -2.1 -1 -3.4 0.5 -2zM506 585.8l8 -0.2 8 2.2 4 2.2 4 3.3 8 9.3 2 0.4 4 -1.7 4 -0.3 2 0.8 2 1.8 1.1 2.4 0 2 -1.1 2.6 -2 2 -4 1.6 -2.1 1.8 0.4 10 -0.9 8 -5.4 25.5 -3.5 10.5 -1.6 2 -2.6 2 -10.1 6 -3.8 4 -0.4 1.4 -2 1.2 -6 -1.2 -6 -3.4 -6 -5.9 -4 -5.7 -5.3 -10.4 -3.7 -10 -2.5 -10 -1 -8 -0.1 -10 0.5 -8 1.1 -6 2.5 -6 4.1 -6 6.4 -5.6 6 -3.1zM206 651.3l4 0 4.5 2.7 1.1 2 0.1 2 -0.7 2 -1.9 2 -3.1 1.5 -4 0.2 -3.7 -1.7 -1.5 -2 -0.5 -2 0.3 -2 1.1 -2 2.3 -1.9zM638 676.7l2.2 1.3 -0.1 2 -2.1 0.9 -1.4 -0.9 -0.4 -2zM516 686.6l10 0.5 8 2.2 4.2 2.7 1.1 2 -0.2 2 -3.1 3.5 -4 1.7 -6 0.3 -4 -1.1 -3.9 -2.4 -2.8 -4 -0.5 -4zM570 687.7l6 -1 4 1 2 1.1 2.9 3.2 0.6 2 -0.1 2 -0.8 2 -2.6 2.5 -2 1 -4 0.9 -6 -0.7 -3.4 -1.7 -2.1 -2 -1.1 -2 -0.1 -2 0.8 -2 1.8 -2zM684 699.8l4 -1 3.4 1.2 1.7 2 0.3 2 -0.9 2 -2.5 1.8 -2 0.5 -4 -1 -1.5 -1.3 -0.9 -2 0.4 -2zM694 736l2 0.3 2 1.3 1.2 2.4 -0.2 2 -1.4 2 -1.6 1 -2 0.3 -2.8 -1.3 -1.3 -2 -0.3 -2 0.8 -2 1.6 -1.5z"/>
<path fill="#6bff94" d="M348 165.9l14 -1.7 14 0.8 12 2.7 4 1.7 4 2.7 4 4.9 2.4 7 0.3 4 -0.7 8 2 8 0.2 4 -1.2 4 -1.5 2 -2.5 2 -3 1.3 -4 0.5 -4 -0.6 -6.8 -3.2 -9.2 -7 -6 -1.1 -8 0.6 -4 1.4 -2 2.1 -3.9 6 -2.1 1.9 -2 1.2 -4 1 -6 -1.2 -8 -4.6 -18 2.3 -5.2 -0.6 -3.9 -2 -1.6 -2 -0.9 -4 2 -6 4.4 -6 15.2 -17.3 5.9 -4.7 6.1 -3.1 8 -2.6zM728 173.3l2 0.8 1.1 1.9 0.9 6 -0.9 4 -1.1 1.8 -2 0.9 -2 -1.5 -0.6 -1.2 -1 -6 1.6 -5.3zM472 205.8l4 0.8 2.3 1.4 0.9 2 -0.5 2 -2.7 2.1 -4 0.4 -2 -0.7 -2.1 -1.8 -0.8 -2 0.5 -2 2.4 -1.8zM736 207.4l2 -0.8 2 0.2 1.8 1.2 1.6 2 1.3 4 0 4 -0.6 2 -2.1 3.6 -2 1.4 -2 0.2 -2.3 -1.2 -1.7 -2 -1.4 -4 0.4 -6 1 -2.3zM628 211.5l4 -0.1 4 1.9 1.4 2.7 -0.6 2 -2.4 2 -2.4 0.8 -4 -0.1 -2 -0.7 -2.4 -2 -0.6 -2 1 -2.3zM512 231.8l2.1 0.2 1.9 1.2 0.7 0.8 -0.6 2 -4.1 1.2 -3.5 -1.2 -0.5 -2.2 2 -1.6zM756 240.7l2 -0.5 2 0.5 2 2 1.3 3.3 -0.1 2 -1.2 3.2 -2 1.9 -2 0.6 -2 -0.5 -1.5 -1.2 -1.4 -2 -0.5 -2 0.5 -4 1.3 -2zM230 265.9l4 0.6 2.1 1.5 1.9 3.1 2.8 8.9 1.2 2.1 2 1.4 8 1.6 4 3.2 2.9 5.7 0.3 6 -1.2 3.6 -2 3.1 -4 2.8 -4 0.8 -8 -2.2 -2 0.9 -2.1 3 -3.9 8.1 -4 6.3 -4 3.6 -4 1.5 -2 -0.1 -2 -0.9 -2.4 -2.5 -2.1 -4 -3.5 -9.5 -4.3 -14.5 -0.4 -6 0.5 -4 1.3 -4 2.1 -4 6.8 -7.6 8 -5.7 4 -1.9zM872 321.7l2 -1.4 2 0 2.1 1.7 0.4 2 -0.8 2 -1.7 1.1 -2 0.1 -1.9 -1.2 -0.8 -2zM254 333.9l4 0.6 2 1 2.7 2.5 1.7 4 -0.7 4 -1.3 2 -4.4 2.6 -4 0.2 -4 -1.5 -3.1 -3.3 -0.6 -2 0.1 -4 0.7 -2 2.9 -3zM850 387l2 1.1 1.2 1.9 2.8 7.2 6 0.5 2 1.4 1 2.9 -1 2.8 -2 1.1 -2 -0.6 -2.9 -3.3 -1.1 -3.3 -4 -2.2 -2 -2 -1.8 -4.5 0.2 -2zM700 435.5l4 0 4 1.8 1.8 2.7 -0.3 2 -1.7 2 -3.8 1.5 -4 0.2 -4.8 -1.7 -1.4 -2 0.1 -2 2.1 -2.7zM754 437.3l6 -1.2 14 1 2.5 0.9 2.5 2 0.9 2 0 2 -1.9 2.9 -4 1.7 -14 -0.2 -4 -0.7 -3.6 -1.7 -1.7 -2 -0.4 -2 0.5 -2zM674 447.9l4 -1.2 4 -0.1 3.3 1.4 0.7 2 -0.6 2 -3.4 4 -6 3.6 -6 1.7 -4 -0.3 -1.7 -1 -0.9 -2 0.5 -2 1.2 -2 2.9 -2.8zM844 453.5l4 0.1 6 2.7 4.3 3.7 1.2 2 0 2 -1.5 0.9 -4 -0.3 -6 -3 -4.1 -3.6 -1.1 -2 0.3 -2zM878 479.4l2 -0.5 4 0.5 4.5 2.6 1.8 2 1 2 0.1 2 -1.4 2 -4 0.7 -4 -1.2 -2.5 -1.5 -2.1 -2 -1.1 -2 -0.2 -2 1 -2zM576 499.2l2 -0.7 2 0.1 2 1.1 1.6 2.3 0.6 2 -0.4 4 -1.8 2.6 -2 1.2 -2 0.1 -2 -0.7 -2.5 -3.2 -0.4 -4 0.9 -2.5zM480 504l2 -1.6 2 -0.3 3.1 1.9 -0.6 2 -2.5 0.9 -3.1 -0.9zM580 528.2l2 0.2 1.3 1.6 0.4 2 -1.7 2.9 -2 0.2 -1.3 -1.1 -0.7 -1.7 0.3 -2.3zM268 557.8l2 -0.7 4 -0.3 2 0.5 2 1.2 2 3.5 0.4 2 0.2 6 -2.6 4.8 -1.6 1.2 -0.4 1.4 -0.9 0.6 8.9 -0.4 4 0.9 2.5 1.5 3.2 4 1.2 4 0.8 6 2.3 2.2 12 4.3 4 0.6 2 -0.5 7.5 -4.6 2.5 -0.8 4 -0.1 2 0.5 3.6 2.4 1.3 2 0.6 4 -3 8 0.3 2 1.2 1.8 2 1.5 2 0.4 4 -0.7 10 -4.5 6 -1.5 18 -1.3 6 -0.9 14 -4.9 6 -1.3 6 0.2 10 2.2 3.2 1 2.2 2 0.7 4 -3.1 26 -2.3 10 -7.4 24 -1.5 8 -0.6 8 1.2 8 2.3 6 3.7 6 9.6 11.8 2.5 4.2 0.7 4 -0.4 2 -1.2 2 -3.6 1.8 -2 0 -4 -1.7 -2 -1.5 -28 -30.5 -4 -3.7 -2 -1.1 -2 -0.3 -10 4.2 -4 -0.1 -2.2 -1.1 -1.8 -2 -0.3 -4 4.6 -10 0.1 -2 -2.3 -4 -8.1 -6.7 -12 -5.5 -6.3 -3.8 -7.7 -7.4 -4 -2.9 -4 -1.1 -6 0.6 -4 1.8 -10.2 7 -3.8 1.5 -4 0.5 -4 -0.8 -4 -1.9 -12 -7.3 -6.8 -6 -11.3 -14 -4.8 -8 -3.4 -10 -1.3 -10 0.9 -10 2.7 -8.7 7.2 -13.3 3.2 -8 1.9 -2zM452 569.2l2 0 2.1 0.8 1.9 2 0.5 2 -0.3 2 -1.5 2 -2.7 1.3 -2 -0.1 -2 -1 -1.7 -2.2 -0.3 -1.5 0.4 -2.5 1.6 -2zM402 581.6l6 -0.5 3.1 0.9 3.1 2 1.3 2 0.4 2 -0.4 2 -1.5 2.4 -4 2.8 -2 0.5 -4 -0.2 -4 -2.1 -2.8 -3.4 -0.6 -2 0.3 -2 1.2 -2zM504 593.6l4 -1 4 -0.2 4 0.5 4 1.3 8 4.7 10 9 2 0.9 1 -2.8 1.6 -2 3.4 -1.8 2 0 2 0.7 2.1 3.1 -0.1 2.3 -2 3 -4 1.2 -4.4 -0.5 -0.4 2 1.3 10 -0.8 8 -2.5 8 -9.2 23.4 -3.1 4.6 -2.9 2.8 -4 2.2 -4 1.1 -4 -0.2 -4 -1.4 -4 -2.7 -5.3 -5.8 -3.8 -6 -2.7 -6 -2.6 -8 -1.7 -8 -0.9 -8 -0.1 -8 0.6 -6 1.6 -6 1.9 -4 3 -4 4 -3.5zM206 653.7l4 0.5 2.1 1.8 0.7 2 -0.5 2 -2.3 2 -4 0.5 -2 -0.8 -1.7 -1.7 -0.5 -2 0.7 -2 1.5 -1.5zM638 677.3l1.2 0.7 -0.4 2 -0.8 0.3 -0.6 -0.3 -0.3 -2zM572 687.7l6 0 4.4 2.3 1.5 2 0.7 2 -0.1 2 -1.1 2 -3.4 2.6 -6 1 -4 -0.9 -3.9 -2.7 -1.2 -2 -0.3 -2 0.7 -2 2.7 -2.5zM522 689.5l2 -0.7 4 -0.2 5.2 1.4 2.9 2 1 2 -0.4 2 -1.9 2 -2.8 1.3 -4 0.5 -4 -0.8 -3.9 -3 -0.8 -2 0.3 -2zM686 699.7l2 -0.1 2 0.5 2 1.7 0.5 2.2 -1.2 2 -3.3 1.5 -2 -0.2 -2.3 -1.3 -1.1 -2 0.4 -2zM692 737.4l2 -0.7 2 0.3 2 2 0.4 1 -0.2 2 -2.2 2.2 -2 0.3 -1.4 -0.5 -1.9 -2 -0.2 -2z"/>
<path fill="#61ff9e" d="M728 175.1l2 1.4 0.9 3.5 -0.9 5.1 -2 1.3 -2 -2.1 -0.6 -4.3 0.6 -2.8zM368 177.9l8 -0.1 6 1.1 4 1.7 4 3.3 2 4 2.1 6.1 5.9 6.7 2 3.6 0.8 3.7 -0.3 2 -2.3 4 -3 2 -3.2 1 -6 -0.4 -4 -1.6 -4.2 -3 -7.8 -9.5 -4 -1.4 -14 -1.3 -4 -1 -2 -1.5 -1.8 -3.3 -0.4 -2 1.2 -4 1.5 -2 3.5 -2.8 4 -2.2 6 -2zM344 199.9l4 0.9 1.6 3.2 0.5 4 -0.7 4 -2.4 4 -2.6 2 -2.4 0.9 -4 0 -2.2 -0.9 -1.8 -1.5 -1.6 -2.5 -0.4 -2 0.4 -4 1.6 -3 2 -2.2 4 -2.3zM470 206.6l4 -0.4 3.7 1.8 1 2 -0.6 2 -2.1 1.6 -2 0.5 -4 -0.9 -1.5 -1.2 -0.9 -2 0.6 -2zM738 207.9l2 0.3 2.2 1.8 1.1 2 0.6 4 -0.7 4 -1.2 2 -2 1.6 -2 0.3 -2.8 -1.9 -1.2 -2 -0.8 -4 0.7 -4 1.1 -2 1 -1.1zM630 211.8l4 0.9 1.8 1.3 0.8 2 -0.7 2 -1.9 1.5 -2 0.7 -4 -0.1 -3.5 -2.1 -0.7 -2 0.9 -2 3.3 -1.9zM756 242l2 -0.6 2 0.6 1.7 2 0.6 2 -0.7 4 -1.6 1.9 -2 0.6 -2 -0.6 -1.7 -1.9 -0.7 -2 0.6 -4zM250 287.6l4 0.9 2 1.7 2.1 3.8 0.6 4 -0.8 4 -1.9 3.1 -2 1.7 -4 0.9 -2 -0.5 -3.6 -3.2 -1.2 -2 -0.8 -4 0.5 -4 2.4 -4 2.7 -1.8zM874 321.3l2 0 0.8 0.7 0.8 2 -1.6 2.3 -2 0 -1.7 -2.3 0.7 -2zM254 335.5l2 -0.3 4 1.3 3.2 3.5 0.6 4 -0.7 2 -3.1 3.2 -2 0.7 -4 -0.1 -3.2 -1.8 -1.5 -2 -0.6 -2 0.4 -4 2.9 -3.6zM850 389.2l2 0.7 0.9 2.1 0.2 2 -1.1 0.6 -2.2 -2.6zM858 399.3l2 -1.2 2 0.3 2 1.5 0.6 2.1 -0.6 2.1 -2 1.1 -2 -0.6 -2 -2.6 -0.4 -2zM698 437.3l4 -0.9 4 0.9 2.4 2.7 -0.2 2 -2.2 2 -2 0.7 -4 0.1 -2.6 -0.8 -2 -2 0 -2zM756 437.2l4 -0.6 14 1.1 2 0.7 2.2 1.6 1.1 2 0 2 -1.3 2.1 -4 2 -14 -0.2 -4 -0.7 -2.5 -1.2 -1.5 -1.5 -0.9 -2.5 0.9 -2.1zM678 447.8l4 0.1 2 1.6 0.1 2.5 -1.3 2 -4.8 3.9 -4 1.8 -4 0.8 -4 -0.8 -1.2 -1.7 0.3 -2 1.2 -2 5.7 -4.3zM844 455.8l2 -1.8 2 0.3 4.5 1.7 5 4 1.1 2 -0.6 1.7 -2 0.5 -2 -0.3 -4 -1.7 -5.1 -4.2zM880 479.4l4 0.4 4 2.3 1.8 1.9 1 2 0 2 -0.8 1.2 -2 0.9 -4 -0.4 -3.5 -1.7 -2.2 -2 -1.3 -2 -0.2 -2 1.2 -1.8zM578 499.5l2 0.1 2 1.5 1.3 2.9 -0.5 4 -2.8 2.6 -2 0.2 -2 -0.9 -1.4 -1.9 -0.6 -2 0.8 -4 1.2 -1.5zM482 503.5l2 -0.3 1.8 0.8 -1.8 2.1 -2 -0.9 -0.6 -1.2zM580 530.1l2 0.6 0 2 -2 0.3 -0.5 -1zM274 557.9l2 0.4 2 1.3 1.3 2.4 0.9 4 -0.2 2.8 -2 3.2 -2 1.2 -2 0.2 -2 -0.2 -2.2 -1.2 -2 -2 -1.5 -4 0.7 -4 1.5 -2 3.5 -1.8zM452 569.9l2 -0.1 2 1.1 1.1 1.1 0.5 2 -0.5 2 -1.1 1.3 -2 1 -2 -0.1 -2 -1.3 -1.2 -2.9 0.4 -2zM282 579.3l4 -0.2 2.6 0.9 2.6 2 1.9 4 -0.3 4 -0.9 2 -3.9 3.6 -4 1.4 -2 0 -2 -1.2 -2 -2.4 -1.4 -3.4 -0.1 -4 0.5 -2 1.3 -2zM404 582l4 0 4.5 2 1.5 2 0.3 2 -0.8 2 -1.5 1.5 -2 1.2 -4 0.7 -4 -1 -3 -2.4 -0.9 -2 0.2 -2 1.7 -2.3zM328 595.9l4 0.7 2.3 1.4 1.4 2 0.3 3.6 -1 2.4 -3 3 -7.8 3 -0.9 2 0.4 4 -1.2 6 -1.7 4 -2.8 4.2 -8 6.8 -8 5.5 -4 1.8 -4 -0.4 -4 -1.7 -6 -3.8 -4.9 -4.4 -4.9 -6 -3.8 -6 -3 -6 -2.2 -6 -0.8 -6 0.8 -4 1.3 -2 3.5 -2.1 4 -0.3 4 0.6 12 5.6 20 5.5 6 1 2.2 -0.3 1 -2 -0.1 -4 1.5 -4 3.4 -2.9zM508 599.7l4 -0.3 6 0.8 8 2.6 6 3.2 4 3.6 2 2.8 1.6 3.6 1.3 6 -0.1 6 -0.8 4 -1.4 4 -2.6 4.9 -12 18.2 -4 3.1 -4 1.2 -4 -0.3 -4 -1.9 -3.7 -3.2 -2.3 -2.9 -3 -5.1 -2.4 -6 -2.8 -12 -0.5 -12 0.8 -6 1.3 -4 2.3 -4 2.3 -2.4 4 -2.5zM546 603.3l2 -0.1 1.8 0.8 1.3 2 0.1 2 -1.1 2 -2.1 1.1 -2 0.1 -2 -1 -1.3 -2.2 0.3 -2 1.7 -2zM362 617.9l6 0.2 10 1.9 6 0.5 6 -0.9 10 -3.1 2 0.1 2 0.9 2 2.3 1 4.2 0 6 -1.1 8 -2.3 10 -3.1 10 -2.5 6.1 -2.3 3.9 -3.7 3.7 -4 1.5 -2 0.1 -4 -0.9 -4 -2.5 -6.1 -5.9 -1.9 -1.2 -16 -4.5 -4 -2.6 -3.1 -3.7 -1.6 -4 -0.4 -6 1.4 -6 2.4 -6 1.9 -4 3.4 -4.4 4 -2.6zM206 655.8l2 0 2 1.7 -0.3 2.5 -1.7 0.9 -2 0 -1.7 -0.9 -0.6 -2zM370 685.7l2 -0.3 2 0.6 2 1.7 1.2 2.3 0.1 2 -0.6 2 -1.6 2 -3.1 1.8 -2 0.3 -2 -0.2 -2 -1.2 -1.3 -2.7 0.1 -2 1.2 -2.8 2 -2.3zM526 689.9l4 0.1 4 1.8 1.3 2.2 -0.7 2 -2.6 1.8 -2 0.6 -4 -0.3 -2 -1 -1.4 -1.1 -0.9 -2 0.3 -1.2 0.2 -0.8 1.8 -1.4zM570 689.1l2 -0.7 4 -0.4 4 1.2 3.1 2.8 0.7 2 -0.2 2 -1.6 2.3 -4 2.1 -4 0.4 -4 -1.1 -2.6 -1.7 -1.3 -2 -0.3 -2 0.7 -2zM684 702l2 -1.4 2 -0.2 3 1.6 0.5 2 -1.5 2.1 -2 0.6 -2 -0.2 -2.4 -2.5zM694 737.4l2.3 0.6 1.3 2 -0.4 2 -1.2 1.3 -2 0.4 -2.4 -1.7 -0.3 -2 0.7 -1.5z"/>
<path fill="#57ffa8" d="M728 177.6l1.5 2.4 -0.2 2 -1.3 1.8 -0.9 -1.8 -0.2 -2zM386 197.6l4 0.2 4 1.1 4 2.7 2 2.3 1.1 2.1 0.2 4 -0.8 2 -1.6 2 -4.9 2.3 -6 -0.3 -4.5 -2 -4.2 -4 -1.6 -4 0.8 -4 3.5 -3.4zM338 205.1l2 -0.8 4 0.1 2 1 1.9 2.6 0.5 2 -1 4 -3.4 3.3 -2 0.8 -4 -0.4 -2.4 -1.7 -1.2 -2 -0.1 -4 0.8 -2zM470 207.1l2 -0.6 2 0.1 3.2 1.4 1 2 -0.8 2 -3.4 1.7 -2 -0.1 -2 -0.9 -1.8 -2.7 0.6 -2zM738 209.1l2 0.3 2 2 1.2 4.6 -1.2 4.5 -2 2 -2 0.3 -2 -1.2 -1.1 -1.6 -0.9 -4 0.8 -4 1.2 -1.8zM626 213.6l2 -0.9 4 -0.2 2.9 1.5 0.9 2 -0.8 2 -1 0.8 -2 0.8 -4 -0.1 -2.6 -1.5 -0.8 -2zM756 243.3l2 -0.8 2 0.9 1.4 2.6 0 2 -0.9 2 -2.5 1.4 -2 -0.7 -1.5 -2.7 0 -2zM250 289.4l2 -0.1 2 0.7 2.2 2 1.6 4 -0.1 4 -0.7 2 -3 3.5 -2 0.7 -2 -0.1 -2 -0.9 -2.6 -3.2 -0.7 -2 -0.1 -4 0.6 -2 2.8 -3.6zM874 323l2 0.1 0 1.5 -2 0.1 -0.4 -0.7zM254 336.8l4 -0.3 2 0.8 2.5 2.7 0.7 4 -1.2 2.7 -2 1.8 -2 0.7 -4 -0.4 -3.2 -2.8 -0.6 -2 0.5 -4 1.5 -2zM860 399.1l2 0 1.2 0.9 0.8 1.5 -1 2.5 -1 0.6 -2 -0.7 -1.2 -1.9 0.1 -2zM700 437.6l2 -0.3 3 0.7 2 2 -0.2 2 -2.8 1.9 -2 0.3 -2 -0.2 -2 -1 -1.1 -1 -0.1 -2 1.2 -1.4zM756 437.8l4 -0.7 14 1.1 3.4 1.8 1.2 2 0 2 -1.3 2 -3.3 1.6 -14 -0.1 -4 -0.8 -3.6 -2.7 -0.4 -2 0.8 -2zM674 449.7l4 -0.9 2 0 2.4 1.2 0.3 2 -1 2 -2 2 -3.2 2 -4.5 1.5 -4 -0.2 -1.7 -1.3 0 -2 1.2 -2 2.5 -2.2zM846 455.3l2 -0.2 4 1.3 4.6 3.6 0.8 2 -1.4 1.1 -2 0 -4 -1.6 -4.1 -3.5 -0.6 -2zM880 479.9l4 0.4 3.3 1.7 2 2 1.1 2 -0.4 2.3 -2 1.3 -2 0.1 -4 -1.3 -2 -1.4 -2.2 -3 -0.2 -2zM576 501.8l2 -1.2 2 0.2 2 2.1 0.5 3.1 -0.8 2 -1.7 1.5 -2 0.2 -2.3 -1.7 -0.7 -2 0 -2zM272 559.3l2 -0.4 2 0.3 2 1.5 0.7 1.3 0.9 4 -0.2 2 -1.4 2.4 -2 1.1 -4 -0.3 -3.2 -3.2 -0.5 -4 0.6 -2zM452 570.7l2 -0.1 2.2 1.4 0.6 2 -0.7 2 -2.1 1.3 -2 -0.2 -1.5 -1.1 -0.9 -2 0.6 -2zM282 581l2 -0.8 4 0.5 1.8 1.3 1.5 2 0.4 4 -1.7 3.1 -2 1.4 -4 0.2 -2 -1 -2 -2.2 -1 -3.5 0.4 -2zM402 583.7l4 -1 4 0.9 2.5 2.4 0.2 2 -1.4 2 -3.3 1.6 -4 -0.1 -2 -0.8 -2.3 -2.7 0 -2zM326 597.4l4 -0.4 2.7 1 1.8 2 0.4 2 -0.5 2 -2.4 2.6 -4 1.2 -2 -0.3 -2.5 -1.5 -1.3 -2 -0.1 -2 0.6 -2zM520 606l8 0.7 4 1.9 3.6 3.4 2.4 4 1.2 4 0.2 8 -0.9 4 -1.8 4 -4.7 5.9 -12 9.2 -4 1.4 -2 0 -4 -1.6 -2 -1.7 -2.6 -3.2 -2.1 -4 -2.9 -10 -0.6 -6 0.2 -6 2 -7 2 -2.6 2 -1.6 4 -1.6zM546 604.6l2 -0.4 2.2 1.8 0 2 -2.2 2 -2 -0.1 -1.7 -1.9 0.2 -2zM292 617.5l2 -0.7 4 -0.2 4.3 1.4 2.3 2 0.9 2 0 2 -0.8 2 -2.7 2.6 -4 1.4 -2 -0.1 -4 -1.9 -2 -2.4 -1 -3.6 0.4 -2zM360 631.4l4 -0.6 6 1.6 4.8 3.6 2.8 4 1.1 4 -0.5 4 -2.1 4 -4.1 3.4 -6 1.9 -6 -0.1 -6 -2.3 -3.1 -2.9 -1.3 -2 -1.1 -4 0.4 -4 0.9 -2 4.2 -5.3zM368 689.3l2 -0.9 2 0.4 1.5 1.2 0.8 2 -0.4 2 -1.8 2 -2.1 0.7 -2 -0.3 -2 -2.2 0.1 -2.2zM570 689.8l2 -0.8 4 -0.4 4 1.3 2.3 2.1 0.7 2 -0.3 2 -1.5 2 -3.2 1.7 -4 0.3 -4 -1.2 -2.8 -2.8 -0.4 -2 0.7 -2zM526 691.3l4 -0.1 2.2 0.8 1.3 2 -1.1 2 -2.4 1 -2 0.1 -3 -1.1 -1.2 -2 0.9 -2zM686 701.5l2 -0.2 1.8 0.7 0.6 2 -2.4 1.8 -2 -0.4 -1.3 -1.4 0.6 -2zM694 738.3l2 0.7 0.7 1 -0.4 2 -2.3 0.8 -1.3 -0.8 -0.6 -2z"/>
<path fill="#4dffb2" d="M384 201l6 -0.9 4 0.9 2 1.1 2 1.6 1.6 2.3 0.6 4 -0.8 2 -3.4 2.9 -4 1 -4 -0.5 -4 -1.9 -3.4 -3.5 -0.8 -2 -0.1 -2 0.8 -2zM342 206l2 0.4 2 1.5 1 2.1 0 2 -0.7 2 -1.8 2 -2.5 1.1 -2 0.1 -2.7 -1.2 -1.4 -2 -0.4 -2 0.4 -2 2.1 -2.8 2 -1zM470 207.6l2 -0.8 2 0.1 2.6 1.1 1.1 2 -0.9 2 -2.8 1.2 -2 -0.1 -2 -0.9 -1.3 -2.2zM736 211.6l2 -1.4 2 0.3 2 2.9 0.2 4.6 -2.2 3.3 -2 0.4 -2 -1.4 -1 -2.3 -0.1 -4zM628 213.3l4 -0.2 1.9 0.9 1.1 2 -0.9 2 -4.1 1.2 -3.6 -1.2 -1 -2 1.2 -2zM758 243.7l2 1.4 0.4 0.9 -0.4 2.9 -2 1.4 -2 -1.3 -0.5 -3 0.5 -1.1zM250 291l2 -0.3 2 0.6 2 2 1.1 2.7 -0.1 4 -0.8 2 -2.2 2.3 -2 0.7 -2 -0.3 -2 -1.4 -1.8 -3.3 -0.1 -4 0.7 -2 1.2 -1.6zM254 337.9l2 -0.7 2 0.1 2 0.8 1.8 1.9 0.8 2 0 2 -0.8 2 -1.8 1.8 -2 0.7 -2 0.1 -2 -0.7 -2 -1.9 -0.8 -2 0 -2 0.7 -2zM862 399.8l1.2 2.2 -1.2 1.9 -2.3 -1.9 0.3 -1.6zM758 437.8l16 0.9 2.6 1.3 1.4 2 0 2 -2 2.3 -4 1 -6 -0.5 -6 0.2 -4 -0.8 -2.8 -2.2 -0.5 -2 1.3 -2.3zM700 438.8l2 -0.4 2 0.4 1.5 1.2 -0.3 2 -3.2 1.2 -3.5 -1.2 -0.2 -2zM676 450l4 0.1 1.2 1.9 -0.8 2 -2.4 2.3 -4 2 -4 0.4 -2 -0.7 -0.4 -2 1.2 -2 3.2 -2.5zM848 455.9l2 0.3 3.5 1.8 2 2 0.2 2 -2.8 0 -3.9 -2 -1.9 -2 0.4 -2zM880 480.6l2 -0.3 2 0.4 2.7 1.3 2.1 2 1.1 2 -0.4 2 -1.5 1 -2 0.2 -3.7 -1.2 -2.3 -1.7 -1.5 -2.3 -0.1 -2zM578 501.8l2 0.2 1.3 2 0.1 2 -1.4 2.2 -2 0.2 -2.1 -2.4 0.1 -2zM274 559.8l2 0.3 2 1.7 0.8 2.2 -0.3 4 -2.5 2.3 -2 0.1 -2 -0.8 -1.5 -1.6 -0.9 -2 0 -2 0.8 -2 1.6 -1.5zM452 571.6l2 -0.1 0.8 0.5 1 2 -1.8 2.2 -2 -0.1 -1.3 -2.1zM284 581.4l2 -0.2 2 0.6 2.1 2.2 0.5 2 -0.3 2 -2.3 2.5 -2 0.5 -2 -0.3 -2.8 -2.7 -0.4 -2 0.4 -2zM404 583.9l4.3 0.1 2.5 2 0.1 2 -2.9 2.2 -4.2 -0.2 -2.4 -2 0 -2zM328 597.9l2.3 0.1 2.8 2 0.5 2 -0.9 2 -2.7 1.7 -2 0.2 -2 -0.7 -1.4 -1.2 -0.7 -2 0.7 -2zM548 605.6l0.5 0.4 0.2 2 -0.7 0.6 -2 -0.5 0.3 -2.1zM520 609.8l6 -1.1 4 0.9 2 1.1 2 1.7 2.6 3.6 1.8 6 0.1 4 -0.7 4 -3 6 -4.8 4.4 -6 2 -6 -0.3 -4.4 -2.1 -3.2 -4 -2 -6 -0.2 -6 2 -6 3.3 -4zM358 635.9l4 -0.9 4 0.5 4 2 2.5 2.5 1.1 2 0.7 4 -1.2 4 -3.1 3.2 -4 1.8 -6 0.2 -4 -1.4 -2.4 -1.8 -1.6 -2 -1.3 -4 0.7 -4 2.6 -3.6zM572 689.6l4 -0.4 4 1.5 1.4 1.3 0.8 2 -0.4 2 -1.8 2 -4 1.4 -4 -0.5 -1.9 -0.9 -1.9 -2 -0.5 -2 0.8 -2zM370 691.4l0.9 0.6 -0.2 2 -0.7 0.4 -1.8 -0.4 0.3 -2zM528 692.6l2 0.3 1.1 1.1 -1.1 1.1 -2 0.2 -1.9 -1.3zM686 703.9l2 -1.3 0.8 1.4 -0.8 0.5zM694 739.5l1.2 0.5 -1.2 1.4 -0.5 -1.4z"/>
<path fill="#42ffbd" d="M388 201.7l2 -0.1 4 0.9 2 1.1 2.3 2.4 0.8 2 0 2 -0.8 2 -2.2 2 -4.1 1.2 -4 -0.4 -4 -2.2 -2.2 -2.6 -0.6 -2 0.8 -2.9 2 -2zM340 207.7l2 -0.3 2 0.7 1.6 1.9 0.3 2 -0.7 2 -3.2 2.2 -2.5 -0.2 -2.2 -2 -0.4 -2 0.5 -2zM472 207.2l4.1 0.8 1 2 -1 2 -2.1 0.8 -2 -0.1 -2 -1.4 -0.7 -1.3 0.7 -2zM738 211.3l2.2 0.7 1.1 2 0.4 2 -0.4 2 -1.2 2 -2.1 0.6 -2 -2 -0.6 -2.6 0.6 -2.7zM628 213.9l4 -0.2 2.2 2.3 -2.2 2.4 -4 -0.2 -1.7 -2.2zM758 245.4l0.8 0.6 -0.1 2 -0.7 0.6 -0.8 -0.6 0 -2zM252 291.9l2 0.6 1.4 1.5 0.9 2 0.3 2 -0.4 2 -1.1 2 -1.1 1.1 -2 0.7 -2 -0.5 -1.5 -1.3 -1.1 -2 -0.3 -2 1.2 -4 1.7 -1.6zM254 339l2 -0.9 2 -0.1 3 2 1 2 0 2 -2 3 -2 0.9 -2 0 -2.9 -1.9 -0.9 -2 0 -2zM862 401.5l0 0.8 -0.5 -0.3zM702 439.7l1.1 0.3 -1.1 2.1 -1.3 -2.1zM756 439l4 -0.9 14 1.1 2 1 1.4 1.8 0 2 -1.8 2 -3.6 0.9 -6 -0.6 -8 0.1 -2 -0.7 -2.1 -1.7 -0.5 -2 1.1 -2zM674 451.6l4 -0.5 1.4 0.9 -0.4 2 -2.1 2 -2.9 1.3 -2 0.5 -2 -0.5 -0.8 -1.3 1 -2zM850 457.4l2.1 0.6 1.9 2.3 -2 0.3 -1.5 -0.6 -1.8 -2zM880 481.4l2 -0.6 4.1 1.2 2.3 2 0.9 2 -0.7 2 -2.6 0.7 -4 -1.4 -1.6 -1.3 -1.3 -2 0.2 -2zM578 503.6l2 0.4 0 2.1 -2 0.4 -0.4 -0.5zM272 561.8l2 -1 2 0.3 2 2.3 0 3.8 -2 1.9 -2 0.1 -2 -1.2 -1.1 -2 -0.1 -2zM452 573.9l2 -0.5 0.3 0.6 -0.3 0.4zM284 583l2 -0.5 2.7 1.5 0.6 2 -1.3 2.7 -2 0.6 -2.8 -1.3 -0.8 -2 0.5 -2zM404 585.7l2 -0.6 2 0.5 0.6 0.4 -0.1 2 -2.5 0.7 -2 -0.5 -0.5 -2.2zM328 599.3l2 0 1.3 0.7 0.8 2 -2.1 2.1 -2.2 -0.1 -1.9 -2 0.8 -2zM522 611.8l4 -1.1 4 0.8 4 2.9 2.9 5.6 0.5 6 -1.7 6 -3.7 4.7 -4 2.1 -4 0.2 -4 -1.5 -3.5 -3.5 -1.8 -4 -0.5 -6 0.7 -4 2.1 -4 1.8 -2zM358 638l2 -0.7 4 -0.1 4 1.6 2 1.9 1.7 3.3 0.2 2 -1.4 4 -2.1 2 -4.4 1.8 -4 -0.1 -4 -1.7 -2 -2 -1.1 -2 -0.3 -4 2.4 -4zM574 689.8l4 0.5 2.5 1.7 0.9 2 -0.5 2 -2.3 2 -4.6 0.7 -2.4 -0.7 -2.4 -2 -0.5 -2 0.8 -2 2.5 -1.7z"/>
<path fill="#38ffc7" d="M386 203.7l2 -0.6 4 0.1 4 2 1.9 2.8 0.1 2 -0.9 2 -2.7 2 -2.4 0.6 -4 -0.5 -3.6 -2.1 -1.5 -2 -0.4 -2 0.7 -2zM472 207.6l3.2 0.4 1.4 2 -0.6 1.2 -2 1.2 -2.5 -0.4 -1.7 -2 1.1 -2zM340 209.3l2 -0.4 2.1 1.1 0.6 2 -0.8 2 -1.9 1 -2 -0.1 -1.1 -0.9 -0.6 -2zM738 212.6l2 0.7 0.8 2.7 -0.8 2.6 -2 0.7 -1.2 -1.3 -0.6 -2 0.6 -2zM628 215.1l2 -1 2 0.6 1.1 1.3 -1.1 1.4 -2 0.6 -2 -1 -0.7 -1zM250 293.8l2 -0.7 2 0.7 1.4 2.2 0.4 2 -0.5 2 -1.3 1.9 -2 0.7 -1.9 -0.6 -1.5 -2 -0.4 -2 0.3 -2zM256 338.9l2 -0.1 2 1 1.3 2.2 0.1 2 -1.1 2 -2.3 1.2 -2 -0.1 -1.9 -1.1 -1.1 -2 0.1 -2 0.9 -1.8zM756 439.6l4 -1 14 1 2.8 2.4 -0.1 2 -2.2 2 -2.5 0.5 -6 -0.7 -8 0.1 -3.3 -1.9 -0.6 -2zM672 454l4 -1.4 1.2 1.4 -2.5 2 -2.7 0.3 -0.6 -0.3zM882 481.3l3.1 0.7 2.7 2 0.9 2 -0.7 1.6 -2 0.6 -1.1 -0.2 -3.8 -2 -1.3 -2 0.2 -1.4 0.2 -0.6zM274 561.9l2 0.2 1.3 1.9 0.1 2 -1.4 1.9 -2 0 -1.9 -1.9 -0.1 -2zM286 584.1l1.4 1.9 -1.4 1.2 -1.5 -1.2zM524 613.1l4 -0.5 4 1.7 2.9 3.7 1.3 4 -0.2 6 -1.7 4 -2.3 2.7 -4 2 -4 -0.3 -2 -0.9 -3.2 -3.5 -1.6 -4 0 -6 1.4 -4 3.4 -3.8zM358 639.7l2 -0.8 4 0 4 2.2 1.8 2.9 0.3 2 -0.5 2 -1.3 2 -2.3 1.6 -4 0.9 -4 -0.9 -2.2 -1.6 -1.3 -2 -0.2 -4 1 -2zM572 691.1l4 -0.7 2 0.6 1.5 1 1 2 -0.5 2 -2 1.5 -2 0.6 -4 -0.8 -1.7 -1.3 -0.7 -2 1 -2z"/>
<path fill="#2effd1" d="M386 205.2l4 -1.1 4 1 2.7 2.9 0.1 2 -1 2 -3.8 1.8 -2 0 -4 -1.5 -1.9 -2.3 -0.3 -2zM472 207.9l2.2 0.1 1.8 2.1 -2 1.8 -2 -0.3 -1.5 -1.6zM340 212l2 -0.9 0.7 0.9 -0.7 1.2zM630 215.4l1.8 0.6 -1.8 0.7 -1.2 -0.7zM738 214.2l1.6 1.8 -1.6 1.6 -0.5 -1.6zM250 295.7l2 -1.2 2 0.9 0.8 2.6 -0.8 2.4 -2 0.9 -2 -1.2 -0.6 -2.1zM256 339.8l2 -0.2 2 1.3 0.6 1.1 0.1 2 -0.7 1.2 -2 1.3 -2.5 -0.5 -1.6 -2 0 -2zM758 439.3l2 -0.3 6 0.9 7.4 0.1 2.8 2 -0.1 2 -2.1 1.6 -2 0.4 -6 -0.8 -6 0.6 -2 -0.4 -2.6 -1.4 -0.6 -2 1.5 -2zM882 481.9l2 0.1 2 1.1 1.1 0.9 0.9 2.3 -2 1.3 -4 -1.5 -1.4 -2.1zM274 563.6l2 0.1 0 2.5 -2.2 -0.2zM524 615l2 -0.8 4 0.5 2 1.3 1.7 2 1.5 4 0.1 4 -1.3 4.2 -2 2.6 -4 2.1 -4 -0.7 -2 -1.5 -2.7 -4.7 -0.4 -4 0.9 -4 2.2 -3.5zM358 641.4l4 -1.2 4 1.3 2 2.5 0.4 2 -0.6 2 -1.8 2 -2 0.9 -4 0 -2 -0.9 -1.9 -2 -0.5 -2 0.3 -2zM572 691.9l4 -0.8 2 0.7 1.6 2.2 -0.8 2 -2.8 1.3 -2 -0.1 -2 -0.8 -1.4 -2.4z"/>
<path fill="#24ffdb" d="M388 205.6l4 -0.1 2 1 1.3 1.5 0.3 2 -1.3 2 -2.3 0.9 -2 0.1 -2.8 -1 -1.8 -2 -0.1 -2zM472 208.9l2 -0.2 1.2 1.3 -1.2 1.1 -2 -0.3 -0.7 -0.8zM252 296.4l1.1 1.6 -1.1 1.3 -0.8 -1.3zM256 340.9l2 -0.4 1.9 1.5 0.1 2 -2 1.6 -2 -0.4 -1 -1.2 0.1 -2zM758 439.8l4 -0.2 4 1 6 -0.3 2 0.6 1.4 1.1 -0.1 2 -1.3 1 -2 0.5 -6 -0.8 -6 0.6 -2 -0.4 -1.7 -0.9 -0.8 -2zM882 483l2 -0.3 2 0.9 1.2 2.4 -1.2 0.8 -3.1 -0.8 -1.5 -2zM526 615.9l2 -0.2 2 0.5 2 1.6 1.4 2.2 0.9 4 -0.3 3 -1.3 3 -2.7 2.5 -2 0.7 -2 -0.2 -2.1 -1 -1.9 -2.2 -1.3 -3.8 0.2 -4 0.7 -2 2.4 -3.1zM362 641.7l2 0.4 2 1.7 0.6 2.2 -0.7 2 -1.9 1.3 -2 0.5 -2 -0.4 -2 -1.3 -0.8 -2.1 0.8 -2.4 2 -1.6zM574 691.9l2 -0.1 2 1.4 0.5 0.8 -1.1 2 -1.4 0.5 -3 -0.5 -1.3 -2z"/>
<path fill="#1affe5" d="M388 207.2l2 -0.6 2 0.3 1.6 1.1 0.6 2 -2.2 2 -2.3 0 -2.8 -2 0.2 -2zM474 209.7l0 0.5 -1.5 -0.2zM258 341.7l0.5 2.3 -0.5 0.4 -1.6 -0.4 0.3 -2zM760 440l6 1.4 6 -0.5 2.6 1.1 -0.1 2 -2.5 0.9 -6 -0.8 -6 0.7 -2.7 -0.8 -1 -2 1.7 -1.5zM884 483.5l1.3 0.5 0.8 2 -2.1 0 -1.4 -2zM526 617.6l2 -0.3 2.1 0.7 2 2 1.1 4 -1.2 4.7 -2 2.1 -2 0.6 -2 -0.3 -1.7 -1.1 -2 -4 0.2 -4 0.9 -2zM362 643.6l1.1 0.4 1.3 2 -2.4 2 -2 -1 -0.6 -1 0.6 -1.6zM574 693.4l2 -0.2 1 0.8 -1 1.1 -2 -0.3 -0.7 -0.8z"/>
<path fill="#0ffff0" d="M390 208.9l1.7 1.1 -2.2 0zM758 441.4l2 -0.7 5.3 1.3 -2.4 2 -2.9 0.3 -2 -0.9 -0.7 -1.4zM770 441.7l3.4 0.3 -0.3 2 -3.5 0 -1.2 -2zM526 619.7l2 -0.6 2 0.7 1.4 2.2 0.5 2 -0.2 2 -1.1 2 -2.6 1.5 -2 -0.5 -2.1 -3 0.3 -4z"/>
<path fill="#05fffa" d="M760 441.5l2.7 0.5 -2.7 1.1 -1.4 -1.1zM528 621.6l2.1 2.4 -0.7 2 -1.4 0.9 -1.5 -0.9 -0.6 -2z"/></g>
<path d="M341 107.9 L307.7 739.4M484.5 112.9 L473.4 745.2M628.1 112.9 L639.2 745.2M771.6 107.9 L804.9 739.4M154 665.7 L174.6 667.5 L195.2 669.1 L215.8 670.7 L236.4 672.1 L257 673.5 L277.6 674.8 L298.2 676 L318.8 677.1 L339.5 678.1 L360.1 679 L380.8 679.8 L401.4 680.6 L422 681.2 L442.7 681.7 L463.4 682.2 L484 682.6 L504.7 682.8 L525.3 683 L546 683.1 L566.6 683.1 L587.3 683 L607.9 682.8 L628.6 682.6 L649.2 682.2 L669.9 681.7 L690.6 681.2 L711.2 680.6 L731.8 679.8 L752.5 679 L773.1 678.1 L793.8 677.1 L814.4 676 L835 674.8 L855.6 673.5 L876.2 672.1 L896.8 670.7 L917.4 669.1 L938 667.5 L958.6 665.7M165.7 530.6 L185.7 532.3 L205.7 533.9 L225.7 535.4 L245.7 536.8 L265.7 538.1 L285.7 539.4 L305.7 540.5 L325.8 541.6 L345.8 542.6 L365.8 543.5 L385.9 544.3 L405.9 545 L426 545.6 L446 546.1 L466.1 546.6 L486.1 546.9 L506.2 547.2 L526.2 547.4 L546.3 547.5 L566.3 547.5 L586.4 547.4 L606.4 547.2 L626.5 546.9 L646.5 546.6 L666.6 546.1 L686.6 545.6 L706.7 545 L726.7 544.3 L746.8 543.5 L766.8 542.6 L786.8 541.6 L806.9 540.5 L826.9 539.4 L846.9 538.1 L866.9 536.8 L886.9 535.4 L906.9 533.9 L926.9 532.3 L946.9 530.6M177.4 396.1 L196.8 397.7 L216.1 399.2 L235.6 400.7 L255 402.1 L274.4 403.4 L293.8 404.6 L313.2 405.7 L332.6 406.7 L352.1 407.7 L371.5 408.6 L391 409.3 L410.4 410 L429.8 410.6 L449.3 411.1 L468.8 411.6 L488.2 411.9 L507.7 412.2 L527.1 412.3 L546.6 412.4 L566 412.4 L585.5 412.3 L604.9 412.2 L624.4 411.9 L643.8 411.6 L663.3 411.1 L682.8 410.6 L702.2 410 L721.6 409.3 L741.1 408.6 L760.5 407.7 L780 406.7 L799.4 405.7 L818.8 404.6 L838.2 403.4 L857.6 402.1 L877 400.7 L896.5 399.2 L915.8 397.7 L935.2 396.1M189 261.5 L207.8 263.1 L226.6 264.6 L245.4 266 L264.2 267.3 L283.1 268.6 L301.9 269.7 L320.7 270.8 L339.5 271.8 L358.4 272.8 L377.2 273.6 L396 274.3 L414.9 275 L433.7 275.6 L452.6 276.1 L471.4 276.5 L490.3 276.8 L509.2 277.1 L528 277.3 L546.9 277.4 L565.7 277.4 L584.6 277.3 L603.4 277.1 L622.3 276.8 L641.2 276.5 L660 276.1 L678.9 275.6 L697.7 275 L716.6 274.3 L735.4 273.6 L754.2 272.8 L773.1 271.8 L791.9 270.8 L810.7 269.7 L829.5 268.6 L848.4 267.3 L867.2 266 L886 264.6 L904.8 263.1 L923.6 261.5M200.8 126.2 L218.9 127.7 L237.1 129.2 L255.3 130.5 L273.6 131.8 L291.8 133 L310 134.2 L328.2 135.2 L346.5 136.2 L364.7 137.1 L382.9 137.9 L401.2 138.6 L419.4 139.3 L437.7 139.8 L455.9 140.3 L474.2 140.7 L492.4 141.1 L510.7 141.3 L528.9 141.5 L547.2 141.5 L565.4 141.5 L583.7 141.5 L601.9 141.3 L620.2 141.1 L638.4 140.7 L656.7 140.3 L674.9 139.8 L693.2 139.3 L711.4 138.6 L729.7 137.9 L747.9 137.1 L766.1 136.2 L784.4 135.2 L802.6 134.2 L820.8 133 L839 131.8 L857.3 130.5 L875.5 129.2 L893.7 127.7 L911.8 126.2" fill="none" stroke="#000" stroke-opacity=".45" stroke-width=".7" stroke-dasharray="2.2 6.1"/>
<path d="M462.9 232.8 468 231.2 473.2 232.8 474.2 238 470.1 240.6 465 239 462.9 235.9zM476.3 224.6 481.4 223.6 487.6 226.7 489.2 231.8 483.9 234.9 479.4 232.8 476.3 228.7zM491.7 218.4 494.8 215.3 497.9 209.2 502 205.7 506.5 205.1 507.1 211.2 504 216.4 501 220.5 498.9 225.6 494.8 226.7 491.7 223.6zM604.8 199.9 608.9 198.9 613 198.3 616.1 202 618.8 207.7 616.1 209.2 611 205.1zM448.5 232.8 452.6 231.8 455.7 235.9 458.8 239 454.7 238.6 450.6 235.9zM731.5 342.5 738.7 344.6 744.9 347.7 749 352.8 746.9 353.9 741.8 351.2 735.6 347.1zM730.5 388.8 734.6 385.7 740.8 382.6 746.9 381.6 748.6 384.1 742.8 387.4 736.7 389.8 731.5 391.5zM715.1 313.8 718.1 311.7 719.2 316.8 722.3 322 720.2 324 716.5 319.9zM824.1 312.7 826.1 308.6 829.2 309.2 830.2 312.7 827.1 314.2zM859 308.6 864.2 309.6 870.3 314.8 873.4 319.9 871.4 322 866.2 318.9 862.1 314.8zM848.7 387.8 852.9 386.8 857 394 861.1 402.2 863.1 408.4 860.1 413.5 855.9 411.4 853.9 404.2 850.8 397zM750.6 362.7 754.1 362.1 758.3 365.2 755.2 367.6 752.1 366.2zM699.6 275.7 702.7 274.7 705.4 280.8 706.2 288 703.3 290.1 700.9 285zM753.7 435.7 761.9 432.2 772.2 433.7 784.5 436.7 796.9 442.9 801 448 794.8 445 784.5 440.4 776.3 437.1 768.1 435.1 759.8 434.3zM811.3 454.2 815.4 449.1 825.7 448 835.9 452.2 846.2 455.2 854.4 459.4 860 462.4 860 466.6 854.4 463.9 846.2 460.4 835.9 456.9 825.7 454.2 817.4 454.2zM726.9 468 735.2 470.7 743.4 471.7 751.6 471.7 752.6 474.2 743.4 474.8 735.2 472.7 729 470.1zM710.5 485.1 716.7 489.2 722.8 489.2 722.8 491.2 716.7 491.9 711.5 489.2zM810.4 502.5 819.6 506.7 829.9 511.8 840.2 515.9 850.5 519 858.7 523.1 856.7 523.5 848.4 520.6 839.2 517.4 828.9 513.2 818.6 508.3 810.4 504.2zM859.9 464.5 864.9 469.6 871.1 475.8 878.3 482 883.4 486.5 875.2 483.6 866.9 478.9 860.8 472.7zM248.1 288 251.6 286.9 254.3 283.9 257.8 285.9 260.8 283.9 262.5 286.9 258.8 292.1 255.1 295.2 252.2 295.2zM256.7 272.5 260.8 272.1 266 273.6 268 270.5 271.1 273.6 265 282.8 260.8 276.7zM454.2 239.6 460.3 240.7 464.4 236.6 470 235.5 470 239.6 462.4 241.7 456.2 241.7zM252.7 362.9 251.1 356.7 253.5 352.6 250 351.6 246.9 354.7 244.9 354.3 242.8 358.8 244.5 362.9 242.4 366 244.9 370.1 242.8 374.2 245.3 377.3 249 371.1zM235.6 465.7 237.7 474 240.8 483.2 243.9 488.8 246.9 484.7 243.9 478.5 240.8 472.3 236.7 469.8zM779.8 108.1 771.6 112.2 763.4 118.8 756.2 125 750 134.8 743.2 143.9 737.9 154.8 733.6 166.5 732.1 172.3 730.1 171.9 731.3 164 735.4 151.7 740.8 141.4 747.4 132.2 753.5 122.9 760.7 116.7 768.9 110.6 777.2 107.5zM758.3 368.9 763.4 366.2 771.6 365.6 774.7 368.3 771.6 373.4 765.9 377.1 760.9 375z" fill="#5e3206" fill-opacity=".8" stroke="none"/><path d="M253.2 359.1l4.1 -7.1 2.9 -7.9 1.4 -7.9 -0.4 -12.1 -1.6 -12.3 -1.5 -10.4 1.1 -9.8 4.3 -9.6 6.4 -9.5 8.4 -7.5 10.4 -7.2 10.4 -6.3 10.3 -5.1 10.1 -6.1 8.1 -6.5M261.7 330l0 8 -2 7.9 -4 8 -4.5 8.2 -3.8 8.4 -3.1 8.3 -3.1 8.3 -1.7 8.4 -1 8.3 -1.1 8.3M254.7 359.9l4.1 -7.1 3.1 -8.3 1.4 -8.2 -0.4 -12.3 -1.6 -12.4 -1.5 -10.3 1 -9.2 4.2 -9.3 6.1 -9.2 8.3 -7.2 10.2 -7.2 10.3 -6.2 10.3 -5.1 10.3 -6.2 8.2 -6.6 8.2 -6.8 8.3 -5.5 10.2 -4.1 10.3 -2.7 10.3 -1.4 10.3 0.4 8.2 1.6 8.3 2.9 8.2 2.7 8.2 0.6 8.2 -1.7 8.3 1.1 8.2 4.1 6.2 7.2 6.1 5.1 6.2 1 7.6 -2M260.8 292.1l-4.1 5.1 -1.6 8.2 1.2 10.3 2.1 10.3 1.6 8.2 2.9 2.1M255.1 305.4l-2.1 -2 1.3 -5.1 -2.1 -3.1 2.5 -3.1 -4.1 -1 -2.5 -3.1 3.5 -1.1 2.7 -3 3.5 2 3 -2 3.1 -3.1M263.9 280.8l-3.1 -4.1 -4.1 -4.2 4.1 -0.4 5.2 1.5 2 -3.1 3.1 3.1M268 270.5l-1.4 -5.2 3.5 -2 4.1 2 2.1 -3 3.1 4.1M279.4 266.4l-1.1 -5.2 1.5 -8.2 2 3.1 0.6 5.1 3.1 -1M289.6 259.2l-1 -7.2 -4.1 -4.1 1 -3.7 3.1 2.6 2.1 -3 2 4.1 3.1 -2.5 3.1 0.8 -2.1 3.7 4.2 0 5.1 -3.1 6.2 -1.4 -2.1 2.5M328.7 235.1l-0.4 -4.1 4.5 -0.6 4.1 -2.1M336.9 228.3l-1 -4.1 3.1 -3.1 -5.1 -2 2 -4.1 3.1 1 3.1 -4.1 2.7 2 -1.7 5.2 5.2 1 -3.1 2.7M367.4 213.9l-0.6 -5.1 3 -3.1 2.5 2.1 -1.4 5.1zM382.2 212.9l1.6 -5.1 1.5 -4.1 2 5.1 -1 4.1zM399 208.8l3.3 -1 2.5 3 -2 2.1 -2.9 -1.6zM406 215l2.9 -2.1 3.1 2.1 -1.4 3 -3.3 -0.6zM418.2 219.1l2 -4.1 5.2 -1.1 4.1 2.1 5.1 1 -2 4.1 -2.1 3.1 -4.1 -1 -3.1 -3.1zM434.6 207.8l3.1 3 3.1 -1 3.1 5.2 6.2 3M439.8 224.2l3.1 -3.1 3 3.1 -1 4.1M443.9 226.3l4.1 4.1 -2.1 2 5.2 2.1 3.1 5.1 6.1 1.1 4.1 -4.1 -2 -3.1 4.1 -1.1 3.5 -1M466.1 198.5l2.5 -1 1.4 2 -1.4 2.7 -2.5 -1.6zM242.3 359.9l2.1 -5.1 3.1 2.1 2 -4.1 3.1 2 2.1 5.1M244.4 258.1l2.1 7.2M430 223.6l5.1 -3.1 4.2 3.1 5.1 3.1 3.1 6.1 5.1 4.6 6.2 3 6.2 -2.4 6.1 2.6 6.2 -3.7 5.1 -3 6.2 -2.7 4.1 -2.5M430 218.4l4.1 -1 3.1 4.1 4.1 -1 4.1 5.1 -3.1 3.1 5.2 4.1M434.1 207.1l3.1 3.1 -1 3.1M440.3 209.2l3.1 4.1 -1.1 3.1 4.2 -1.1 3 2.7M462.9 232.8l5.1 -1.6 5.2 1.6 1 5.2 -4.1 2.6 -5.1 -1.6 -2.1 -3.1zM465 234.9l7.2 0.4M466 236.9l6.8 0.5M467 233.2l4.1 5.8M476.3 224.6l5.1 -1 6.2 3.1 1.6 5.1 -5.3 3.1 -4.5 -2.1 -3.1 -4.1zM477.7 226.7l9.9 2M478.9 229.7l9.1 1.5M480.4 225l3.5 8.9M491.7 218.4l3.1 -3.1 3.1 -6.1 4.1 -3.5 4.5 -0.6 0.6 6.1 -3.1 5.2 -3 4.1 -2.1 5.1 -4.1 1.1 -3.1 -3.1zM493.8 220.5l11.3 -11.3M495.4 223.6l10.7 -11.3M492.7 219.5l7.2 1M496.8 216.4l9.7 -8.3M497.9 212.3l6.1 6.1M494.2 222.5l5.7 2.1M494.8 226.7l3.1 4.5 5.1 4.7 4.1 -2 5.2 2 -1.1 4.7 -4.7 2.1 -3.5 -1.6 -3.1 4.5M499.9 242.1l2.5 -3.1 2.7 3.7 3 -2.7M516.4 208.1l1.4 4.2 -1.4 5.1M514.7 220.1l-2.4 2.9M510.2 225l-4.1 2.1M470.1 198.9l4.1 -2.7 6.2 0 5.5 2.7 3.7 4.1 -3 4.3 -7.2 1.3 -6.6 -1.3 -2.7 -3.3zM466 201l1.4 -2.5 2.7 0.4 0.4 3.1 -2.5 1.6zM489.6 203l3.1 3.1 -1 4.1 4.1 2.1 4.1 -3.1 1.1 -5.2 -3.1 -1.6M472.8 217.4l2.4 -2.7 3.1 1.7 -1 3.7 -3.1 0.4zM489.6 203l6.2 -3.1 5.2 -2 6.1 -1.1 5.2 -1 6.1 1.7 5.2 -1.3 6.1 0.8 5.2 -1.2 3.7 -0.4 0.4 -4.7 1 -5.2 2.1 -2.4 1.6 3.5 0.6 6.1 2.9 4.8 -4.5 3.5 5.6 0 9.2 -1.9 12.3 -2.3 12.4 -1.4 12.3 0.4 8.3 3.1 8.2 6.2 5.1 4.1 2.1 5.1 2 4.5 4.1 2.1 6.2 2.1 5.2 -4.2 6.1 -5.5 6.2 -5.2 3.1 -3 7.2 -1.1 6.1 4.1 5.6 4.2M501 197.9l1.4 -1.7 2 1.7M514.3 195.4l2.1 -1.2 2 1.6M523.6 196.2l1.4 1.7 1.7 -1.7M530.8 195.4l1.6 1.6M508.1 202l6.2 -0.4M517.4 202l6.2 0.4M526.7 202l6.1 -0.4M534.9 201l4.1 0.6M553.4 198.9l2 -3.1 4.2 1 -1.1 -2.6 4.1 1.2 3.1 -4.7 1.7 3.1 2.4 -3.7 2.1 3.7 2.1 2.4M584.2 194.2l3.1 -1.5 4.1 1.5 3.1 -1.5 1.7 3.1M604.8 199.9l4.1 -1 4.1 -0.6 -2 3.7 4.1 2 3.1 3.1 -2.1 2.1M606.9 202l9.2 5.7M608.9 201l8.7 7.6M611 204.4l4.1 -3.4M618.2 214.3l4.1 3.1 5.1 2.7 6.2 -2.7 4.1 -3.1 4.1 -1M648 208.1l1 -2.4 3.1 0.8M630.5 177.7l1 6.2 3.1 0.6 2.1 -3.1 2 1 0.7 -3 -2.7 1 -1.5 -2.1M779.8 108.1l-3.7 0.8 -1.4 2.7 -3.1 0.6 -2.4 3.5 -3.3 -0.6 -2.5 3.7 -3.1 -1 -2 3 -3.1 0 1 4.2 -3.5 1.6 0.4 4.1 -3.7 0.4 0.6 3.7 -4.1 1.5 1 3.1 -4.1 1 0.4 3.5 -3.5 1.2 0.7 4.1 -3.3 1.5 0.8 4.1 -3.3 2 1.2 4.2 -3.3 1.4 1.1 4.1 -3.1 1.2 1.6 4.6 0.9 8.2 1.2 8.2 2.5 10.3 3.7 12.3 4.5 10.3 5.1 10.3 5.2 10.3 5.1 8.2 3.1 6.2 -0.4 6.2 -1.7 7.1M748.6 120.8l2.5 3.1 1.6 2.7M736.7 151.7l-3.1 2.1M731.5 164l-2.7 1.7M730.5 191.8l-2.5 1 0.8 4.1 -2 3.1 2 4.1 -2 5.2 2.9 4.1 -1.3 4.1 2.1 4.1M728.8 224.7l1.7 -2.1 2 3.1 1.1 5.2 -2.1 2.6 -2 -1.6zM755.2 250.4l1.6 4.1 2.5 4.1 2 4.2M758.3 252.5l-0.7 6.1 2.7 6.2 2.7 -2M723.9 247.9l2.5 -1.2 1 2.7M728.8 252.5l2.7 -1.7 2.1 2.1 -1.5 2.7 -2.4 -0.7zM741.2 245.3l2.7 2.6 2 -1.6M746.9 247.9l2.1 2.5 1.6 2.5M739.1 264.8l2.1 -1.6 1.6 2 -2 2.7zM640 215.4l4.1 -4.1 5.2 -5.1 5.1 -2.1 5.1 0.7 6.2 4.5 5.1 4.1 5.2 5.1 4.1 6.2 4.1 5.1 4.1 6.2 6.2 0.4 3.1 5.8 2.5 6.2 0.6 6.1 -1.5 8.3 -2.6 7.1M644.1 211.3l2.1 -2 2 2M652.3 204.8l2.1 -2.1 2.1 1.6M687.3 234l2.1 4.1M698.6 246.3l2.7 2.1 -1.7 4.1M699.6 250l-1 8.2 -2.7 10.3 -0.4 10.3 3.1 9.2 5.2 8.3 5.1 8.2 4.1 7.2 3.1 7.2 3.1 6.2 6.1 2 3.1 7.2 3.1 8.2 5.2 4.2 6.1 4.1 4.1 6.1 3.1 5.2 2.1 6.2 3.1 2 4.1 -1.4 4.1 -2.7 6.2 0.6 4.1 -2.7 3.1 -5.1 1.4 -6.2 1.6 -8.2 1.1 -8.2 0.6 -8.3 0.4 -8.2 -0.4 -8.2 -1.7 -8.2 -3 -8.3 -4.2 -10.2 -5.1 -10.3 -4.1 -9.3 -4.1 -8.2 -3.1 -7.2M698.6 274.7l3.1 -1 2.1 4.1 4.1 -1.1 1 5.2 -3.1 2 1 5.2 -4.1 2 -2 -5.1 -2.1 -5.2zM700.7 276.7l4.7 10.3M701.7 280.8l5.8 -1M713 311.7l3.1 -3.1 5.1 1 -3.1 6.2 4.2 6.2 5.1 -4.1 -3.1 6.1 -5.1 1.1M715.1 313.8l5.1 9.2M716.5 317.9l4.7 2M716.1 321l6.2 4.1M731.5 342.5l7.2 2.1 6.2 3.1 4.1 5.1M733.6 345l13.3 6.2M735.6 344.2l12.4 9.7M746.9 356.9l4.2 -2 3 3.1M750 362.1l3.1 1 4.1 3.1 -2 2.1M752.1 365.2l6.2 0.4M758.3 368.3l3 3M762.4 368.3l3 3.4M766.5 367.2l2.7 4.1M760.3 373.4l3.1 2M764.4 373l3.5 1.4M769.6 369.3l3 -1M763.4 370.3l8.2 -3.1M759.3 371.3l9.2 1.7M773.7 370.3l-5.2 5.6 -7.2 4.7 -7.2 3.1 -5.1 2M730.5 388.8l4.1 -3.1 6.2 -3.1 6.1 -1 1.7 2.5 -5.8 3.3 -6.1 2.4 -5.2 1.7zM732.5 389.8l14.4 -6.5M733.6 388.2l12.3 -3.5M735.6 386.8l9.3 -4.2M724.7 391.5l3.7 -1.7M720.6 389.4l1.7 0 0 2.1 -1.7 0zM696.6 389l3 -0.2M750 307.6l4.1 -5.2 5.2 -2 4.1 4.1 0 7.2 -3.1 5.1 -5.1 -2 -3.1 -4.1zM742 293.6l2.1 -0.8 0.8 2.9 -2.1 1.6zM728.8 251.6l2.7 -0.6 2.1 2.1 -2.1 2 -2.2 -1zM739.1 263.4l2.7 -1.1 1 3.1M738.3 269.5l2.5 2.1M740.4 275.7l3.5 -1 1 3.1 -2.1 3M738.7 278.8l1.2 1.6M750 251l1.1 2.1M757.2 252.1l4.1 8.2 4.1 10.3 5.2 12.3 4.1 11.3 1.4 6.8M757.6 251l5.4 3.1 0.4 4.1M772.6 298.3l3.1 2.1M774.7 356.9l2.1 -6.1 1.4 2M751.1 353.9l1.6 2M812.3 311.3l2.5 4.1 6.2 4.9 5.1 -1.4 6.2 -3.5 6.2 -3.3 6.7 -2 0.5 -2.9 -7.2 2.4 -6.2 2.1 -3.1 -2.5 -3.1 -0.6 -2 4.1 -5.2 2.7 -4.1 -2.7zM824.7 309.6l4.9 3.7M825.1 311.7l3.7 -1M813.8 313.8l7.2 4.1M829.2 293.2l4.1 1.6M836.4 296.3l4.1 1.4M843.6 298.9l4.1 0.9M835.4 301.4l2.4 -1M845.7 309.6l1 -4.1 5.1 -1.6 4.1 1.6 5.2 1.7 7.2 4.5 5.1 4.1 1.5 8.2 -2.9 8.3 -3.3 6.5 -4.9 -6.1 3.4 -6.2 -0.6 -6.6 -4.9 -3.7 -5.4 -4.1 -6.1 -2.5zM859.6 308.6l11.8 12.4M861.1 311.7l11.3 6.2M863.1 309.6l5.2 12.4M865.2 313.8l8.2 8.2M866.2 325.1l5.2 6.1M847.7 311.7l1.7 4.1M854.9 324l3.1 2.1M855.9 329.2l2.5 2.7M807.6 345.6l-1.4 5.2 1.4 4.1M809 358l2.3 5.1M810.7 336.8l3.1 -0.8M816.5 338l2.4 0.8M846.7 341.5l5.1 3.1 2.5 5.1 -2.1 4.2 -4.1 1M845.7 352.8l2 1.1M839.5 361.1l3.1 -2.1 3.1 6.2 4.1 8.2 5.1 8.2 3.1 10.3 4.1 8.2 2.1 8.3 -4.1 6.1 -5.2 -3.1 -3.1 -7.2 -4.1 -8.2 -4.1 -6.2 -6.2 -5.1 -5.1 -3.1 4.1 -3.1 4.1 -5.1 0 -6.2zM847.7 386.8l12.4 25.7M849.8 385.7l12.3 22.7M852.9 387.8l5.1 24.7M846.7 391.9l9.2 2.1M849.8 398.1l9.2 1M852.9 404.2l9.2 0.5M854.9 409.4l8.2 -1M837.4 379.6l5.2 5.1M835.4 381.6l5.1 -4.1M861.1 367.2l5.1 -2 6.2 -2.1 6.2 -2 -4.2 4.1 -7.2 3.7 -5.1 0.4zM772.6 408.8l4.8 -1.5 4.5 -1M791.2 404.2l2.6 3.1M795.3 410.4l2.6 4.1M799.4 417l5.1 6.2M866.6 408.8l3.3 5.7M880.3 349.7l3.1 -2 2.5 2.7 2.6 -1.3 3.1 3.7 5.2 3.1 5.1 4.1 2.5 5.2 -1.1 6.1 -2.4 3.7 3.1 2.9M881.3 348.7l3.7 3.7 -2.6 -1.2M898.2 370.3l3.7 3.1M883.4 372.4l1 7.2 4.1 7.2 7.2 8.2 6.2 7.2 6.2 7.2 6.1 4.1 8.3 3.1 6.5 0.4 -6.5 -1.9 -6.2 -0.6 -5.1 -2M904 404.7l3 3.2M911.2 411.4l4.1 4.8 4.1 1.4M917.3 374.4l3.1 3.1 4.1 6.2 4.1 5.1 3.3 3.1 -3.7 1.2 -3.7 -1.2 2.5 -1.6M910.1 378.5l5.2 1.1M931.7 407.3l2.7 5.2 2.1 6.1M932.8 408.4l3 6.1M922.5 428.9l8.2 -3.7 6.2 -2M875.2 401.2l2.4 2M880.3 396.4l3.1 0.6M636.5 483l6.1 -2 7.2 -2.1 6.2 -3.1 -2.1 -6.2 -1 -4.1 5.1 -4.1 6.2 -5.1 9.3 -5.2 10.3 -4.1 10.2 -3.1 10.3 -1 8.2 -3.1 8.3 -2.4 10.3 -0.7 8.2 0.4 3.1 3.7 5.1 -2 6.2 -3.1 6.1 -2.7 8.3 1.7 8.2 1.6 8.2 2.5 8.3 4.1 6.1 4.1 6.2 4.1 6.2 3.1 8.2 0 6.2 -2 8.2 2 8.2 3.1 8.2 3.1 9.7 4.1M636.5 483l4.1 2.1 6.1 -3.1 4.1 5.1 7.2 -5.1 6.2 -2.1 4.1 -5.1 7.2 -2.1 6.2 -2 6.2 -3.1 4.1 -3.1 4.1 -4.1 6.2 -4.1 2 -2.1 8.2 0 10.3 0.6 10.3 -0.6 5.2 2.1 0 4.1 -5.2 2 -6.2 -1 -3 2.5 4.1 3.7 7.2 3.1 8.2 1 8.2 0 2.1 -5.1 1.6 5.1 6.6 1 8.2 -1 7.2 1 5.2 5.2 6.1 3.1 8.3 3 8.2 2.1 8.2 2 8.2 -1 9.3 -3.1 4.1 5.2 3.1 7.2 3.1 7.2 4.1 5.1 7.2 4.1 7.6 4.1M656 475.8l-3.1 2.1 2.1 2M664.2 456.3l2.1 1.4 4.1 -3.5M681.7 448l2.1 1.5 3 -2.5M753.7 435.7l3.1 -2 5.1 -1.5 10.3 1.5 12.3 3 12.4 6.2 10.2 7.2 8.3 -1 10.3 -1.1 10.2 4.2 10.3 3 8.2 4.2 5.6 3M764 433.7l12.3 4.1M768.1 433l16.4 6.8M776.3 434.7l18.5 9.2M784.5 437.8l16.5 10.2M761.9 434.3l8.2 2M805.1 454.2l10.3 4.1 10.3 2.1 10.2 1 10.3 4.1 8.2 6.2 5.6 3.1M813.3 451.1l12.4 5.2M815.4 450.1l8.2 4.1M825.7 450.1l12.3 8.2M833.9 453.2l12.3 8.2M842.1 456.3l14.4 11.3M846.2 458.3l12.4 13.4M817.4 452.2l3.1 -3.1 5.2 2M704.3 454.2l2.5 7.2 -2.9 8.2 -3.7 5.2 6.2 3.1 4.1 6.1M707.4 456.9l1.4 2.5M713.6 459.4l2 1.6M718.7 463.9l1.7 1.6M731.1 469.6l12.3 4.6M735.2 471.7l16.4 3.1M743.4 472.7l9.2 1.1M692 491.2l3.1 -7.2 4.1 -3.7 6.1 -0.4 4.2 3.1 1 6.2 -2.1 4.1 -6.1 2 -6.2 0zM695.1 484l3 5.2 4.2 2.7 6.1 1.4M711.5 489.2l5.2 2.4 6.1 -1M725.9 489.2l6.2 -1.1M734.1 489.8l7.2 -0.6M743.4 489.2l5.8 -2.1M753.7 488.1l6.1 -1M710.5 486.1l4.1 4.1M726.9 487.1l4.2 3.1M676.6 478.9l4.1 1M682.7 480.3l3.5 -0.4M692 490.2l-1 -5.1M810.2 502.5l7.2 4.2 8.3 4.1 8.2 4.1 8.2 3.1 8.2 2 9.7 3.1M811.3 503.6l12.3 5.5M833.9 513.9l12.3 6.1M844.2 516.9l14.4 4.2M838 515.9l8.2 1.5M824.6 501.5l1.5 1.5M828.7 504.6l1.5 1.6M832.9 502.5l1 1.7M835.9 506.7l1.3 1.6M829.8 508.7l1.6 1.2M826.7 506.7l1 1.2M833.9 510.4l1.6 1.2M827.7 486.1l2.5 5.1M829.4 486.5l2.4 1.6M791.7 552.9l4.8 -1.4M798.5 551.1l5.6 -1.3M751.2 564.2l2.5 0.5 3.1 -0.9 4.1 1.5 -1.1 2 -4.1 -0.6 -3.1 1.7zM775.3 417.2l1 0.6M793.8 411l4.1 6.2M799.9 419.3l4.2 4.1M859.9 464.5l5 5.1 6.2 6.2 7.2 6.2 7.1 4.1 6.2 3.1 10.3 3.1 10.3 3 8.2 1.1 6.2 -2.1 4.1 3.1 0 5.1 -4.1 3.1 4.1 2.1 6.2 -1 7.2 2M859.9 475.4l7 4.9 8.3 4.8 8.2 2.6 8.2 1.5M862.8 466.6l12.4 14.4M861.8 471.7l9.3 7.2M871.1 477.9l10.2 8.2M878.3 484l5.1 2.5M894.7 490.2l3.1 2.1 4.1 -1.1M927.6 503.6l3.1 1.4 3.1 -1.4 1 3.1M859.9 516.9l-11.5 -7.2 -6.1 -5.1 -3.1 -6.2 -4.1 -9.2 -4.1 -5.2 -9.3 2.1 -10.3 1 -10.3 -2 -10.3 -3.1 -8.2 -4.1 -6.1 -5.2M859.9 516.9l7 -3 10.3 -1.5 6.2 3.5 2 5.2 -4.1 6.1 -6.1 4.1 -5.2 4.1 -3.1 6.2 8.3 0 12.3 -3.1 12.3 -2.6 12.4 -1.5 12.3 -1 12.4 1 9.2 0M827.9 486.1l3.1 5.1 -1.1 -3.1M870 533.4l2.1 2.5M810.4 502.5l9.2 4.2 10.3 5.1 10.3 4.1 10.3 3.1 8.2 4.1M811.4 503.6l10.3 5.1M829.9 510.8l12.4 6.6M842.3 515.9l10.2 5.2M840.2 512.8l11.3 4.1M823.8 501.5l1.2 1.5M827.9 504.6l1.2 1.6M832 502.5l1.2 1.3M835.1 507.7l1.4 1.4M846.4 510.8l1.6 1.4M852.5 515.9l1.7 1.5M857.7 516.9l1.4 1.7M862.8 518l1.7 1.4M866.9 520l1.7 1.1M861.8 514.9l1.4 1.2M829.9 506.7l1.3 1.2M825.8 507.7l1.2 1M838.1 510.8l1.3 1.2M910.1 411.6l6.2 2.5 6.2 2.5 7.8 1.2 -5.8 -2.7 -6.1 -4.1M912.2 417.2l10.3 0M936.9 422.3l-6.2 2.5 -5.1 3.7 -4.8 5.8 -2.9 6.5 0.5 7.2 3 6.2 3.1 5.6M923.5 463.9l2.1 0.6M854.6 411l4.1 -1 4.1 2.5 -2 2 -4.1 -0.8zM855.6 411.6l6.2 1.5M866.9 411l3.1 3.5M793.9 411l4.1 5.2M800.1 418.6l3.5 4.2M775.4 416.2l1.1 1.6M848.4 445l0.9 1M791.9 552.3l5.1 -0.8M799.1 550.9l5.1 -1.1M760 565.3l1.6 1M850.6 596l1.7 -4.3 6 -1.7 6.8 -2.6 8.6 0.3 8.6 0.6 8.5 0.5 6.9 0.3 3.4 2.6 5.2 1.7 6.8 1.7 5.2 3.4 3 5.2 -4.8 2.2 -6.8 -0.5 -6.9 -1.7 -3.4 1.7 -3.4 2.6 -1.7 3.4 -2.6 2.1 -3.4 -1.2 1.7 -3.5 -4.3 -0.8 -5.2 0.3 -6.8 1.4 -3.4 -2.6 -4.3 -3.4 -3.4 -2.6 -4.3 -1.7 -5.2 -0.3zM899.4 603.7l3.4 1.2M889.1 609.7l4.3 0.8M928.9 620.3l0.8 0.9M800 551.1l3.8 -1.4M926.8 506.9l1.7 -3.5 4.3 -2.5M927.2 507.7l4.8 1.7 6.8 -0.8 5.2 -1.7M926 531.7l0.8 1.2M263.4 330l0 8.2 -2.1 8.3 -4.1 8.2 -4.5 8.2 -3.7 8.2 -3.1 8.3 -3.1 8.2 -1.6 8.2 -1 8.2 -1.1 8.3 -0.8 8.2 -1.2 8.2 -1.5 8.2 -1.4 8.3 -0.6 8.2 1 8.2 2.1 8.2 4.1 8.3 4.1 8.2 -1 6.2 2 6.1 3.1 8.3 2.1 3M260.3 330l-1 5.1 2 4.2 2.1 -1.1M260.9 331l2.1 5.2M252.7 362.9l-1.6 -6.2 2.4 -4.1 -3.5 -1 -3.1 3.1 -2 -0.4 -2.1 4.5 1.7 4.1 -2.1 3.1 2.5 4.1 -2.1 4.1 2.5 3.1 -2.5 4.1 -3.7 1 -0.4 6.2 2.1 3.1 -1.1 6.2 -1.4 4.1 0.8 6.1 -1.4 3.1 1.4 1.1M245.9 355.7l6.2 5.1M244.9 360.8l5.7 6.2M243.9 369.1l4.7 4.1M246.5 357.8l3.5 11.3M248 354.7l4.7 3.1M239.7 383.5l2.7 5.1M233.6 445.2l-1.1 4.1 1.7 4.1M235.6 465.7l2.1 8.3 3.1 9.2 3.1 5.6 3 -4.1 -3 -6.2 -3.1 -6.2 -4.1 -2.5M238.7 477l6.2 10.3M241.8 482.2l4.7 1M249 483.2l2.1 3.1M211 464.7l1.4 2.1M214 462.6l2.5 -1M219.2 463.7l1.4 -0.4M222.3 464.1l1 -0.4M224.3 459.6l3.1 -1.1 0.6 3.1 -2.7 1zM225.3 454.4l2.7 -1 0.4 3.1 -2.4 0.6zM218.1 450.9l1.3 1.3M230.5 462.6l3.1 -1 -0.6 4.1 -2.1 0zM197.6 508.9l1 1M238.2 480l3.1 6.2 3.1 8.2 3.1 10.3 3.1 8.2 5.1 9.3 6.2 8.2 6.1 8.2 4.2 7.2 2 8.2 2.1 8.3 5.1 5.1 3.1 6.2 4.1 6.1 5.2 3.1 8.2 1.1 7.2 1 5.1 4.1 5.2 2.1 4.1 4.1 3.1 5.1 3 4.1 4.2 1 7.2 -1.4 8.2 -2.3 8.2 -2.4 8.2 -2.1 8.3 1.1 8.2 -1.5 8.2 -4.1 8.2 -1.6 8.3 -1.7 6.1 -0.4 2.1 3.1 6.2 -3.1 6.1 -3.1 8.3 -4.1 8.2 -5.1 7.2 -6.2 3.1 -6.2 1 -8.2 4.1 -5.1 2.1 -7.2 0.6 -10.3 1.4 -10.3 2.1 -7.2 4.5 -5.2M411 594.1l4.1 -2 6.2 -2.1 7.2 -3.1 7.2 0 1 4.2 -4.1 4.1 -5.2 3.7 -6.1 -0.6 -6.2 -2.1zM422.3 589.4l8.2 -3.5M424.3 591.1l7.2 -3.7M237.2 481l3.1 -1 3.1 3.1 2 5.1 -1.4 2.1 -2.7 -3.1 -2 -3.1zM240.3 482.1l4.1 5.1M249.5 485.1l1.1 1.5M261.9 592.7l4.1 0.4 5.1 6.2 -2 4.1 -5.2 -3.1zM264.6 595.2l4.1 5.1M311.2 595.6l2.1 -1.5 2.3 1.5 -1.3 2 -2.4 -0.4zM322.5 616.1l2.5 -2 1.7 2.7 -1.7 3.5 -2 -1.5zM350.9 642.5l1.5 -3.1 4.1 -1 5.1 1.6 4.1 3.5 1.1 2.1 -3.1 -2.7 -4.1 -1.5 -4.2 -0.6zM282.4 591.1l1.5 -3.7 2.7 -0.5 2 -4.1 3.1 -1.6 -2.1 4.1 2.1 -1.4M280.4 565.3l2.7 1.1 -1.3 2.4M332.8 605.4l1.1 2.5M351.3 601.3l2.1 -2 2.5 1.6M357.5 599.7l2.5 -1.4M374 598.3l1.6 2M389.4 593.1l1.4 2.1M444.9 629.1l1 -4.1 4.2 -1.5M455.8 628.5l0.8 0.8M441.8 640.4l1.1 1M436.7 648.2l1 0.8M462 650.7l1.4 -0.8M466.5 647l3.5 -0.8M438.1 658.5l1.3 0.8M404.8 511.9l1 1M406.5 514.1l1 1.1M414.1 538.2l0.8 1M254.3 521.1l1.2 1.3M293.8 659.9l2 -3.4 2.5 3.4M430 583.1l6.2 -3.1 6.1 -4.1 6.2 -5.1 5.2 -5.2 2 -7.2 2.1 -6.1 3 -3.1 1.1 -9.3 0.6 -10.3 1.4 -10.2 3.1 -6.2 6.2 -4.1 8.2 -3.7 10.3 -2.5 10.3 -1.6 10.3 -1.5 7.2 -2 7.2 -2.7 8.2 -1.4 7.2 0.6 9.2 1.4 8.3 2.1 6.1 -1.1 5.2 -2.4 4.1 1.4 3.1 5.1 1 7.2 -0.6 6.2 -2.5 6.2 -4.1 5.1 -5.1 5.2 -4.2 6.1 -3.4 6.2 -1.3 6.2 0.6 5.1 -4.1 3.1 -1 5.1 4.1 2.1 -2.1 6.2 -0.4 6.1 -1.6 8.3 -2.1 8.2 -2.4 8.2 -2.7 8.2 -3.1 6.2 -3.1 6.2 -2 6.2 -1.1 8.2 1.1 8.2 1 5.1M571.9 536.8l1.6 -5.1 3.5 -3.1 3.5 -0.6 -0.8 4.7 -2.7 3.5 -3 2.7zM560 496.7l3.7 -1.6 3.7 1.2 -1.7 2.5 -4.1 0zM577.7 496.7l1.2 4.1M580.1 502.9l1.1 4.5M576.4 500.8l1.3 4.6M549.3 558.4l4.1 -3.1 3.1 3.1 2 2.1 -3.1 2.5 -4.1 0.6zM550.9 570.8l3.5 -2.1 2.7 3.1 -2.7 2.7 -3.1 -0.6zM528.3 602.6l3.5 -7.2 4.1 -6.1 3.1 -2.5 1 6.6 -3.1 5.1 4.2 3.1 1.6 4.1 -2.7 6.2 -3.1 6.2 -1 6.1 -3.1 4.2 -2 4.1 2 2 3.7 -2 1.5 -4.1M528.3 602.6l5.6 1.1 3 -1.1 1.1 7.2 -2.1 8.3 -2 5.1 -3.1 4.1 1 4.1M530.8 632.5l-0.4 8.2 2.4 9.2M532.8 634.5l2.1 6.2 -1 6.2M542.1 611.9l2 2.1 -2 4.1 -2.1 -2.1zM542.1 643.8l2 -9.3 3.1 -5.1 0.8 5.1 -2.4 7.2 -2.9 3.1zM543.5 642.8l3.3 -10.3M544.8 643.8l2.8 -10.3M553.8 633.5l0.8 2.1M556.5 634.5l0.6 1.7M555.9 639.7l0.8 1.4M553.4 643.8l1.6 1M561.6 589.3l0.6 0.8M561.6 594.4l0.6 0.8M444.4 627.9l1.6 -3.2 2.9 -1.3 1.7 0.4M445.2 629.6l2.1 1M455.7 628.6l0.8 0.8M441.3 640.3l1 1M467 646.9l2.5 0.4M478.3 648.9l5.6 0.4M492.7 646.5l3.5 0.4M434.1 474.1l0.8 0.4M430 588.3l4.1 -1.1 2.1 3.1 -2.1 4.1 -4.1 1M535.5 600l-1 8.2 -1.4 8.3 -1.7 8.2 -1 8.2 -1 8.2 1 8.3 -1 8.2 -3.1 8.2 -5.2 7.2 -5.1 5.1 -5.2 5.2 -2 3.1 4.1 3.1 4.1 2 3.1 -3.1 2.1 -3.1 3 3.1 6.2 4.1 4.1 1.1 6.2 -4.1 6.2 -2.1 5.1 -1 1 4.1 5.2 -1 7.2 0.6 8.2 0.4 8.2 -0.4 8.3 -0.6 7.2 -2.1 5.1 -3.1 4.1 -2 4.1 2 6.2 2.1 6.2 1 7.2 -2.1 6.1 -2 7.2 2 6.2 2.7 10.3 0.4 5.1 4.1 6.2 6.2 8.2 4.1 6.2 3.1 5.1 1 2.1 5.2 6.2 4.1 -5.2 3.1 -2 4.1 2 6.2 2.1 6.1 1 7.2M547.9 600l-1.7 6.2 -3.5 8.2M541.3 617.5l-1.7 5.1M538.4 626.7l-0.8 4.1 -2.1 3.1 -1.6 -5.1 -2.5 -2.1M537.2 641.1l-0.6 10.3M535.9 654.5l-0.8 7.2 1.5 4.1 2 3.1M533.9 671l-1.5 7.1M530.4 637l3.5 2.1 -0.8 5.1M531.4 651.4l2.5 4.1M541.7 641.1l2.1 -7.2 3 -5.1 1.1 4.1 -1.7 6.2 -2.9 5.1zM542.9 642.2l4.1 -11.4M544.2 641.1l3.3 -7.2M556.1 633.9l0.8 1.1M554.4 638.7l0.9 1.2M553.6 643.2l2.5 0.4M545.4 658.2l2.5 0.8M531.4 678.1l1.2 -1.6M535.5 672l1.3 -1M516 677.1l3.1 -2.7 2 2.1 -2.4 2.7zM517 676.5l3.1 1.2M508.8 686.4l4.1 4.1 -6.2 4.1 -6.1 4.1 -5.2 1 -1.4 2.1 1.4 2.7 5.2 -1.3 5.1 -2.8 5.1 -5.4 3.1 -2.5 3.1 -1M520.1 688.4l1 4.1 -2 1.1M552 687.4l1 4.1M583.9 673.6l3 -2.6 5.2 -1.5 8.2 -1.6 0.6 1.6 -5.7 1.7 -6.2 2.4 -4.1 1.5zM584.9 673.6l14.4 -4.7M572.1 680.2l1.5 -1.6 2.6 -0.5 0.5 2.1 -2.5 1.2zM607.1 667.5l2.1 -2.1 1.6 1.6 -1.6 2.5zM588 683.9l3.1 0.8M605.9 682.7l3.3 -0.8 2.4 2M648.6 688l2.1 2.1 3.7 -0.4 0.4 -1.7M668.2 700.8l2 -2.1 3.1 1 -2 3.1 -2.1 2.5zM673.3 700.8l4.1 3.1 3.1 3.5 -2 0.6 -3.1 -3.1M683.6 704.9l2.1 3.1 1 -2.1M691.8 723.8l2.1 -4.1 2.4 3.7 -1.2 8.2 2.9 6.2 -2.1 4.5 -1.6 -4.5 -1.4 -6.2zM703.1 724.4l1.5 1.5M706.2 728.5l1.7 1.1M710.3 731.6l1.3 1.7M713.4 734.7l2.1 1.4M703.8 735.7l1.6 1.7M707.2 738.2l1.5 1.6M712.4 727.5l1.6 -1M716.5 729.6l2.1 -1.1M714.4 733.7l2.1 -1.7M705.2 732.6l1.4 -1M703.1 740.3l2.1 1.2M717.5 723.4l1.5 1.2M691.8 680.6l1.3 1.3M694.3 683.3l0.8 3.1M703.1 690.9l1.5 1.2M705.2 695l1.4 1.2M714.4 707.4l2.1 -0.5 2.5 2.1 1 2.1M705.2 705.9l1 1.5M671.7 633.5l1.6 0.6M539.2 721.3l1.3 -1.6 1.2 2.7 -0.8 2.2 -1.3 -0.8zM480 649.4l4.1 -0.5M493.4 646.9l3.1 0.4M487.4 741.9l2.9 -1 1 1.8M542.3 699.7l1 0.9M157.5 640.1l5.1 3.1 8.2 2 8.3 3.1 9.2 2.1 7.2 8.2 8.3 4.1 8.2 4.1 7.2 5.6 7.2 1.6 9.2 1.7 7.2 3.5 9.3 5.1 9.2 2.1 8.3 -0.4 8.2 -3.7 10.3 -3.1 10.3 -3.1 6.1 -4.1 5.2 -2.1 9.2 0.4 10.3 1.7 10.3 4.1 10.3 6.2 10.3 8.2 10.2 9.2 9.7 9.3 17.1 16.4 18.5 18.6M157.5 640.1l1.4 -1.4 1.7 2 -1.1 2.1M170.8 645.2l1.1 -1.6 1 2.1M178 648.3l1.5 -1.4 1.2 2M186.9 650.4l1.4 -1.5 1.5 2.1M307.6 669.9l2.1 -1.4 2.6 1.4M293.2 661.7l3.1 -5.1 2.5 5.1zM322.6 616.9l2.5 -2.5 1.6 3.1 -2 2.7zM377.9 672l2.1 1M264.4 600l3.1 3.1 2.5 -2.1M366.7 137l4.1 3.5 3.4 10.3 4.1 8.6 1.1 6.2 -5.2 -1.1 -1.7 -6.8 -1.7 -8.7 -3.4 -6.7zM374 152l2.5 10M376 160l-2.5 6 4 2M236.5 166l2 2 -1.5 3.5zM237 175.5l2 2M245.7 258.8l1.7 6.2M196.3 294.7l3 3.4 -1.4 4.2 3.4 -1.4 2.1 -2.1 1.4 3.5 -2.1 3.4 2.7 0.7 -1.3 4.1 -2.8 0.7 -0.7 -3.5 -2 -2.7 -0.7 -2.7M204.8 324.9l3.4 -2.1 2 -1.3 -0.6 3.4 -1.4 3.4 -1.4 -2zM197.5 509.5l1 1M180.5 533.5l1 1M434 474l1.5 0.8M404.8 513l1.2 1M406.5 514.5l1 1M414 537.5l1 1M445 629l1 -5 4 -1M442 639.5l1 1M462 650l4 -2M468 649l6 2 6 -2 4 -1M493 647l4 0M453 733l3 3M469 736l1.5 1.5M483 743l3 -2 5 1M433 647.5l1 1M432.5 666.5l1.5 1M432 729l2.5 -5.5 2.5 5.5zM485 459.5l1 3M487.5 464.5l1.5 2.5" fill="none" stroke="#5e3206" stroke-width="1.35" stroke-linejoin="round" stroke-linecap="round"/>
</g>
<path d="M203.2 98.3 L215.1 99.3 L227.1 100.3 L239 101.2 L251 102.1 L262.9 103 L274.9 103.9 L286.8 104.7 L298.8 105.4 L310.7 106.2 L322.7 106.9 L334.7 107.6 L346.6 108.2 L358.6 108.8 L370.6 109.3 L382.6 109.9 L394.5 110.4 L406.5 110.8 L418.5 111.2 L430.5 111.6 L442.5 112 L454.4 112.3 L466.4 112.6 L478.4 112.8 L490.4 113 L502.4 113.2 L514.4 113.3 L526.3 113.5 L538.3 113.5 L550.3 113.6 L562.3 113.6 L574.3 113.5 L586.3 113.5 L598.2 113.3 L610.2 113.2 L622.2 113 L634.2 112.8 L646.2 112.6 L658.2 112.3 L670.1 112 L682.1 111.6 L694.1 111.2 L706.1 110.8 L718.1 110.4 L730 109.9 L742 109.3 L754 108.8 L766 108.2 L777.9 107.6 L789.9 106.9 L801.9 106.2 L813.8 105.4 L825.8 104.7 L837.7 103.9 L849.7 103 L861.6 102.1 L873.6 101.2 L885.5 100.3 L897.5 99.3 L909.4 98.3 L909.4 98.3 L964 728.3 L964 728.3 L950.2 729.4 L936.4 730.6 L922.7 731.7 L908.9 732.7 L895.1 733.7 L881.2 734.7 L867.4 735.6 L853.6 736.5 L839.8 737.4 L826 738.2 L812.2 739 L798.4 739.7 L784.5 740.4 L770.7 741 L756.9 741.6 L743.1 742.2 L729.2 742.7 L715.4 743.2 L701.6 743.7 L687.7 744.1 L673.9 744.4 L660.1 744.8 L646.2 745 L632.4 745.3 L618.6 745.5 L604.7 745.7 L590.9 745.8 L577.1 745.9 L563.2 745.9 L549.4 745.9 L535.5 745.9 L521.7 745.8 L507.9 745.7 L494 745.5 L480.2 745.3 L466.4 745 L452.5 744.8 L438.7 744.4 L424.9 744.1 L411 743.7 L397.2 743.2 L383.4 742.7 L369.5 742.2 L355.7 741.6 L341.9 741 L328.1 740.4 L314.2 739.7 L300.4 739 L286.6 738.2 L272.8 737.4 L259 736.5 L245.2 735.6 L231.4 734.7 L217.5 733.7 L203.7 732.7 L189.9 731.7 L176.2 730.6 L162.4 729.4 L148.6 728.3Z" fill="none" stroke="#000" stroke-width="0.65"/>
<path d="M195.6 89.3 L203.9 90 L221.9 91.5 L240 93 L258 94.3 L276.1 95.6 L294.1 96.8 L312.2 98 L330.2 99 L348.3 100 L366.4 100.8 L384.5 101.6 L402.5 102.4 L420.6 103 L438.7 103.6 L456.8 104 L474.9 104.5 L493 104.8 L511.1 105 L529.2 105.2 L547.3 105.3 L565.3 105.3 L583.4 105.2 L601.5 105 L619.6 104.8 L637.7 104.5 L655.8 104 L673.9 103.6 L692 103 L710.1 102.4 L728.1 101.6 L746.2 100.8 L764.3 100 L782.4 99 L800.4 98 L818.5 96.8 L836.5 95.6 L854.6 94.3 L872.6 93 L890.7 91.5 L908.7 90 L917 89.3 L973 735.8 L964.7 736.5 L943.8 738.3 L922.9 740 L902 741.6 L881.1 743 L860.2 744.4 L839.3 745.7 L818.3 746.9 L797.4 748.1 L776.4 749.1 L755.5 750 L734.5 750.8 L713.6 751.6 L692.6 752.2 L671.6 752.8 L650.7 753.3 L629.7 753.6 L608.7 753.9 L587.8 754.1 L566.8 754.2 L545.8 754.2 L524.8 754.1 L503.9 753.9 L482.9 753.6 L461.9 753.3 L441 752.8 L420 752.2 L399 751.6 L378.1 750.8 L357.1 750 L336.2 749.1 L315.2 748.1 L294.3 746.9 L273.3 745.7 L252.4 744.4 L231.5 743 L210.6 741.6 L189.7 740 L168.8 738.3 L147.9 736.5 L139.6 735.8Z" fill="none" stroke="#000" stroke-width="0.65"/>
<path d="M203.2 98.3 L195.6 89.3" stroke="#000" stroke-width="0.65"/>
<path d="M909.4 98.3 L917 89.3" stroke="#000" stroke-width="0.65"/>
<path d="M148.6 728.3 L139.6 735.8" stroke="#000" stroke-width="0.65"/>
<path d="M964 728.3 L973 735.8" stroke="#000" stroke-width="0.65"/>
<path d="M269.3 103.5L269.9 95.2M224.9 734.3L224.4 742.5M341 107.9L341.4 99.6M307.7 739.4L307.3 747.6M412.7 111L413 102.7M390.5 743L390.2 751.3M484.5 112.9L484.6 104.6M473.4 745.2L473.3 753.5M556.3 113.6L556.3 105.3M556.3 745.9L556.3 754.2M628.1 112.9L628 104.6M639.2 745.2L639.3 753.5M699.9 111L699.6 102.7M722.1 743L722.4 751.3M771.6 107.9L771.2 99.6M804.9 739.4L805.3 747.6M843.3 103.5L842.7 95.2M887.7 734.3L888.2 742.5M151 700.7L142.7 700M961.6 700.7L969.9 700M154 665.7L145.7 665M958.6 665.7L966.9 665M159.9 598L151.6 597.3M952.7 598L961 597.3M165.7 530.6L157.4 529.9M946.9 530.6L955.2 529.9M171.5 463.3L163.3 462.6M941.1 463.3L949.3 462.6M177.4 396.1L169.1 395.3M935.2 396.1L943.5 395.3M183.2 328.8L174.9 328.1M929.4 328.8L937.7 328.1M189 261.5L180.8 260.8M923.6 261.5L931.8 260.8M194.9 194L186.6 193.2M917.7 194L926 193.2M200.8 126.2L192.5 125.5M911.8 126.2L920.1 125.5M202.3 108.2L194.1 107.4M910.3 108.2L918.5 107.4" fill="none" stroke="#000" stroke-width="0.65"/>
<path d="M144.1 732 L148.2 732.4 L159.1 733.3 L170 734.2 L181 735.1 L191.9 736 L202.8 736.8 L213.7 737.6 L224.7 738.4M269.6 99.3 L279.8 100 L290.1 100.7 L300.3 101.4 L310.5 102 L320.7 102.6 L331 103.2 L341.2 103.7M307.5 743.5 L319.3 744.1 L331.2 744.7 L343 745.2 L354.8 745.8 L366.7 746.2 L378.5 746.7 L390.4 747.1M412.9 106.9 L423.1 107.2 L433.3 107.6 L443.6 107.9 L453.8 108.1 L464.1 108.4 L474.3 108.6 L484.6 108.8M473.3 749.3 L485.2 749.5 L497 749.7 L508.9 749.8 L520.7 749.9 L532.6 750 L544.4 750 L556.3 750.1M556.3 109.4 L566.5 109.4 L576.8 109.4 L587 109.3 L597.3 109.2 L607.5 109.1 L617.8 108.9 L628 108.8M639.3 749.3 L651.1 749.1 L663 748.9 L674.8 748.6 L686.7 748.3 L698.5 747.9 L710.4 747.5 L722.2 747.1M699.7 106.9 L710 106.5 L720.2 106.1 L730.5 105.7 L740.7 105.2 L750.9 104.8 L761.2 104.3 L771.4 103.7M805.1 743.5 L817 742.9 L828.8 742.2 L840.6 741.5 L852.5 740.8 L864.3 740 L876.1 739.2 L887.9 738.4M843 99.3 L852.4 98.7 L861.9 98 L871.3 97.2 L880.8 96.5 L890.2 95.7 L899.6 95 L909.1 94.2 L913.2 93.8M144.1 732 L144.4 727.9 L145.6 714.1 L146.8 700.3M965.8 700.3 L964.3 682.8 L962.7 665.4M149.9 665.4 L152.8 631.5 L155.7 597.7M956.9 597.7 L953.9 563.9 L951 530.2M161.6 530.2 L164.5 496.6 L167.4 462.9M945.2 462.9 L942.3 429.3 L939.4 395.7M173.2 395.7 L176.1 362.1 L179.1 328.5M933.5 328.5 L930.6 294.8 L927.7 261.1M184.9 261.1 L187.8 227.4 L190.7 193.6M921.9 193.6 L918.9 159.7 L916 125.8M196.6 125.8 L197.4 116.8 L198.2 107.8M914.4 107.8 L914 102.9 L913.6 97.9 L913.2 93.8" fill="none" stroke="#000" stroke-width="1.3"/>
<path d="M341.4 99.6L341.9 91.1M307.3 747.6L306.8 756.1M484.6 104.6L484.8 96.1M473.3 753.5L473.1 762M628 104.6L627.8 96.1M639.3 753.5L639.5 762M771.2 99.6L770.7 91.1M805.3 747.6L805.8 756.1M195.6 89.3L196.4 80.8M917 89.3L916.2 80.8M139.6 735.8L140.3 744.3M973 735.8L972.3 744.3M145.7 665L137.3 664.3M966.9 665L975.3 664.3M157.4 529.9L149 529.1M955.2 529.9L963.6 529.1M169.1 395.3L160.6 394.6M943.5 395.3L952 394.6M180.8 260.8L172.3 260M931.8 260.8L940.3 260M192.5 125.5L184 124.7M920.1 125.5L928.6 124.7" fill="none" stroke="#000" stroke-width="1"/>
<g font-family="'DejaVu Sans','Liberation Sans',sans-serif" font-size="21.33" fill="#000"><text transform="translate(140.3 744.3) rotate(4.95)" x="0.3" y="21" text-anchor="middle">100°W</text>
<text transform="translate(306.8 756.1) rotate(3.02)" x="2.5" y="21" text-anchor="middle">95°W</text>
<text transform="translate(473.1 762) rotate(1.01)" x="2.5" y="21" text-anchor="middle">90°W</text>
<text transform="translate(639.5 762) rotate(-1.01)" x="2.5" y="21" text-anchor="middle">85°W</text>
<text transform="translate(805.8 756.1) rotate(-3.02)" x="2.5" y="21" text-anchor="middle">80°W</text>
<text transform="translate(972.3 744.3) rotate(-4.95)" x="1.4" y="21" text-anchor="middle">75°W</text>
<text transform="translate(137.3 664.3) rotate(4.95)" x="-6.5" y="7.3" text-anchor="end">16°N</text>
<text transform="translate(149 529.1) rotate(4.95)" x="-6.5" y="7.3" text-anchor="end">20°N</text>
<text transform="translate(160.6 394.6) rotate(4.95)" x="-6.5" y="7.3" text-anchor="end">24°N</text>
<text transform="translate(172.3 260) rotate(4.95)" x="-6.5" y="7.3" text-anchor="end">28°N</text>
<text transform="translate(184 124.7) rotate(4.95)" x="-6.5" y="7.3" text-anchor="end">32°N</text></g>
<defs><linearGradient id="jet" x1="0" y1="1" x2="0" y2="0"><stop offset="0" stop-color="#000080"/><stop offset=".125" stop-color="#0000ff"/><stop offset=".375" stop-color="#00ffff"/><stop offset=".625" stop-color="#ffff00"/><stop offset=".875" stop-color="#ff0000"/><stop offset="1" stop-color="#800000"/></linearGradient></defs>
<rect x="989.4" y="89.2" width="34.2" height="665.3" fill="url(#jet)" stroke="#262626" stroke-width="1"/>
<path d="M1016.1 155.7H1023.6M1016.1 222.3H1023.6M1016.1 288.8H1023.6M1016.1 355.3H1023.6M1016.1 421.8H1023.6M1016.1 488.4H1023.6M1016.1 554.9H1023.6M1016.1 621.4H1023.6M1016.1 688H1023.6" stroke="#262626" stroke-width="1" fill="none"/>
<g font-family="'DejaVu Sans','Liberation Sans',sans-serif" font-size="19.2" fill="#262626"><text x="1031.2" y="95.8">50</text><text x="1031.2" y="162.3">40</text><text x="1031.2" y="228.9">30</text><text x="1031.2" y="295.4">20</text><text x="1031.2" y="361.9">10</text><text x="1031.2" y="428.4">0</text><text x="1031.2" y="495">-10</text><text x="1031.2" y="561.5">-20</text><text x="1031.2" y="628">-30</text><text x="1031.2" y="694.6">-40</text><text x="1031.2" y="761.1">-50</text></g>
</svg></body></html>
